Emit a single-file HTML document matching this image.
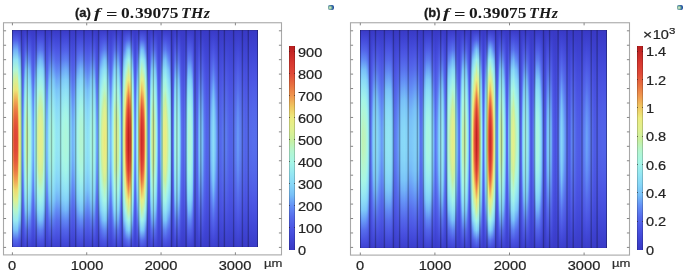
<!DOCTYPE html><html><head><meta charset="utf-8"><style>
*{margin:0;padding:0;box-sizing:border-box}
html,body{width:685px;height:271px;background:#fff;overflow:hidden;position:relative}
body{font-family:"Liberation Sans",sans-serif;color:#2a2a2a}
.a{position:absolute}
.f i{position:absolute;top:0;width:1px;height:100%;display:block}
.f{filter:blur(0.4px)}
.fr{position:absolute;border:1px solid #9a9a9a}
.tk{position:absolute;background:#707070}
.lb{position:absolute;width:60px;margin-left:-30px;text-align:center;font-size:12px;line-height:12px;transform:scaleX(1.22);white-space:nowrap;color:#222;will-change:transform;-webkit-text-stroke:0.2px #222}
.cl{position:absolute;font-size:12px;line-height:12px;transform:scaleX(1.21);transform-origin:0 0;white-space:nowrap;color:#222;will-change:transform;-webkit-text-stroke:0.2px #222}
.cb{position:absolute;box-shadow:inset 1px 0 0 rgba(0,0,0,.18),inset -1px 0 0 rgba(0,0,0,.18)}
.ct{position:absolute;width:1px;height:1px;background:rgba(40,20,20,.55)}
.tp{position:absolute;white-space:nowrap;font:bold 13px/16px "Liberation Sans",sans-serif;color:#1a1a1a;-webkit-text-stroke:0.3px #1a1a1a;will-change:transform;transform:scaleX(1.0);transform-origin:0 0}
.tm{position:absolute;white-space:nowrap;font:bold 13.6px/16px "Liberation Serif",serif;color:#1a1a1a;transform:scaleX(1.28);transform-origin:0 0;will-change:transform}
.it{font-style:italic}
.ico{position:absolute;width:6px;height:5px;border-radius:2px;background:radial-gradient(circle at 35% 55%,#e8f4d8 0,#8cc09c 28%,#2456a4 62%,#1c4090 100%)}
.edge{position:absolute;box-shadow:inset 1px 0 0 rgba(10,10,60,.25),inset -1px 0 0 rgba(10,10,60,.25),inset 0 1px 0 rgba(30,30,70,.22),inset 0 -1px 0 rgba(10,10,60,.08);pointer-events:none}
</style></head><body><div class="a f" style="left:12px;top:30px;width:246px;height:217px"><i style="left:0px;background:linear-gradient(#2f30a2 0px,#3f48ba 10px,#5276c8 20px,#6cacc9 30px,#81c3bf 40px,#94c7a4 50px,#acc37b 60px,#bcc06c 70px,#c1ae58 80px,#c3964a 90px,#c38544 100px,#c37f42 110px,#c38344 120px,#c39249 130px,#c2a954 140px,#bec069 150px,#b1c378 160px,#99c599 170px,#85c6bc 180px,#71b2c8 190px,#5884c8 200px,#424fbc 210px,#363baf 217px)"></i><i style="left:1px;background:linear-gradient(#3a3bc8 0px,#4f5ee7 10px,#6da5f7 20px,#8edff5 30px,#abf6df 40px,#c9f09f 50px,#e7ee87 60px,#efce65 70px,#f09e52 80px,#eb7e46 90px,#e76b3f 100px,#e6653e 110px,#e7693f 120px,#ea7a44 130px,#f0964f 140px,#f0c55f 150px,#eaed83 160px,#d1f09a 170px,#b0f6d7 180px,#94e5f3 190px,#75b9f8 200px,#5467ea 210px,#434bda 217px)"></i><i style="left:2px;background:linear-gradient(#3a3bc8 0px,#5161e8 10px,#72b1f7 20px,#93e5f3 30px,#b1f6d4 40px,#d7f096 50px,#ede479 60px,#f0ab56 70px,#ea7c45 80px,#e45d3c 90px,#e04a38 100px,#de4636 110px,#df4937 120px,#e3583b 130px,#e97542 140px,#f0a053 150px,#eed96f 160px,#dff090 170px,#b8f5c7 180px,#9aebef 190px,#7ac3f8 200px,#556beb 210px,#444cdb 217px)"></i><i style="left:3px;background:linear-gradient(#3a3bc8 0px,#5161e8 10px,#72b1f7 20px,#93e5f3 30px,#b1f6d4 40px,#d7f096 50px,#ede479 60px,#f0ab56 70px,#ea7c45 80px,#e45d3c 90px,#e04a38 100px,#de4636 110px,#df4937 120px,#e3583b 130px,#e97542 140px,#f0a053 150px,#eed96f 160px,#dff090 170px,#b8f5c7 180px,#9aebef 190px,#7ac3f8 200px,#556beb 210px,#444cdb 217px)"></i><i style="left:4px;background:linear-gradient(#3a3bc8 0px,#5161e8 10px,#72b1f7 20px,#93e5f3 30px,#b1f6d4 40px,#d7f096 50px,#ede479 60px,#f0ab56 70px,#ea7c45 80px,#e45d3c 90px,#e04a38 100px,#de4636 110px,#df4937 120px,#e3583b 130px,#e97542 140px,#f0a053 150px,#eed96f 160px,#dff090 170px,#b8f5c7 180px,#9aebef 190px,#7ac3f8 200px,#556beb 210px,#444cdb 217px)"></i><i style="left:5px;background:linear-gradient(#3a3bc8 0px,#5060e8 10px,#71aef7 20px,#92e3f4 30px,#b0f6d7 40px,#d3f098 50px,#ecea7e 60px,#f0b55a 70px,#ec8548 80px,#e6663e 90px,#e2533a 100px,#e04c38 110px,#e15139 120px,#e5613d 130px,#eb7e46 140px,#f0aa56 150px,#ede075 160px,#dbf093 170px,#b5f6cd 180px,#98eaf1 190px,#79c1f8 200px,#556aeb 210px,#444bdb 217px)"></i><i style="left:6px;background:linear-gradient(#3a3bc7 0px,#4d58e5 10px,#648ff6 20px,#84d2f8 30px,#9deeed 40px,#b4f6d0 50px,#d0f09b 60px,#e6ee88 70px,#eedd73 80px,#f0c35e 90px,#f0af58 100px,#f0a755 110px,#f0ac57 120px,#f0be5d 130px,#eed86e 140px,#e8ed85 150px,#d6f097 160px,#b9f4c3 170px,#a2f3e9 180px,#89daf7 190px,#6ba0f7 200px,#5161e8 210px,#4248d8 217px)"></i><i style="left:7px;background:linear-gradient(#393ac7 0px,#4b54e2 10px,#5e80f1 20px,#7ac4f8 30px,#91e2f4 40px,#a7f6e5 50px,#b9f5c4 60px,#cff09c 70px,#e1f08e 80px,#e9ed85 90px,#ece87d 100px,#ede378 110px,#ede77b 120px,#eaed83 130px,#e3ef8c 140px,#d3f099 150px,#bdf3b9 160px,#aaf6e0 170px,#95e7f2 180px,#7fcbf8 190px,#628cf5 200px,#4e5be6 210px,#4046d6 217px)"></i><i style="left:8px;background:linear-gradient(#3536b7 0px,#434bce 10px,#536edc 20px,#6ba8e4 30px,#80cae3 40px,#91dcd9 50px,#a1e2c6 60px,#b1dfa4 70px,#c0dd8d 80px,#cddd85 90px,#d1db80 100px,#d3db7e 110px,#d2db7f 120px,#cedc84 130px,#c3dd8b 140px,#b4de9d 150px,#a4e2c2 160px,#95dfd6 170px,#83cee1 180px,#70b3e4 190px,#5778df 200px,#4750d2 210px,#3b40c4 217px)"></i><i style="left:9px;background:linear-gradient(#2a2a90 0px,#30359e 10px,#3942a8 20px,#4155ae 30px,#4b6fb4 40px,#588cb5 50px,#619ab5 60px,#67a2b3 70px,#6da9b1 80px,#71adae 90px,#74afac 100px,#75b0ab 110px,#74afac 120px,#72adad 130px,#6eaab1 140px,#69a4b3 150px,#629cb5 160px,#5a8fb5 170px,#4e75b4 180px,#435aaf 190px,#3b46a9 200px,#3238a0 210px,#2d2f98 217px)"></i><i style="left:10px;background:linear-gradient(#3737c0 0px,#3b3ec9 10px,#3f45d1 20px,#454dd8 30px,#4a54de 40px,#4e5de1 50px,#5265e4 60px,#566ee7 70px,#5977e9 80px,#5c7eeb 90px,#5d82ec 100px,#5e83ed 110px,#5d82ed 120px,#5c7fec 130px,#5a79ea 140px,#5670e8 150px,#5367e5 160px,#4f5fe2 170px,#4b56df 180px,#464fd9 190px,#4047d3 200px,#3c40cb 210px,#393bc4 217px)"></i><i style="left:11px;background:linear-gradient(#3939c5 0px,#3e42d1 10px,#454ddc 20px,#4c57e4 30px,#5264e9 40px,#5973ee 50px,#5f84f3 60px,#6694f6 70px,#6ca4f7 80px,#71aff7 90px,#74b7f8 100px,#75b9f8 110px,#75b8f8 120px,#72b1f7 130px,#6da6f7 140px,#6797f6 150px,#6187f4 160px,#5a77ef 170px,#5467ea 180px,#4e5ae5 190px,#474fde 200px,#3f44d4 210px,#3b3ecb 217px)"></i><i style="left:12px;background:linear-gradient(#3939c6 0px,#4148d8 10px,#4d58e5 20px,#576dec 30px,#638df5 40px,#73b3f7 50px,#7fcbf8 60px,#89d9f8 70px,#90e1f5 80px,#95e6f3 90px,#98eaf0 100px,#99ebef 110px,#99eaf0 120px,#95e7f2 130px,#91e2f4 140px,#8adbf7 150px,#81cef8 160px,#76baf8 170px,#6694f6 180px,#5974ee 190px,#4f5ce6 200px,#444bda 210px,#3d40cf 217px)"></i><i style="left:13px;background:linear-gradient(#393ac6 0px,#454cdc 10px,#5264e9 20px,#628af4 30px,#77bdf8 40px,#87d7f8 50px,#94e6f3 60px,#a0f1ea 70px,#aaf6e0 80px,#b0f6d6 90px,#b4f6d0 100px,#b6f5cb 110px,#b5f6cf 120px,#b1f6d5 130px,#abf6de 140px,#a2f3e9 150px,#96e8f2 160px,#8adaf7 170px,#7ac4f8 180px,#6593f6 190px,#5569eb 200px,#4850df 210px,#3e43d2 217px)"></i><i style="left:14px;background:linear-gradient(#3334b1 0px,#3f47c6 10px,#4d60d2 20px,#5f8edc 30px,#73b8dd 40px,#82cbd9 50px,#91d8d0 60px,#9cdbc1 70px,#a6daac 80px,#afd796 90px,#b6d68d 100px,#b8d68b 110px,#b7d68c 120px,#b1d792 130px,#a8d9a7 140px,#9edbbe 150px,#93dbce 160px,#85ced8 170px,#77bddd 180px,#6499dc 190px,#5068d5 200px,#424bca 210px,#383dbd 217px)"></i><i style="left:15px;background:linear-gradient(#2a2a91 0px,#3339a1 10px,#3e4cab 20px,#4b6eb4 30px,#5c92b5 40px,#68a3b3 50px,#72aead 60px,#7cb4a4 70px,#83b499 80px,#8ab289 90px,#8eb07e 100px,#90b07a 110px,#8fb07d 120px,#8bb186 130px,#84b396 140px,#7db4a1 150px,#75b0ab 160px,#6aa5b2 170px,#5e96b5 180px,#4f77b4 190px,#4052ad 200px,#363ca4 210px,#2e319a 217px)"></i><i style="left:16px;background:linear-gradient(#393ac6 0px,#454ddc 10px,#5366ea 20px,#638ef6 30px,#7ac3f8 40px,#8adbf7 50px,#97e9f1 60px,#a4f5e7 70px,#adf6da 80px,#b4f6d0 90px,#baf4c2 100px,#bcf4bc 110px,#bbf4c0 120px,#b6f6cc 130px,#aff6d8 140px,#a7f6e5 150px,#9aecef 160px,#8ddef6 170px,#7dc8f8 180px,#6899f6 190px,#566bec 200px,#4851e0 210px,#3e43d2 217px)"></i><i style="left:17px;background:linear-gradient(#393ac6 0px,#444cdb 10px,#5262e8 20px,#6086f3 30px,#74b6f8 40px,#85d3f8 50px,#91e3f4 60px,#9deeed 70px,#a6f6e6 80px,#acf6dc 90px,#b0f6d6 100px,#b2f6d4 110px,#b1f6d5 120px,#adf6da 130px,#a8f6e3 140px,#9ff0eb 150px,#93e5f3 160px,#87d7f8 170px,#78c0f8 180px,#638ef5 190px,#5468ea 200px,#4750de 210px,#3e42d1 217px)"></i><i style="left:18px;background:linear-gradient(#393ac6 0px,#434ada 10px,#505fe7 20px,#5d7df1 30px,#6ea7f7 40px,#7fcaf8 50px,#8bdcf7 60px,#95e7f2 70px,#9eefec 80px,#a5f5e7 90px,#a8f6e2 100px,#aaf6e0 110px,#a9f6e2 120px,#a6f6e6 130px,#9ff0eb 140px,#97e9f1 150px,#8ddef6 160px,#81cef8 170px,#72b1f7 180px,#6085f3 190px,#5264e9 200px,#464edd 210px,#3e42d0 217px)"></i><i style="left:19px;background:linear-gradient(#3939c6 0px,#4046d6 10px,#4a54e2 20px,#5365ea 30px,#5d7df1 40px,#6899f6 50px,#75b8f8 60px,#7ec9f8 70px,#85d3f8 80px,#8adaf7 90px,#8cddf6 100px,#8ddef6 110px,#8dddf6 120px,#8adbf7 130px,#86d5f8 140px,#7fcbf8 150px,#77bdf8 160px,#6ba0f7 170px,#5f83f2 180px,#5569eb 190px,#4c57e4 200px,#4249d8 210px,#3c40ce 217px)"></i><i style="left:20px;background:linear-gradient(#3939c5 0px,#3e43d2 10px,#454ddc 20px,#4d59e5 30px,#5366ea 40px,#5a77ef 50px,#6188f4 60px,#689af6 70px,#6fabf7 80px,#74b7f8 90px,#77bef8 100px,#78c1f8 110px,#78bff8 120px,#75b9f8 130px,#70adf7 140px,#6a9ef7 150px,#628cf5 160px,#5c7af0 170px,#5469eb 180px,#4e5be6 190px,#474fde 200px,#3f45d4 210px,#3b3ecc 217px)"></i><i style="left:21px;background:linear-gradient(#3939c5 0px,#3e42d1 10px,#444bda 20px,#4b55e3 30px,#5160e8 40px,#566bec 50px,#5c7bf0 60px,#6189f4 70px,#6695f6 80px,#6ba0f7 90px,#6ea7f7 100px,#6faaf7 110px,#6ea8f7 120px,#6ba2f7 130px,#6798f6 140px,#628bf5 150px,#5d7ef1 160px,#576eed 170px,#5263e9 180px,#4c57e4 190px,#454ddc 200px,#3f44d3 210px,#3b3dcb 217px)"></i><i style="left:22px;background:linear-gradient(#3939c6 0px,#4045d5 10px,#4952e1 20px,#5263e9 30px,#5b78ef 40px,#6491f6 50px,#71aef7 60px,#7ac4f8 70px,#81cef8 80px,#86d5f8 90px,#89d9f8 100px,#8adaf7 110px,#89d9f7 120px,#87d6f8 130px,#82cff8 140px,#7cc6f8 150px,#73b4f7 160px,#6797f6 170px,#5d7df1 180px,#5366ea 190px,#4b55e3 200px,#4148d8 210px,#3c3fcd 217px)"></i><i style="left:23px;background:linear-gradient(#3132ab 0px,#393ebb 10px,#434dc6 20px,#4c61cd 30px,#577dd5 40px,#65a0d6 50px,#70b2d7 60px,#78bed5 70px,#7ec5d3 80px,#83cad1 90px,#86ccce 100px,#87cecd 110px,#86cdce 120px,#84cad0 130px,#7fc6d2 140px,#79bfd5 150px,#72b5d7 160px,#68a6d7 170px,#5a85d5 180px,#4e67cf 190px,#4551c8 200px,#3b41bd 210px,#3538b3 217px)"></i><i style="left:24px;background:linear-gradient(#2b2c96 0px,#3439a6 10px,#3e4ab0 20px,#4864b8 30px,#5788bb 40px,#649ebc 50px,#6dabb9 60px,#76b3b4 70px,#7db9af 80px,#82baa8 90px,#84baa3 100px,#86baa2 110px,#85baa3 120px,#82baa7 130px,#7ebaae 140px,#77b4b3 150px,#6fadb8 160px,#66a2bc 170px,#5a8fbc 180px,#4b6ab9 190px,#3f4eb1 200px,#363ca8 210px,#2f329e 217px)"></i><i style="left:25px;background:linear-gradient(#393ac7 0px,#474fde 10px,#556aeb 20px,#699bf6 30px,#7fcbf8 40px,#90e2f4 50px,#a0f0eb 60px,#acf6dc 70px,#b7f5c9 80px,#c1f2b1 90px,#c7f0a2 100px,#caf09f 110px,#c8f0a0 120px,#c2f2ae 130px,#b9f4c4 140px,#aef6d9 150px,#a3f3e9 160px,#93e5f3 170px,#83d1f8 180px,#6ea7f7 190px,#5973ee 200px,#4a53e2 210px,#3f44d3 217px)"></i><i style="left:26px;background:linear-gradient(#393ac7 0px,#4851df 10px,#5872ee 20px,#70acf7 30px,#87d6f8 40px,#98eaf0 50px,#a9f6e1 60px,#b7f5c9 70px,#c6f1a6 80px,#d2f099 90px,#daf094 100px,#ddf092 110px,#dbf093 120px,#d4f098 130px,#c8f0a0 140px,#baf4c1 150px,#acf6dd 160px,#9cedee 170px,#8adbf7 180px,#75b9f8 190px,#5c7cf0 200px,#4c56e4 210px,#3f45d4 217px)"></i><i style="left:27px;background:linear-gradient(#393ac7 0px,#4952e0 10px,#5a77ef 20px,#74b5f8 30px,#8adbf7 40px,#9deeed 50px,#aef6d9 60px,#bff3b6 70px,#cff09b 80px,#ddf092 90px,#e3ef8c 100px,#e4ef8a 110px,#e3ef8c 120px,#dff091 130px,#d3f099 140px,#c2f2ae 150px,#b1f6d5 160px,#a1f2ea 170px,#8edff5 180px,#79c2f8 190px,#5e82f2 200px,#4d57e4 210px,#4045d5 217px)"></i><i style="left:28px;background:linear-gradient(#393ac7 0px,#4952e1 10px,#5b78ef 20px,#75b8f8 30px,#8bdcf7 40px,#9eefec 50px,#aff6d7 60px,#c1f2b1 70px,#d2f099 80px,#e0f090 90px,#e4ef8a 100px,#e6ee88 110px,#e5ee8a 120px,#e1f08f 130px,#d5f097 140px,#c4f1a9 150px,#b2f6d3 160px,#a2f3e9 170px,#8fe0f5 180px,#7ac3f8 190px,#5f83f2 200px,#4d58e5 210px,#4045d5 217px)"></i><i style="left:29px;background:linear-gradient(#393ac7 0px,#4952e0 10px,#5a75ef 20px,#72b3f7 30px,#89daf7 40px,#9cedee 50px,#adf6db 60px,#bdf3bb 70px,#ccf09d 80px,#daf094 90px,#e1f08e 100px,#e3ef8c 110px,#e2ef8e 120px,#dcf093 130px,#d0f09b 140px,#c0f2b3 150px,#b0f6d7 160px,#a0f0eb 170px,#8ddef6 180px,#78c0f8 190px,#5e80f2 200px,#4c57e4 210px,#4045d5 217px)"></i><i style="left:30px;background:linear-gradient(#393ac7 0px,#4851df 10px,#5872ee 20px,#70acf7 30px,#87d6f8 40px,#98eaf0 50px,#a9f6e1 60px,#b7f5c9 70px,#c6f1a6 80px,#d2f099 90px,#daf094 100px,#ddf092 110px,#dbf093 120px,#d4f098 130px,#c8f0a0 140px,#baf4c1 150px,#acf6dd 160px,#9cedee 170px,#8adbf7 180px,#75b9f8 190px,#5c7cf0 200px,#4c56e4 210px,#3f45d4 217px)"></i><i style="left:31px;background:linear-gradient(#393ac6 0px,#464edd 10px,#5468eb 20px,#6695f6 30px,#7dc7f8 40px,#8edef6 50px,#9ceded 60px,#a9f6e1 70px,#b2f6d3 80px,#bbf4bf 90px,#c1f2b0 100px,#c4f1aa 110px,#c2f2ae 120px,#bdf3bb 130px,#b4f6d0 140px,#abf6de 150px,#9ff0eb 160px,#91e2f4 170px,#81cdf8 180px,#6ba1f7 190px,#576fed 200px,#4952e1 210px,#3f43d3 217px)"></i><i style="left:32px;background:linear-gradient(#3333b1 0px,#3c43c3 10px,#4856cf 20px,#5473d8 30px,#649bdd 40px,#73b8dd 50px,#7fc7db 60px,#88d1d6 70px,#90d8d0 80px,#96dbca 90px,#99dbc5 100px,#9bdbc3 110px,#9adbc4 120px,#97dbc9 130px,#92d9cf 140px,#8ad2d5 150px,#80c9da 160px,#76bbdd 170px,#68a4dd 180px,#577ada 190px,#4a5ad0 200px,#3f46c6 210px,#373bba 217px)"></i><i style="left:33px;background:linear-gradient(#292a90 0px,#2f349d 10px,#373fa6 20px,#3e4dac 30px,#4663b2 40px,#517bb4 50px,#5a90b5 60px,#619ab5 70px,#66a1b4 80px,#69a5b2 90px,#6ca7b1 100px,#6ca8b1 110px,#6ca7b1 120px,#6aa5b2 130px,#67a2b4 140px,#629cb5 150px,#5b92b5 160px,#5380b5 170px,#4867b3 180px,#4051ad 190px,#3942a8 200px,#31369f 210px,#2c2f97 217px)"></i><i style="left:34px;background:linear-gradient(#3939c5 0px,#3e42d1 10px,#454cdb 20px,#4c56e4 30px,#5263e9 40px,#5871ed 50px,#5f82f2 60px,#6491f6 70px,#6ba0f7 80px,#70acf7 90px,#73b3f7 100px,#74b6f8 110px,#73b4f7 120px,#70adf7 130px,#6ca3f7 140px,#6694f6 150px,#6085f3 160px,#5975ee 170px,#5366ea 180px,#4d59e5 190px,#464edd 200px,#3f44d4 210px,#3b3ecb 217px)"></i><i style="left:35px;background:linear-gradient(#3939c5 0px,#3e43d2 10px,#464edd 20px,#4e5ae6 30px,#5468eb 40px,#5c7bf0 50px,#638df5 60px,#6ba1f7 70px,#72b2f7 80px,#77bff8 90px,#7ac3f8 100px,#7bc5f8 110px,#7ac4f8 120px,#78c0f8 130px,#73b5f8 140px,#6da5f7 150px,#6491f6 160px,#5d7ff1 170px,#556bec 180px,#4f5de7 190px,#4850df 200px,#4045d5 210px,#3b3ecc 217px)"></i><i style="left:36px;background:linear-gradient(#3939c6 0px,#4046d6 10px,#4b55e3 20px,#5468ea 30px,#5f82f2 40px,#6ba2f7 50px,#78c1f8 60px,#81cef8 70px,#89d9f8 80px,#8ddef6 90px,#90e1f5 100px,#91e3f4 110px,#91e2f4 120px,#8edff5 130px,#8adaf7 140px,#83d1f8 150px,#7ac4f8 160px,#6ea8f7 170px,#6188f4 180px,#566bec 190px,#4d58e5 200px,#4249d9 210px,#3c40ce 217px)"></i><i style="left:37px;background:linear-gradient(#3939c6 0px,#4249d8 10px,#4e5ae6 20px,#5973ee 30px,#6696f6 40px,#77bef8 50px,#83d1f8 60px,#8ddef6 70px,#94e6f3 80px,#9aebef 90px,#9eefec 100px,#9ff0eb 110px,#9eefec 120px,#9becee 130px,#95e7f2 140px,#8edff5 150px,#86d4f8 160px,#7ac3f8 170px,#6a9ef7 180px,#5b7af0 190px,#505fe7 200px,#444cdb 210px,#3d41cf 217px)"></i><i style="left:38px;background:linear-gradient(#3637bb 0px,#4047ce 10px,#4c5adb 20px,#5878e4 30px,#69a2ea 40px,#79c1eb 50px,#85d1e9 60px,#8fdce4 70px,#97e4de 80px,#9ee9d9 90px,#a1e9d3 100px,#a2e9d1 110px,#a2e9d2 120px,#9fe9d7 130px,#99e5dd 140px,#90dee3 150px,#87d4e8 160px,#7cc5eb 170px,#6dabea 180px,#5b80e6 190px,#4e5fdd 200px,#424ad1 210px,#3a3ec5 217px)"></i><i style="left:39px;background:linear-gradient(#2a2a91 0px,#31369f 10px,#3a45a9 20px,#445cb0 30px,#517bb4 40px,#5d94b5 50px,#66a1b4 60px,#6da9b1 70px,#74afac 80px,#79b3a8 90px,#7cb4a4 100px,#7db4a3 110px,#7cb4a4 120px,#7ab4a7 130px,#75b0ab 140px,#6faab0 150px,#68a3b3 160px,#5f97b5 170px,#5382b5 180px,#4662b1 190px,#3c49aa 200px,#3339a1 210px,#2d3098 217px)"></i><i style="left:40px;background:linear-gradient(#3637bb 0px,#4046ce 10px,#4c59db 20px,#5876e4 30px,#689eea 40px,#78bfeb 50px,#83d0e9 60px,#8ddae5 70px,#95e2e0 80px,#9be7db 90px,#9fe9d6 100px,#a0e9d4 110px,#9fe9d6 120px,#9ce8da 130px,#97e3de 140px,#8edce5 150px,#85d2e9 160px,#7ac3eb 170px,#6ba7ea 180px,#5a7de6 190px,#4e5edc 200px,#424ad1 210px,#3a3ec5 217px)"></i><i style="left:41px;background:linear-gradient(#393ac6 0px,#434ad9 10px,#4f5de7 20px,#5b79f0 30px,#6ba0f7 40px,#7cc6f8 50px,#88d8f8 60px,#92e3f4 70px,#9aebef 80px,#a0f1ea 90px,#a4f5e7 100px,#a6f6e6 110px,#a5f5e7 120px,#a1f2e9 130px,#9bedee 140px,#93e5f3 150px,#8adbf7 160px,#7ecaf8 170px,#6fa9f7 180px,#5e80f2 190px,#5162e8 200px,#454ddc 210px,#3d41d0 217px)"></i><i style="left:42px;background:linear-gradient(#3939c6 0px,#4249d8 10px,#4e5ae6 20px,#5973ee 30px,#6695f6 40px,#77bef8 50px,#83d1f8 60px,#8dddf6 70px,#94e6f3 80px,#9aebef 90px,#9eefec 100px,#9ff0eb 110px,#9eefec 120px,#9becee 130px,#95e7f2 140px,#8edff5 150px,#85d4f8 160px,#7ac3f8 170px,#6a9ef7 180px,#5b79f0 190px,#505fe7 200px,#444cdb 210px,#3d41cf 217px)"></i><i style="left:43px;background:linear-gradient(#3939c6 0px,#4148d7 10px,#4d58e5 20px,#566cec 30px,#628cf5 40px,#72b0f7 50px,#7ec9f8 60px,#88d8f8 70px,#8fdff5 80px,#94e5f3 90px,#97e9f1 100px,#98eaf0 110px,#97e9f1 120px,#94e6f3 130px,#90e1f5 140px,#89d9f7 150px,#80ccf8 160px,#75b8f8 170px,#6592f6 180px,#5973ee 190px,#4f5ce6 200px,#444bda 210px,#3d40cf 217px)"></i><i style="left:44px;background:linear-gradient(#3939c6 0px,#4147d7 10px,#4c56e4 20px,#5569eb 30px,#6085f3 40px,#6da6f7 50px,#7ac3f8 60px,#83d1f8 70px,#8adbf7 80px,#8fe0f5 90px,#92e4f4 100px,#93e5f3 110px,#93e4f3 120px,#90e1f5 130px,#8bdcf7 140px,#85d3f8 150px,#7cc6f8 160px,#70adf7 170px,#628bf5 180px,#576dec 190px,#4e59e5 200px,#434ad9 210px,#3d40ce 217px)"></i><i style="left:45px;background:linear-gradient(#3939c6 0px,#4147d7 10px,#4c56e4 20px,#556aeb 30px,#6086f3 40px,#6ea8f7 50px,#7bc4f8 60px,#84d2f8 70px,#8bdcf7 80px,#90e1f5 90px,#93e5f3 100px,#94e6f3 110px,#93e5f3 120px,#91e2f4 130px,#8cddf6 140px,#86d5f8 150px,#7dc7f8 160px,#71aff7 170px,#638cf5 180px,#576eed 190px,#4e5ae5 200px,#434ad9 210px,#3d40ce 217px)"></i><i style="left:46px;background:linear-gradient(#3939c6 0px,#4147d7 10px,#4c56e4 20px,#556aeb 30px,#6188f4 40px,#6faaf7 50px,#7cc6f8 60px,#85d4f8 70px,#8cddf6 80px,#91e2f4 90px,#94e6f3 100px,#95e7f2 110px,#94e6f3 120px,#92e3f4 130px,#8ddef6 140px,#87d6f8 150px,#7ec9f8 160px,#72b1f7 170px,#638ef5 180px,#576fed 190px,#4e5ae6 200px,#434ada 210px,#3d40ce 217px)"></i><i style="left:47px;background:linear-gradient(#3738c0 0px,#3f45d1 10px,#4a55de 20px,#5368e5 30px,#5f86ee 40px,#6da9f1 50px,#7ac2f1 60px,#83d0f1 70px,#89d8ef 80px,#8edeed 90px,#91e1ec 100px,#92e2eb 110px,#92e1ec 120px,#8fdeed 130px,#8bd9ef 140px,#84d2f1 150px,#7cc5f1 160px,#70b0f1 170px,#618cef 180px,#566ee7 190px,#4c59e0 200px,#4148d4 210px,#3b3fc9 217px)"></i><i style="left:48px;background:linear-gradient(#292a90 0px,#30359e 10px,#3941a7 20px,#4052ad 30px,#4a6bb4 40px,#5688b5 50px,#5f97b5 60px,#66a0b4 70px,#6ba6b2 80px,#6fabb0 90px,#72adae 100px,#73aead 110px,#72adad 120px,#70abaf 130px,#6ca7b1 140px,#67a2b4 150px,#6099b5 160px,#588db5 170px,#4c71b4 180px,#4257af 190px,#3a44a9 200px,#3237a0 210px,#2d2f97 217px)"></i><i style="left:49px;background:linear-gradient(#3435b6 0px,#3d43c7 10px,#4855d4 20px,#536ddc 30px,#6190e3 40px,#70b3e4 50px,#7cc5e4 60px,#84cfe1 70px,#8bd7dd 80px,#91dcd9 90px,#95dfd6 100px,#96e0d5 110px,#95dfd6 120px,#92dcd8 130px,#8dd8dc 140px,#86d1e0 150px,#7ec7e4 160px,#73b7e4 170px,#6498e3 180px,#5574dd 190px,#4a59d5 200px,#3f47ca 210px,#383cbf 217px)"></i><i style="left:50px;background:linear-gradient(#393ac6 0px,#434ada 10px,#505ee7 20px,#5c7cf1 30px,#6da6f7 40px,#7ec9f8 50px,#8bdbf7 60px,#94e6f3 70px,#9deeed 80px,#a4f4e8 90px,#a8f6e3 100px,#a9f6e1 110px,#a8f6e3 120px,#a5f5e7 130px,#9ff0eb 140px,#96e8f2 150px,#8dddf6 160px,#81cdf8 170px,#71aff7 180px,#5f84f3 190px,#5263e9 200px,#464edd 210px,#3e42d0 217px)"></i><i style="left:51px;background:linear-gradient(#393ac6 0px,#434ada 10px,#505fe7 20px,#5d7ef1 30px,#6fa9f7 40px,#7fcbf8 50px,#8cddf6 60px,#96e8f2 70px,#9ff0eb 80px,#a6f6e6 90px,#a9f6e1 100px,#abf6de 110px,#aaf6e0 120px,#a7f6e5 130px,#a1f1ea 140px,#98eaf1 150px,#8edff5 160px,#82cff8 170px,#72b3f7 180px,#6086f3 190px,#5264e9 200px,#464edd 210px,#3e42d1 217px)"></i><i style="left:52px;background:linear-gradient(#393ac6 0px,#444bda 10px,#5160e8 20px,#5e80f2 30px,#70adf7 40px,#81cdf8 50px,#8ddef6 60px,#98e9f1 70px,#a1f2ea 80px,#a8f6e4 90px,#abf6de 100px,#adf6dc 110px,#acf6dd 120px,#a8f6e2 130px,#a2f3e9 140px,#9aebef 150px,#8fe1f5 160px,#84d1f8 170px,#74b6f8 180px,#6188f4 190px,#5365e9 200px,#464fdd 210px,#3e42d1 217px)"></i><i style="left:53px;background:linear-gradient(#393ac6 0px,#444bda 10px,#5161e8 20px,#5f82f2 30px,#71b0f7 40px,#82cff8 50px,#8fe0f5 60px,#99ebf0 70px,#a3f3e8 80px,#a9f6e1 90px,#adf6db 100px,#aef6d9 110px,#adf6da 120px,#aaf6e0 130px,#a4f5e7 140px,#9bedee 150px,#91e2f4 160px,#85d3f8 170px,#75baf8 180px,#628af4 190px,#5366ea 200px,#474fde 210px,#3e42d1 217px)"></i><i style="left:54px;background:linear-gradient(#393ac6 0px,#444bda 10px,#5160e8 20px,#5e80f2 30px,#70adf7 40px,#81cdf8 50px,#8ddef6 60px,#98e9f1 70px,#a1f2ea 80px,#a8f6e4 90px,#abf6de 100px,#adf6dc 110px,#acf6dd 120px,#a8f6e2 130px,#a3f3e9 140px,#9aebef 150px,#90e1f5 160px,#84d1f8 170px,#74b6f8 180px,#6188f4 190px,#5365e9 200px,#464fdd 210px,#3e42d1 217px)"></i><i style="left:55px;background:linear-gradient(#393ac6 0px,#434ada 10px,#505fe7 20px,#5d7ef1 30px,#6ea9f7 40px,#7fcbf8 50px,#8cdcf6 60px,#96e8f2 70px,#9ff0eb 80px,#a6f6e6 90px,#a9f6e1 100px,#abf6df 110px,#aaf6e0 120px,#a6f6e5 130px,#a0f1ea 140px,#98e9f1 150px,#8edff5 160px,#82cff8 170px,#72b2f7 180px,#6086f3 190px,#5264e9 200px,#464edd 210px,#3e42d1 217px)"></i><i style="left:56px;background:linear-gradient(#3738c1 0px,#4148d3 10px,#4d5be0 20px,#5976e9 30px,#689cf0 40px,#79c1f1 50px,#85d3f1 60px,#8edded 70px,#96e5e8 80px,#9cebe4 90px,#a0eee1 100px,#a2efdf 110px,#a1efe0 120px,#9dece3 130px,#97e7e7 140px,#90dfec 150px,#87d5f0 160px,#7bc4f1 170px,#6ca5f0 180px,#5b7deb 190px,#4f5fe2 200px,#444bd6 210px,#3c40ca 217px)"></i><i style="left:57px;background:linear-gradient(#292a90 0px,#2f349d 10px,#383fa7 20px,#3f4eac 30px,#4765b2 40px,#527fb4 50px,#5b92b5 60px,#629cb5 70px,#67a2b3 80px,#6ba6b2 90px,#6da9b1 100px,#6eaab0 110px,#6da9b1 120px,#6ba7b2 130px,#68a3b3 140px,#639eb5 150px,#5d94b5 160px,#5484b5 170px,#4969b4 180px,#4053ad 190px,#3943a8 200px,#31369f 210px,#2c2f97 217px)"></i><i style="left:58px;background:linear-gradient(#3435b6 0px,#3a3fc3 10px,#434bce 20px,#4b59d5 30px,#526bdb 40px,#5b81e1 50px,#659ae3 60px,#6eb0e4 70px,#74b9e4 80px,#79c0e4 90px,#7bc4e4 100px,#7cc5e4 110px,#7cc4e4 120px,#79c1e4 130px,#75bbe4 140px,#70b2e4 150px,#679fe3 160px,#5c86e2 170px,#5470dc 180px,#4c5cd6 190px,#454dd0 200px,#3c41c6 210px,#373abc 217px)"></i><i style="left:59px;background:linear-gradient(#3939c5 0px,#3f43d3 10px,#464fde 20px,#4e5be6 30px,#5569eb 40px,#5d7df1 50px,#6490f6 60px,#6da5f7 70px,#74b7f8 80px,#79c2f8 90px,#7cc6f8 100px,#7dc7f8 110px,#7cc6f8 120px,#7ac3f8 130px,#75b9f8 140px,#6ea9f7 150px,#6695f6 160px,#5e81f2 170px,#566cec 180px,#505ee7 190px,#4851e0 200px,#4045d5 210px,#3c3ecc 217px)"></i><i style="left:60px;background:linear-gradient(#3939c5 0px,#3e42d1 10px,#444cdb 20px,#4c56e4 30px,#5262e9 40px,#576fed 50px,#5e80f2 60px,#638ff6 70px,#6a9df7 80px,#6ea9f7 90px,#71b0f7 100px,#72b2f7 110px,#72b1f7 120px,#6fabf7 130px,#6ba0f7 140px,#6591f6 150px,#5f83f2 160px,#5973ee 170px,#5365e9 180px,#4d58e5 190px,#464edd 200px,#3f44d3 210px,#3b3ecb 217px)"></i><i style="left:61px;background:linear-gradient(#3939c5 0px,#3e43d2 10px,#454ddc 20px,#4d57e5 30px,#5365e9 40px,#5974ee 50px,#6085f3 60px,#6695f6 70px,#6da5f7 80px,#72b1f7 90px,#75b8f8 100px,#76bbf8 110px,#75b9f8 120px,#72b3f7 130px,#6ea8f7 140px,#6899f6 150px,#6188f4 160px,#5a77ef 170px,#5467ea 180px,#4e5ae5 190px,#474fde 200px,#3f44d4 210px,#3b3ecb 217px)"></i><i style="left:62px;background:linear-gradient(#3939c5 0px,#3e43d2 10px,#464edd 20px,#4e5ae5 30px,#5468ea 40px,#5b7af0 50px,#638cf5 60px,#6ba0f7 70px,#72b1f7 80px,#77bdf8 90px,#7ac2f8 100px,#7bc4f8 110px,#7ac3f8 120px,#78bff8 130px,#73b3f7 140px,#6ca4f7 150px,#6490f6 160px,#5d7ef1 170px,#556aeb 180px,#4f5de6 190px,#4850df 200px,#3f45d5 210px,#3b3ecc 217px)"></i><i style="left:63px;background:linear-gradient(#292a90 0px,#2e339c 10px,#363ca4 20px,#3c49aa 30px,#4359af 40px,#4a6cb4 50px,#5381b5 60px,#5a90b5 70px,#5f97b5 80px,#639db5 90px,#659fb4 100px,#65a0b4 110px,#659fb4 120px,#639db5 130px,#6098b5 140px,#5b91b5 150px,#5585b5 160px,#4c70b4 170px,#445cb0 180px,#3d4bab 190px,#373ea6 200px,#30359d 210px,#2c2e96 217px)"></i><i style="left:64px;background:linear-gradient(#3333b0 0px,#3a40c0 10px,#454fcc 20px,#4d62d3 30px,#587edb 40px,#66a0dd 50px,#71b5dd 60px,#7ac1dd 70px,#80c8da 80px,#85ced8 90px,#88d1d6 100px,#89d2d5 110px,#88d1d6 120px,#85ced8 130px,#81cada 140px,#7bc3dc 150px,#73b8dd 160px,#69a6dd 170px,#5b84dc 180px,#4f67d4 190px,#4652cd 200px,#3c43c3 210px,#363ab9 217px)"></i><i style="left:65px;background:linear-gradient(#393ac6 0px,#434ad9 10px,#4f5de6 20px,#5b78ef 30px,#6a9ff7 40px,#7bc5f8 50px,#88d8f8 60px,#91e3f4 70px,#99ebf0 80px,#a0f0eb 90px,#a4f4e8 100px,#a5f5e7 110px,#a4f4e7 120px,#a1f1ea 130px,#9becef 140px,#93e4f3 150px,#8adaf7 160px,#7ec9f8 170px,#6ea8f7 180px,#5e7ff1 190px,#5161e8 200px,#454ddc 210px,#3d41d0 217px)"></i><i style="left:66px;background:linear-gradient(#393ac6 0px,#434ada 10px,#505fe7 20px,#5d7ef1 30px,#6ea8f7 40px,#7fcaf8 50px,#8cdcf6 60px,#95e7f2 70px,#9eefec 80px,#a5f5e7 90px,#a9f6e1 100px,#aaf6df 110px,#a9f6e1 120px,#a6f6e6 130px,#a0f1eb 140px,#97e9f1 150px,#8edef6 160px,#82cff8 170px,#72b2f7 180px,#6085f3 190px,#5264e9 200px,#464edd 210px,#3e42d1 217px)"></i><i style="left:67px;background:linear-gradient(#393ac6 0px,#444bdb 10px,#5161e8 20px,#5f83f2 30px,#72b1f7 40px,#83d0f8 50px,#8fe0f5 60px,#9aecef 70px,#a4f4e8 80px,#aaf6e0 90px,#aef6da 100px,#aff6d8 110px,#aef6d9 120px,#abf6de 130px,#a5f5e7 140px,#9ceded 150px,#91e3f4 160px,#86d4f8 170px,#76bbf8 180px,#628bf5 190px,#5366ea 200px,#474fde 210px,#3e42d1 217px)"></i><i style="left:68px;background:linear-gradient(#393ac6 0px,#454cdb 10px,#5263e9 20px,#6188f4 30px,#76bbf8 40px,#86d5f8 50px,#93e5f3 60px,#9ff0eb 70px,#a8f6e2 80px,#aff6d8 90px,#b3f6d2 100px,#b4f6d0 110px,#b3f6d1 120px,#b0f6d7 130px,#aaf6e0 140px,#a1f2ea 150px,#95e7f2 160px,#89d9f7 170px,#7ac2f8 180px,#6491f6 190px,#5469eb 200px,#4850df 210px,#3e43d2 217px)"></i><i style="left:69px;background:linear-gradient(#393ac6 0px,#444cdb 10px,#5263e9 20px,#6087f3 30px,#75b8f8 40px,#85d4f8 50px,#92e4f4 60px,#9eefec 70px,#a7f6e4 80px,#aef6da 90px,#b1f6d4 100px,#b3f6d2 110px,#b2f6d3 120px,#aef6d9 130px,#a9f6e2 140px,#a0f1eb 150px,#94e6f3 160px,#88d8f8 170px,#79c1f8 180px,#648ff6 190px,#5468eb 200px,#4750df 210px,#3e42d1 217px)"></i><i style="left:70px;background:linear-gradient(#393ac6 0px,#444cdb 10px,#5262e8 20px,#6086f3 30px,#74b6f8 40px,#85d3f8 50px,#91e2f4 60px,#9ceeed 70px,#a6f6e6 80px,#acf6dc 90px,#b0f6d6 100px,#b2f6d4 110px,#b1f6d5 120px,#adf6da 130px,#a8f6e3 140px,#9ff0ec 150px,#93e5f3 160px,#87d7f8 170px,#78c0f8 180px,#638ef5 190px,#5467ea 200px,#4750de 210px,#3e42d1 217px)"></i><i style="left:71px;background:linear-gradient(#2e2fa1 0px,#373cb1 10px,#414dbc 20px,#4b66c3 30px,#5a89c8 40px,#67a5c9 50px,#72b3c8 60px,#79bcc4 70px,#81c3bf 80px,#86c7bb 90px,#89c8b6 100px,#8bc8b4 110px,#8ac8b6 120px,#87c8ba 130px,#82c4be 140px,#7bbdc3 150px,#73b5c7 160px,#6aa8c9 170px,#5d91c9 180px,#4e6dc5 190px,#4351bd 200px,#393fb3 210px,#3235a9 217px)"></i><i style="left:72px;background:linear-gradient(#2e2fa1 0px,#363bb0 10px,#3f4aba 20px,#485ec1 30px,#547bc8 40px,#629cc9 50px,#6babc9 60px,#73b5c7 70px,#79bbc5 80px,#7ec0c1 90px,#81c3bf 100px,#82c4be 110px,#82c3be 120px,#7fc1c0 130px,#7abdc4 140px,#74b6c6 150px,#6daec9 160px,#649fc9 170px,#5782c8 180px,#4b64c3 190px,#414dbc 200px,#383eb2 210px,#3235a8 217px)"></i><i style="left:73px;background:linear-gradient(#3939c6 0px,#4147d7 10px,#4c57e4 20px,#556bec 30px,#6189f4 40px,#70acf7 50px,#7cc7f8 60px,#86d5f8 70px,#8dddf6 80px,#92e3f4 90px,#95e7f3 100px,#96e8f2 110px,#95e7f2 120px,#92e4f4 130px,#8edff5 140px,#88d7f8 150px,#7ecaf8 160px,#73b3f7 170px,#648ff6 180px,#5870ed 190px,#4e5be6 200px,#434ada 210px,#3d40cf 217px)"></i><i style="left:74px;background:linear-gradient(#3939c6 0px,#4047d6 10px,#4b55e3 20px,#5468eb 30px,#5f84f3 40px,#6ca4f7 50px,#79c2f8 60px,#82cff8 70px,#89daf7 80px,#8edff5 90px,#91e2f4 100px,#92e4f4 110px,#91e3f4 120px,#8fe0f5 130px,#8adbf7 140px,#84d2f8 150px,#7bc5f8 160px,#6faaf7 170px,#6189f4 180px,#566cec 190px,#4d59e5 200px,#4349d9 210px,#3d40ce 217px)"></i><i style="left:75px;background:linear-gradient(#3939c6 0px,#4046d6 10px,#4a54e2 20px,#5366ea 30px,#5d7ef1 40px,#699bf6 50px,#75baf8 60px,#7fcaf8 70px,#86d4f8 80px,#8adbf7 90px,#8ddef6 100px,#8edff5 110px,#8edef6 120px,#8bdcf7 130px,#87d6f8 140px,#80ccf8 150px,#78bff8 160px,#6ba1f7 170px,#5f84f3 180px,#5569eb 190px,#4c57e4 200px,#4249d8 210px,#3c40ce 217px)"></i><i style="left:76px;background:linear-gradient(#3939c6 0px,#4046d6 10px,#4b55e3 20px,#5468ea 30px,#5f82f2 40px,#6ba2f7 50px,#78c1f8 60px,#81cef8 70px,#89d9f8 80px,#8ddef6 90px,#90e1f5 100px,#91e3f4 110px,#90e2f4 120px,#8edff5 130px,#8adaf7 140px,#83d0f8 150px,#7ac4f8 160px,#6ea8f7 170px,#6188f4 180px,#566bec 190px,#4d58e5 200px,#4249d9 210px,#3c40ce 217px)"></i><i style="left:77px;background:linear-gradient(#3939c6 0px,#4147d7 10px,#4c57e4 20px,#556bec 30px,#6189f4 40px,#70acf7 50px,#7cc7f8 60px,#86d5f8 70px,#8dddf6 80px,#92e3f4 90px,#95e7f3 100px,#96e8f2 110px,#95e7f2 120px,#92e4f4 130px,#8edff5 140px,#88d7f8 150px,#7ecaf8 160px,#73b3f7 170px,#648ff6 180px,#5870ed 190px,#4e5be6 200px,#434ada 210px,#3d40cf 217px)"></i><i style="left:78px;background:linear-gradient(#393ac6 0px,#4249d9 10px,#4f5ce6 20px,#5a76ef 30px,#699bf6 40px,#7ac3f8 50px,#86d5f8 60px,#90e1f5 70px,#97e9f1 80px,#9deeec 90px,#a1f2e9 100px,#a3f3e8 110px,#a2f2e9 120px,#9eefec 130px,#99eaf0 140px,#91e2f4 150px,#88d8f8 160px,#7cc7f8 170px,#6ca4f7 180px,#5d7df1 190px,#5160e8 200px,#454ddc 210px,#3d41d0 217px)"></i><i style="left:79px;background:linear-gradient(#3636bb 0px,#3f46ce 10px,#4b59db 20px,#5775e4 30px,#679dea 40px,#77beeb 50px,#83cfea 60px,#8cdae6 70px,#95e1e0 80px,#9be7db 90px,#9fe9d7 100px,#a0e9d5 110px,#9fe9d7 120px,#9ce8db 130px,#96e3df 140px,#8edbe5 150px,#85d1e9 160px,#7ac2eb 170px,#6ba6ea 180px,#5a7de5 190px,#4e5edc 200px,#424ad1 210px,#3a3ec5 217px)"></i><i style="left:80px;background:linear-gradient(#2a2a91 0px,#31369f 10px,#3a45a9 20px,#435bb0 30px,#5079b4 40px,#5c93b5 50px,#65a0b4 60px,#6ca8b1 70px,#73aead 80px,#77b2a9 90px,#7ab4a6 100px,#7bb4a5 110px,#7bb4a6 120px,#78b3a9 130px,#74afac 140px,#6da9b1 150px,#67a2b4 160px,#5e96b5 170px,#5280b5 180px,#4560b1 190px,#3c48aa 200px,#3339a1 210px,#2d3098 217px)"></i><i style="left:81px;background:linear-gradient(#3636bb 0px,#3f46ce 10px,#4b59db 20px,#5775e4 30px,#679dea 40px,#77beeb 50px,#83cfea 60px,#8cdae6 70px,#95e1e0 80px,#9be7db 90px,#9fe9d7 100px,#a0e9d5 110px,#9fe9d7 120px,#9ce8db 130px,#96e3df 140px,#8edbe5 150px,#85d1e9 160px,#7ac2eb 170px,#6ba6ea 180px,#5a7de5 190px,#4e5edc 200px,#424ad1 210px,#3a3ec5 217px)"></i><i style="left:82px;background:linear-gradient(#393ac6 0px,#4249d9 10px,#4e5be6 20px,#5a76ef 30px,#689af6 40px,#79c2f8 50px,#86d4f8 60px,#8fe0f5 70px,#96e8f2 80px,#9deeed 90px,#a1f1ea 100px,#a2f3e9 110px,#a1f2ea 120px,#9eefec 130px,#98eaf1 140px,#91e2f4 150px,#88d8f8 160px,#7cc6f8 170px,#6ca3f7 180px,#5c7df1 190px,#5160e8 200px,#454cdc 210px,#3d41d0 217px)"></i><i style="left:83px;background:linear-gradient(#3939c6 0px,#4045d5 10px,#4a53e1 20px,#5264e9 30px,#5c7af0 40px,#6694f6 50px,#72b2f7 60px,#7cc6f8 70px,#83d0f8 80px,#88d7f8 90px,#8adbf7 100px,#8bdcf7 110px,#8bdbf7 120px,#88d8f8 130px,#84d2f8 140px,#7dc8f8 150px,#74b7f8 160px,#689bf6 170px,#5e7ff1 180px,#5467ea 190px,#4c56e4 200px,#4248d8 210px,#3c3fcd 217px)"></i><i style="left:84px;background:linear-gradient(#3939c5 0px,#3e42d1 10px,#444bdb 20px,#4b55e3 30px,#5161e8 40px,#566cec 50px,#5c7df1 60px,#628af4 70px,#6798f6 80px,#6ca3f7 90px,#6fa9f7 100px,#70acf7 110px,#6faaf7 120px,#6ca4f7 130px,#689af6 140px,#638df5 150px,#5e80f1 160px,#5770ed 170px,#5263e9 180px,#4c57e4 190px,#454ddc 200px,#3f44d3 210px,#3b3dcb 217px)"></i><i style="left:85px;background:linear-gradient(#3737c0 0px,#3b3fca 10px,#4147d3 20px,#4750db 30px,#4d5ae0 40px,#5164e4 50px,#566fe7 60px,#5b7beb 70px,#5f85ed 80px,#618cef 90px,#6493f0 100px,#6595f0 110px,#6493f0 120px,#628eef 130px,#5f87ee 140px,#5c7deb 150px,#5771e8 160px,#5266e4 170px,#4e5ce1 180px,#4852dc 190px,#4249d5 200px,#3c41cc 210px,#393bc5 217px)"></i><i style="left:86px;background:linear-gradient(#292a90 0px,#2f339c 10px,#363da5 20px,#3d4aab 30px,#445cb0 40px,#4c71b4 50px,#5687b5 60px,#5c93b5 70px,#619bb5 80px,#65a0b4 90px,#67a2b3 100px,#68a3b3 110px,#67a2b3 120px,#65a0b4 130px,#629cb5 140px,#5d95b5 150px,#578bb5 160px,#4e76b4 170px,#4560b1 180px,#3e4dac 190px,#383fa7 200px,#30359e 210px,#2c2e96 217px)"></i><i style="left:87px;background:linear-gradient(#3435b6 0px,#3d44c8 10px,#4956d4 20px,#5470dc 30px,#6294e3 40px,#72b6e4 50px,#7ec7e4 60px,#86d1e0 70px,#8ed9db 80px,#94ded7 90px,#97e1d4 100px,#99e2d3 110px,#98e2d4 120px,#95dfd6 130px,#8fdada 140px,#88d3df 150px,#7fc9e3 160px,#74bae4 170px,#669ce3 180px,#5676de 190px,#4b5ad5 200px,#4047ca 210px,#383cbf 217px)"></i><i style="left:88px;background:linear-gradient(#393ac6 0px,#454ddc 10px,#5365ea 20px,#638df5 30px,#79c1f8 40px,#89d9f7 50px,#96e8f2 60px,#a3f3e8 70px,#acf6dc 80px,#b3f6d2 90px,#b8f5c7 100px,#baf4c1 110px,#b9f5c5 120px,#b4f6d0 130px,#aef6da 140px,#a5f5e7 150px,#99ebf0 160px,#8cddf6 170px,#7cc6f8 180px,#6797f6 190px,#556bec 200px,#4851e0 210px,#3e43d2 217px)"></i><i style="left:89px;background:linear-gradient(#393ac7 0px,#474fde 10px,#566cec 20px,#6ba0f7 30px,#82cef8 40px,#92e4f4 50px,#a2f3e9 60px,#aff6d8 70px,#bbf4bf 80px,#c5f1a7 90px,#ccf09d 100px,#cff09b 110px,#cdf09c 120px,#c7f0a3 130px,#bdf3ba 140px,#b1f6d4 150px,#a6f6e6 160px,#95e7f2 170px,#85d4f8 180px,#70acf7 190px,#5a75ef 200px,#4a54e2 210px,#3f44d4 217px)"></i><i style="left:90px;background:linear-gradient(#393ac7 0px,#4851e0 10px,#5973ee 20px,#71aff7 30px,#88d8f8 40px,#9aebef 50px,#abf6de 60px,#baf4c3 70px,#c9f0a0 80px,#d6f097 90px,#def091 100px,#e1f08f 110px,#dff091 120px,#d8f095 130px,#ccf09e 140px,#bdf3bb 150px,#aef6da 160px,#9eefec 170px,#8cdcf6 180px,#77bcf8 190px,#5d7ef1 200px,#4c56e4 210px,#3f45d5 217px)"></i><i style="left:91px;background:linear-gradient(#393ac7 0px,#4a53e1 10px,#5b7af0 20px,#76bcf8 30px,#8ddef6 40px,#a1f1ea 50px,#b2f6d4 60px,#c4f1a9 70px,#d7f096 80px,#e2ef8d 90px,#e7ee87 100px,#e8ed85 110px,#e7ee86 120px,#e3ef8c 130px,#daf094 140px,#c8f0a0 150px,#b5f6ce 160px,#a5f5e7 170px,#91e2f4 180px,#7bc5f8 190px,#6085f3 200px,#4d59e5 210px,#4046d6 217px)"></i><i style="left:92px;background:linear-gradient(#393ac7 0px,#4a54e2 10px,#5d7ff1 20px,#7ac3f8 30px,#90e2f4 40px,#a6f6e6 50px,#b7f5c8 60px,#cdf09d 70px,#e0f090 80px,#e7ee86 90px,#ecec80 100px,#ede77b 110px,#ecea7e 120px,#e9ed85 130px,#e2ef8e 140px,#d1f09a 150px,#bcf4bd 160px,#a9f6e1 170px,#94e6f3 180px,#7fcaf8 190px,#628af4 200px,#4e5ae6 210px,#4046d6 217px)"></i><i style="left:93px;background:linear-gradient(#393ac7 0px,#4a53e1 10px,#5c7cf0 20px,#78bff8 30px,#8edff5 40px,#a2f3e9 50px,#b3f6d1 60px,#c7f0a3 70px,#daf094 80px,#e4ef8b 90px,#e8ed85 100px,#eaed83 110px,#e9ed84 120px,#e5ee89 130px,#ddf092 140px,#cbf09e 150px,#b7f5c8 160px,#a6f6e6 170px,#92e3f4 180px,#7cc7f8 190px,#6087f3 200px,#4d59e5 210px,#4046d6 217px)"></i><i style="left:94px;background:linear-gradient(#3637bc 0px,#454dd4 10px,#556fe2 20px,#6ca9ea 30px,#82ceea 40px,#93e0e1 50px,#a3e9cf 60px,#b2e6b1 70px,#c2e394 80px,#cee38c 90px,#d5e387 100px,#d7e285 110px,#d6e286 120px,#d0e38b 130px,#c4e393 140px,#b6e5aa 150px,#a6e9cb 160px,#97e3de 170px,#85d2e9 180px,#72b6eb 190px,#5979e5 200px,#4852d8 210px,#3c41c9 217px)"></i><i style="left:95px;background:linear-gradient(#2a2a91 0px,#3338a1 10px,#3d4aab 20px,#4868b3 30px,#598eb5 40px,#659fb4 50px,#6eaab0 60px,#78b2a9 70px,#7eb4a0 80px,#83b498 90px,#87b28e 100px,#89b28a 110px,#88b28d 120px,#84b396 130px,#80b49e 140px,#79b4a8 150px,#70acaf 160px,#67a2b4 170px,#5b92b5 180px,#4c70b4 190px,#3f4eac 200px,#353ba3 210px,#2d3199 217px)"></i><i style="left:96px;background:linear-gradient(#3636bb 0px,#3e45cc 10px,#4a55d9 20px,#546ce1 30px,#608ce9 40px,#70b2ea 50px,#7cc5eb 60px,#85d1e9 70px,#8bd9e6 80px,#91dee3 90px,#94e1e0 100px,#96e2df 110px,#95e2e0 120px,#92dfe2 130px,#8ddae5 140px,#86d3e8 150px,#7ec8eb 160px,#73b8eb 170px,#6494e9 180px,#5672e3 190px,#4c59db 200px,#4148cf 210px,#3a3dc4 217px)"></i><i style="left:97px;background:linear-gradient(#3939c6 0px,#3f45d5 10px,#4952e1 20px,#5262e8 30px,#5a77ef 40px,#648ff6 50px,#70acf7 60px,#7ac2f8 70px,#80ccf8 80px,#85d3f8 90px,#88d8f8 100px,#89d9f8 110px,#88d8f8 120px,#86d5f8 130px,#81cef8 140px,#7bc5f8 150px,#72b1f7 160px,#6695f6 170px,#5c7cf0 180px,#5366ea 190px,#4b55e3 200px,#4148d7 210px,#3c3fcd 217px)"></i><i style="left:98px;background:linear-gradient(#3939c5 0px,#3e42d1 10px,#454ddc 20px,#4c57e4 30px,#5264e9 40px,#5973ee 50px,#5f84f3 60px,#6694f6 70px,#6ca4f7 80px,#71aff7 90px,#74b6f8 100px,#75b9f8 110px,#74b7f8 120px,#72b1f7 130px,#6da6f7 140px,#6797f6 150px,#6187f4 160px,#5a76ef 170px,#5467ea 180px,#4e5ae5 190px,#464fde 200px,#3f44d4 210px,#3b3ecb 217px)"></i><i style="left:99px;background:linear-gradient(#3939c5 0px,#3f44d3 10px,#4750df 20px,#505ee7 30px,#576eec 40px,#5f84f3 50px,#689bf6 60px,#72b1f7 70px,#79c2f8 80px,#7ec8f8 90px,#80cdf8 100px,#82cef8 110px,#81cdf8 120px,#7ecaf8 130px,#7ac3f8 140px,#74b5f8 150px,#6aa0f7 160px,#6188f4 170px,#5872ee 180px,#5161e8 190px,#4952e1 200px,#4046d6 210px,#3c3fcc 217px)"></i><i style="left:100px;background:linear-gradient(#3939c6 0px,#4148d8 10px,#4d58e5 20px,#576eed 30px,#638ef5 40px,#73b4f8 50px,#80cbf8 60px,#89d9f7 70px,#90e1f5 80px,#95e7f2 90px,#99eaf0 100px,#9aecef 110px,#99ebf0 120px,#96e8f2 130px,#91e3f4 140px,#8bdbf7 150px,#82cff8 160px,#76bcf8 170px,#6695f6 180px,#5975ee 190px,#4f5de6 200px,#444bda 210px,#3d41cf 217px)"></i><i style="left:101px;background:linear-gradient(#393ac6 0px,#454cdb 10px,#5263e9 20px,#6188f4 30px,#76bbf8 40px,#86d6f8 50px,#93e5f3 60px,#9ff0eb 70px,#a9f6e2 80px,#aff6d8 90px,#b3f6d2 100px,#b4f6cf 110px,#b3f6d1 120px,#b0f6d7 130px,#aaf6e0 140px,#a1f2ea 150px,#95e7f2 160px,#89d9f7 170px,#7ac3f8 180px,#6491f6 190px,#5569eb 200px,#4850df 210px,#3e43d2 217px)"></i><i style="left:102px;background:linear-gradient(#393ac7 0px,#4851df 10px,#5871ed 20px,#6faaf7 30px,#86d5f8 40px,#97e9f1 50px,#a8f6e2 60px,#b5f6cd 70px,#c4f1a9 80px,#d0f09b 90px,#d8f095 100px,#dbf093 110px,#d9f094 120px,#d2f099 130px,#c7f0a4 140px,#b9f5c5 150px,#abf6de 160px,#9becee 170px,#8adaf7 180px,#74b7f8 190px,#5c7bf0 200px,#4b55e3 210px,#3f45d4 217px)"></i><i style="left:103px;background:linear-gradient(#3535b7 0px,#424acd 10px,#5067da 20px,#659ae3 30px,#7ac2e4 40px,#8ad5de 50px,#9ae2d2 60px,#a5e2bf 70px,#b2dea0 80px,#bddd8f 90px,#c5dd8b 100px,#c7dd89 110px,#c5dd8a 120px,#bfdd8e 130px,#b5dd9a 140px,#a8e1b9 150px,#9ce2ce 160px,#8dd8dc 170px,#7ec7e4 180px,#6aa6e3 190px,#5470dc 200px,#454ed1 210px,#3a3fc3 217px)"></i><i style="left:104px;background:linear-gradient(#2a2a91 0px,#343aa3 10px,#4051ad 20px,#5079b4 30px,#6099b5 40px,#6da9b1 50px,#79b4a8 60px,#82b499 70px,#8cb182 80px,#95af73 90px,#9aaf6f 100px,#9daf6e 110px,#9baf6f 120px,#96af72 130px,#8eb07e 140px,#84b396 150px,#7bb4a5 160px,#6fabaf 170px,#639eb5 180px,#5483b5 190px,#4258af 200px,#373ea6 210px,#2e329b 217px)"></i><i style="left:105px;background:linear-gradient(#3838c1 0px,#454ed9 10px,#546be6 20px,#699ff0 30px,#80cbf1 40px,#90e0ec 50px,#a0eee1 60px,#adefce 70px,#b9ecb2 80px,#c4ea9b 90px,#cbea96 100px,#ceea94 110px,#ccea95 120px,#c6ea9a 130px,#bcecac 140px,#afefcb 150px,#a3efdd 160px,#93e3ea 170px,#83d1f1 180px,#6facf1 190px,#5874e9 200px,#4952dc 210px,#3d42ce 217px)"></i><i style="left:106px;background:linear-gradient(#393ac7 0px,#474fde 10px,#566bec 20px,#6a9ef7 30px,#81cdf8 40px,#92e3f4 50px,#a2f2e9 60px,#aef6d9 70px,#baf4c2 80px,#c4f1aa 90px,#cbf09e 100px,#cef09c 110px,#ccf09e 120px,#c5f1a6 130px,#bcf4bd 140px,#b0f6d6 150px,#a5f5e7 160px,#95e7f3 170px,#85d3f8 180px,#6fabf7 190px,#5975ee 200px,#4a54e2 210px,#3f44d3 217px)"></i><i style="left:107px;background:linear-gradient(#393ac6 0px,#444bda 10px,#5160e8 20px,#5e80f2 30px,#70adf7 40px,#81cdf8 50px,#8ddef6 60px,#98e9f1 70px,#a1f2ea 80px,#a8f6e3 90px,#abf6de 100px,#adf6db 110px,#acf6dd 120px,#a9f6e2 130px,#a3f3e9 140px,#9aebef 150px,#90e1f5 160px,#84d1f8 170px,#74b6f8 180px,#6188f4 190px,#5365e9 200px,#464fdd 210px,#3e42d1 217px)"></i><i style="left:108px;background:linear-gradient(#3939c6 0px,#4045d5 10px,#4a53e1 20px,#5264e9 30px,#5b7af0 40px,#6694f6 50px,#72b2f7 60px,#7cc6f8 70px,#83d0f8 80px,#87d7f8 90px,#8adbf7 100px,#8bdcf7 110px,#8bdbf7 120px,#88d8f8 130px,#84d1f8 140px,#7dc8f8 150px,#74b7f8 160px,#689bf6 170px,#5e7ff1 180px,#5467ea 190px,#4c56e4 200px,#4248d8 210px,#3c3fcd 217px)"></i><i style="left:109px;background:linear-gradient(#3434b5 0px,#383bbe 10px,#3d43c7 20px,#434bce 30px,#4853d3 40px,#4c5cd6 50px,#5065d9 60px,#5471dd 70px,#587adf 80px,#5a81e1 90px,#5c85e2 100px,#5d87e2 110px,#5c86e2 120px,#5b82e1 130px,#587be0 140px,#5573dd 150px,#5168da 160px,#4d5ed7 170px,#4955d4 180px,#444ccf 190px,#3e45c8 200px,#393dc0 210px,#3638ba 217px)"></i><i style="left:110px;background:linear-gradient(#2a2a90 0px,#30359e 10px,#3943a8 20px,#4155ae 30px,#4c70b4 40px,#588db5 50px,#619ab5 60px,#68a3b3 70px,#6da9b1 80px,#72adad 90px,#75b0ab 100px,#76b1aa 110px,#75b0ab 120px,#72aead 130px,#6eaab0 140px,#69a4b3 150px,#639db5 160px,#5a90b5 170px,#4e76b4 180px,#435aaf 190px,#3b46a9 200px,#3238a0 210px,#2d2f98 217px)"></i><i style="left:111px;background:linear-gradient(#3839c1 0px,#464ed9 10px,#556ce6 20px,#6aa2f0 30px,#81cdf1 40px,#91e1ec 50px,#a2efdf 60px,#aeefcc 70px,#bcecad 80px,#c6ea99 90px,#ceea94 100px,#d1ea92 110px,#cfea93 120px,#c8ea98 130px,#beeba7 140px,#b1efc7 150px,#a4efdb 160px,#95e4e9 170px,#85d2f1 180px,#70aef1 190px,#5976e9 200px,#4952dd 210px,#3d43ce 217px)"></i><i style="left:112px;background:linear-gradient(#393ac7 0px,#4b55e3 10px,#5e82f2 20px,#7cc6f8 30px,#93e4f3 40px,#a8f6e2 50px,#bcf4bd 60px,#d3f099 70px,#e3ef8c 80px,#ebec82 90px,#ede277 100px,#eedc72 110px,#ede075 120px,#ecec80 130px,#e5ee89 140px,#d7f096 150px,#c0f2b2 160px,#acf6dd 170px,#97e9f1 180px,#81cdf8 190px,#638ef5 200px,#4f5ce6 210px,#4147d7 217px)"></i><i style="left:113px;background:linear-gradient(#3a3bc8 0px,#4e5ae6 10px,#6797f6 20px,#88d8f8 30px,#a2f3e9 40px,#bcf4be 50px,#dbf093 60px,#ecec80 70px,#f0ca61 80px,#f0a855 90px,#ef934e 100px,#ee8d4b 110px,#ef914d 120px,#f0a253 130px,#f0c25e 140px,#ede579 150px,#e1f08f 160px,#c1f2b0 170px,#a8f6e4 180px,#8ddef6 190px,#6ea9f7 200px,#5263e9 210px,#4249d9 217px)"></i><i style="left:114px;background:linear-gradient(#3a3bc8 0px,#5161e8 10px,#72b1f7 20px,#93e5f3 30px,#b1f6d4 40px,#d7f096 50px,#ede479 60px,#f0ad57 70px,#eb7d45 80px,#e45e3c 90px,#e04b38 100px,#df4737 110px,#e04938 120px,#e3593b 130px,#e97642 140px,#f0a153 150px,#eeda70 160px,#dff091 170px,#b8f5c7 180px,#99ebef 190px,#7ac3f8 200px,#556aeb 210px,#444cdb 217px)"></i><i style="left:115px;background:linear-gradient(#3a3bc8 0px,#5365e9 10px,#79c1f8 20px,#9bedee 30px,#bdf3ba 40px,#e5ee89 50px,#f0c25e 60px,#eb8046 70px,#e2523a 80px,#db3e33 90px,#d4352e 100px,#d0312c 110px,#d3332d 120px,#da3c32 130px,#e04b38 140px,#e97642 150px,#f0b259 160px,#e9ed84 170px,#c5f1a6 180px,#a2f3e9 190px,#80ccf8 200px,#5871ee 210px,#464ddc 217px)"></i><i style="left:116px;background:linear-gradient(#3a3cc9 0px,#5468eb 10px,#7dc8f8 20px,#a2f3e9 30px,#c8f0a0 40px,#ece97e 50px,#f09d52 60px,#e45f3c 70px,#da3e32 80px,#cc2d2a 90px,#c02323 100px,#bb2020 110px,#be2222 120px,#c92a28 130px,#d93a31 140px,#e2553a 150px,#ee8f4c 160px,#eedb71 170px,#d3f099 180px,#a9f6e1 190px,#85d4f8 200px,#5b78ef 210px,#474fde 217px)"></i><i style="left:117px;background:linear-gradient(#3a3bc8 0px,#5365e9 10px,#79c1f8 20px,#9cedee 30px,#bef3b8 40px,#e5ee89 50px,#f0c05d 60px,#eb7e46 70px,#e15139 80px,#da3d32 90px,#d3342e 100px,#cf302c 110px,#d2322d 120px,#d93b31 130px,#e04a38 140px,#e97442 150px,#f0b058 160px,#eaed83 170px,#c6f1a5 180px,#a3f3e8 190px,#80cdf8 200px,#5872ee 210px,#464ddd 217px)"></i><i style="left:118px;background:linear-gradient(#3233ad 0px,#4655c9 10px,#649dd6 20px,#81c8d2 30px,#9bd5b4 40px,#bed07f 50px,#cebe62 60px,#d08a47 70px,#c96238 80px,#c34732 90px,#c03b2e 100px,#be382d 110px,#bf3a2e 120px,#c24331 130px,#c85c36 140px,#cf8044 150px,#cfb55a 160px,#c4cf7a 170px,#a2d3a5 180px,#87cdce 190px,#6babd7 200px,#4a5dcc 210px,#3b42be 217px)"></i><i style="left:119px;background:linear-gradient(#2c2c97 0px,#3a43ad 10px,#4b6cba 20px,#649fbc 30px,#77b4b3 40px,#88ba9e 50px,#9eb675 60px,#aeb467 70px,#b4a756 80px,#b69347 90px,#b68442 100px,#b67e40 110px,#b68241 120px,#b68f46 130px,#b4a353 140px,#b0b464 150px,#a2b672 160px,#8cb993 170px,#7bb8b0 180px,#68a5bb 190px,#5179bb 200px,#3d49b0 210px,#3237a4 217px)"></i><i style="left:120px;background:linear-gradient(#393ac7 0px,#4850df 10px,#5770ed 20px,#6ea8f7 30px,#85d4f8 40px,#96e8f2 50px,#a7f6e4 60px,#b4f6d0 70px,#c2f2ae 80px,#cef09c 90px,#d6f097 100px,#d9f095 110px,#d7f096 120px,#d0f09b 130px,#c5f1a8 140px,#b7f5c9 150px,#aaf6e0 160px,#9aebef 170px,#89d9f8 180px,#73b5f8 190px,#5b7af0 200px,#4b55e3 210px,#3f45d4 217px)"></i><i style="left:121px;background:linear-gradient(#3939c6 0px,#4248d8 10px,#4e5ae5 20px,#5872ee 30px,#6694f6 40px,#77bcf8 50px,#83d0f8 60px,#8cddf6 70px,#93e5f3 80px,#99ebf0 90px,#9deeed 100px,#9eefec 110px,#9deeec 120px,#9aecef 130px,#95e6f3 140px,#8edff6 150px,#85d3f8 160px,#79c2f8 170px,#699cf7 180px,#5b79f0 190px,#505ee7 200px,#444cdb 210px,#3d41cf 217px)"></i><i style="left:122px;background:linear-gradient(#3839c5 0px,#3d41d0 10px,#434ada 20px,#4a54e2 30px,#505fe7 40px,#5569eb 50px,#5a77ef 60px,#6085f3 70px,#648ff6 80px,#689af6 90px,#6ba0f7 100px,#6ca3f7 110px,#6ba1f7 120px,#699bf6 130px,#6592f6 140px,#6187f4 150px,#5c7af0 160px,#566bec 170px,#5161e8 180px,#4c55e3 190px,#454cdb 200px,#3e43d2 210px,#3b3dcb 217px)"></i><i style="left:123px;background:linear-gradient(#3839c5 0px,#3d40ce 10px,#4147d7 20px,#474fde 30px,#4c57e4 40px,#5160e8 50px,#5468eb 60px,#5872ee 70px,#5c7bf0 80px,#5e81f2 90px,#6086f3 100px,#6187f4 110px,#6086f3 120px,#5f83f2 130px,#5c7cf1 140px,#5974ee 150px,#556aeb 160px,#5162e8 170px,#4d59e5 180px,#4851df 190px,#4249d9 200px,#3d42d0 210px,#3b3cca 217px)"></i><i style="left:124px;background:linear-gradient(#3939c5 0px,#3f45d4 10px,#4851e0 20px,#5060e8 30px,#5872ee 40px,#6189f4 50px,#6ca3f7 60px,#76baf8 70px,#7cc7f8 80px,#81cef8 90px,#84d2f8 100px,#85d4f8 110px,#84d2f8 120px,#82cff8 130px,#7dc8f8 140px,#77bef8 150px,#6ea8f7 160px,#638ef5 170px,#5a77ef 180px,#5263e9 190px,#4a53e2 200px,#4147d7 210px,#3c3fcd 217px)"></i><i style="left:125px;background:linear-gradient(#3939c6 0px,#4248d8 10px,#4e5ae5 20px,#5872ee 30px,#6594f6 40px,#76bcf8 50px,#82d0f8 60px,#8cddf6 70px,#93e5f3 80px,#99eaf0 90px,#9deeed 100px,#9eefec 110px,#9deeed 120px,#9aebef 130px,#94e6f3 140px,#8edef6 150px,#85d3f8 160px,#79c2f8 170px,#699cf6 180px,#5b78ef 190px,#505ee7 200px,#444cdb 210px,#3d41cf 217px)"></i><i style="left:126px;background:linear-gradient(#2b2c96 0px,#363da9 10px,#4254b3 20px,#537ebb 30px,#649fbc 40px,#71afb7 50px,#7ebaae 60px,#87ba9f 70px,#92b787 80px,#9ab677 90px,#a0b673 100px,#a2b672 110px,#a1b673 120px,#9cb676 130px,#94b782 140px,#89ba9b 150px,#80baab 160px,#74b1b6 170px,#67a4bc 180px,#5787bb 190px,#455bb5 200px,#3940ac 210px,#3034a0 217px)"></i><i style="left:127px;background:linear-gradient(#3233ad 0px,#434ec6 10px,#5880d5 20px,#75b9d7 30px,#8bd1ca 40px,#a0d3a9 50px,#bbd081 60px,#cacd71 70px,#cfb359 80px,#d0984c 90px,#d08646 100px,#cf8044 110px,#d08445 120px,#d0944b 130px,#cfae54 140px,#cccb6d 150px,#c0d07e 160px,#a5d29d 170px,#90d5c7 180px,#79bfd5 190px,#5f90d6 200px,#4755c9 210px,#393fbb 217px)"></i><i style="left:128px;background:linear-gradient(#3a3bc8 0px,#5160e8 10px,#71b0f7 20px,#93e4f3 30px,#b0f6d6 40px,#d5f097 50px,#ede77c 60px,#f0b158 70px,#eb8147 80px,#e5623d 90px,#e14f39 100px,#e04938 110px,#e14c39 120px,#e45d3c 130px,#ea7a44 140px,#f0a554 150px,#eedd73 160px,#ddf092 170px,#b6f5ca 180px,#99eaf0 190px,#79c2f8 200px,#556aeb 210px,#444cdb 217px)"></i><i style="left:129px;background:linear-gradient(#3a3bc8 0px,#5366ea 10px,#7ac3f8 20px,#9deeed 30px,#c0f2b3 40px,#e7ee87 50px,#f0b95b 60px,#ea7843 70px,#e04a38 80px,#d93a31 90px,#cf302c 100px,#cb2d2a 110px,#ce2f2b 120px,#d83830 130px,#de4636 140px,#e76d3f 150px,#f0a956 160px,#ebec81 170px,#c8f0a0 180px,#a4f4e7 190px,#81cef8 200px,#5973ee 210px,#464edd 217px)"></i><i style="left:130px;background:linear-gradient(#3a3bc8 0px,#5264e9 10px,#78bff8 20px,#9aebef 30px,#bbf4bf 40px,#e3ef8b 50px,#f0c860 60px,#ed8749 70px,#e3593b 80px,#dc4234 90px,#d83830 100px,#d4342e 110px,#d7372f 120px,#db3f33 130px,#e2523a 140px,#ea7c45 150px,#f0ba5b 160px,#e8ed86 170px,#c3f1ab 180px,#a1f2ea 190px,#7fcbf8 200px,#5870ed 210px,#454ddc 217px)"></i><i style="left:131px;background:linear-gradient(#3a3bc8 0px,#5162e8 10px,#74b6f8 20px,#95e7f2 30px,#b4f6d0 40px,#dcf092 50px,#eedb70 60px,#f09e52 70px,#e87040 80px,#e15139 90px,#dd4435 100px,#dc4034 110px,#dd4335 120px,#e04c38 130px,#e7693f 140px,#ef934e 150px,#efd067 160px,#e2ef8d 170px,#bcf4be 180px,#9ceded 190px,#7cc6f8 200px,#566cec 210px,#454cdb 217px)"></i><i style="left:132px;background:linear-gradient(#3a3bc8 0px,#4f5ce6 10px,#6a9ef7 20px,#8bdcf7 30px,#a7f6e5 40px,#c2f2ae 50px,#e2ef8d 60px,#eedd72 70px,#f0b459 80px,#ef914d 90px,#eb7f46 100px,#ea7843 110px,#eb7d45 120px,#ee8d4c 130px,#f0ab56 140px,#efd56b 150px,#e5ee89 160px,#c9f0a0 170px,#acf6dd 180px,#90e2f4 190px,#72b1f7 200px,#5365e9 210px,#434ad9 217px)"></i><i style="left:133px;background:linear-gradient(#393ac7 0px,#4b55e3 10px,#5f82f2 20px,#7cc6f8 30px,#93e4f3 40px,#a9f6e2 50px,#bcf3bc 60px,#d3f098 70px,#e4ef8b 80px,#ebec81 90px,#ede075 100px,#eedb71 110px,#eede74 120px,#eceb7f 130px,#e6ee89 140px,#d8f095 150px,#c1f2b1 160px,#acf6dc 170px,#97e9f1 180px,#81cdf8 190px,#638ef5 200px,#4f5ce6 210px,#4147d7 217px)"></i><i style="left:134px;background:linear-gradient(#3334b1 0px,#3e45c5 10px,#4b5dd1 20px,#5b84dc 30px,#6fb1dd 40px,#7ec6db 50px,#8ad3d4 60px,#96dbca 70px,#9edbbd 80px,#a6daad 90px,#abd8a0 100px,#add89b 110px,#acd89f 120px,#a7d9aa 130px,#a0dbbb 140px,#98dbc7 150px,#8dd5d3 160px,#80c9da 170px,#72b6dd 180px,#5f8edc 190px,#4e63d3 200px,#4149c8 210px,#383cbc 217px)"></i><i style="left:135px;background:linear-gradient(#292a90 0px,#2f339d 10px,#373ea6 20px,#3d4cab 30px,#4560b1 40px,#4f77b4 50px,#588db5 60px,#5f97b5 70px,#649eb5 80px,#67a2b3 90px,#6aa5b2 100px,#6aa6b2 110px,#6aa5b2 120px,#68a3b3 130px,#659fb4 140px,#6099b5 150px,#5a8fb5 160px,#517cb4 170px,#4764b2 180px,#3f4fac 190px,#3841a7 200px,#31369e 210px,#2c2f96 217px)"></i><i style="left:136px;background:linear-gradient(#3839c5 0px,#3c3fcd 10px,#4045d5 20px,#454cdb 30px,#4a53e1 40px,#4e5ae5 50px,#5161e8 60px,#5467ea 70px,#566cec 80px,#5872ee 90px,#5a75ef 100px,#5a77ef 110px,#5a76ef 120px,#5972ee 130px,#566dec 140px,#5468eb 150px,#5162e8 160px,#4e5be6 170px,#4a54e2 180px,#464edd 190px,#4147d7 200px,#3d40cf 210px,#3a3cc9 217px)"></i><i style="left:137px;background:linear-gradient(#3839c5 0px,#3d40cf 10px,#4248d8 20px,#4850df 30px,#4d58e5 40px,#5162e8 50px,#556aeb 60px,#5a75ef 70px,#5d7ff1 80px,#6086f3 90px,#628af4 100px,#628cf5 110px,#628bf5 120px,#6087f3 130px,#5e80f2 140px,#5a77ef 150px,#566cec 160px,#5264e9 170px,#4e5ae6 180px,#4952e0 190px,#434ad9 200px,#3e42d1 210px,#3b3dca 217px)"></i><i style="left:138px;background:linear-gradient(#3939c6 0px,#4148d8 10px,#4d59e5 20px,#576fed 30px,#648ff6 40px,#74b6f8 50px,#80ccf8 60px,#8adaf7 70px,#91e2f4 80px,#96e8f2 90px,#9aebef 100px,#9becee 110px,#9aecef 120px,#97e9f1 130px,#92e3f4 140px,#8bdcf7 150px,#82d0f8 160px,#77bef8 170px,#6797f6 180px,#5a76ef 190px,#4f5de7 200px,#444bdb 210px,#3d41cf 217px)"></i><i style="left:139px;background:linear-gradient(#393ac6 0px,#464edd 10px,#5468ea 20px,#6593f6 30px,#7cc6f8 40px,#8dddf6 50px,#9becef 60px,#a8f6e4 70px,#b1f6d5 80px,#b9f5c4 90px,#bff3b6 100px,#c1f2b0 110px,#c0f2b4 120px,#baf4c0 130px,#b2f6d3 140px,#aaf6e0 150px,#9defec 160px,#8fe0f5 170px,#80cbf8 180px,#6a9ff7 190px,#576eed 200px,#4952e0 210px,#3e43d3 217px)"></i><i style="left:140px;background:linear-gradient(#3535b7 0px,#424acd 10px,#5067da 20px,#659ae3 30px,#7ac2e4 40px,#8ad5de 50px,#9ae2d2 60px,#a5e2bf 70px,#b3dea0 80px,#bddd8f 90px,#c5dd8b 100px,#c7dd89 110px,#c5dd8a 120px,#bfdd8e 130px,#b5dd9a 140px,#a8e1b9 150px,#9ce2ce 160px,#8dd8dc 170px,#7ec7e4 180px,#6aa6e3 190px,#5470dc 200px,#454ed1 210px,#3a3fc3 217px)"></i><i style="left:141px;background:linear-gradient(#2a2a91 0px,#343aa2 10px,#3f50ad 20px,#4f78b4 30px,#6098b5 40px,#6ca8b1 50px,#78b3a8 60px,#82b49b 70px,#8bb185 80px,#93af74 90px,#99af70 100px,#9baf6f 110px,#99af70 120px,#94af73 130px,#8db181 140px,#83b498 150px,#7ab4a6 160px,#6faab0 170px,#639db5 180px,#5381b5 190px,#4257af 200px,#373ea5 210px,#2e329b 217px)"></i><i style="left:142px;background:linear-gradient(#3838c1 0px,#454dd8 10px,#5469e6 20px,#689cf0 30px,#7ec9f1 40px,#8fdeed 50px,#9eece2 60px,#aaefd2 70px,#b6edba 80px,#c0eaa2 90px,#c7ea99 100px,#caea97 110px,#c8ea98 120px,#c1ea9e 130px,#b8edb5 140px,#acefcf 150px,#a1efe0 160px,#91e1ec 170px,#82cef1 180px,#6da8f1 190px,#5772e8 200px,#4852dc 210px,#3d42ce 217px)"></i><i style="left:143px;background:linear-gradient(#393ac6 0px,#454ddc 10px,#5366ea 20px,#638df5 30px,#79c2f8 40px,#8adaf7 50px,#97e9f2 60px,#a3f4e8 70px,#adf6dc 80px,#b3f6d1 90px,#b9f5c5 100px,#bbf4c0 110px,#b9f4c3 120px,#b4f6cf 130px,#aef6d9 140px,#a6f6e6 150px,#99ebef 160px,#8cddf6 170px,#7dc7f8 180px,#6798f6 190px,#566bec 200px,#4851e0 210px,#3e43d2 217px)"></i><i style="left:144px;background:linear-gradient(#3939c6 0px,#4249d8 10px,#4e5ae6 20px,#5973ee 30px,#6796f6 40px,#78bff8 50px,#84d2f8 60px,#8ddef6 70px,#94e6f3 80px,#9aecef 90px,#9eefec 100px,#a0f0eb 110px,#9ff0ec 120px,#9bedee 130px,#96e8f2 140px,#8fe0f5 150px,#86d5f8 160px,#7ac3f8 170px,#6a9ff7 180px,#5b7af0 190px,#505fe7 200px,#454cdb 210px,#3d41cf 217px)"></i><i style="left:145px;background:linear-gradient(#3939c5 0px,#3e43d2 10px,#454ddc 20px,#4d58e5 30px,#5365ea 40px,#5975ee 50px,#6087f3 60px,#6797f6 70px,#6ea7f7 80px,#73b3f7 90px,#76bbf8 100px,#77bef8 110px,#76bcf8 120px,#74b5f8 130px,#6faaf7 140px,#699bf6 150px,#628af4 160px,#5b79ef 170px,#5468ea 180px,#4e5be6 190px,#474fde 200px,#3f45d4 210px,#3b3ecb 217px)"></i><i style="left:146px;background:linear-gradient(#3839c5 0px,#3c3fcd 10px,#3f45d5 20px,#444cdb 30px,#4952e0 40px,#4d58e5 50px,#505fe7 60px,#5365ea 70px,#556aeb 80px,#576eed 90px,#5872ee 100px,#5973ee 110px,#5872ee 120px,#576fed 130px,#556bec 140px,#5366ea 150px,#5160e8 160px,#4e5ae5 170px,#4a53e1 180px,#454ddc 190px,#4046d6 200px,#3d40ce 210px,#3a3cc9 217px)"></i><i style="left:147px;background:linear-gradient(#3839c5 0px,#3c3fcd 10px,#3f45d5 20px,#444bdb 30px,#4952e0 40px,#4d58e5 50px,#505fe7 60px,#5365e9 70px,#5569eb 80px,#566dec 90px,#5871ed 100px,#5872ee 110px,#5871ed 120px,#576eed 130px,#556aeb 140px,#5366ea 150px,#5160e8 160px,#4d59e5 170px,#4a53e1 180px,#454ddc 190px,#4046d6 200px,#3d40ce 210px,#3a3cc9 217px)"></i><i style="left:148px;background:linear-gradient(#3939c5 0px,#3e42d1 10px,#444cdb 20px,#4c56e4 30px,#5262e8 40px,#576fed 50px,#5e80f1 60px,#638ef5 70px,#699cf7 80px,#6ea8f7 90px,#71aff7 100px,#72b1f7 110px,#71b0f7 120px,#6faaf7 130px,#6a9ff7 140px,#6491f6 150px,#5f83f2 160px,#5972ee 170px,#5365e9 180px,#4d58e5 190px,#464edd 200px,#3f44d3 210px,#3b3ecb 217px)"></i><i style="left:149px;background:linear-gradient(#2e2fa0 0px,#353aaf 10px,#3f48ba 20px,#475ac0 30px,#5174c7 40px,#5e94c9 50px,#68a6c9 60px,#70b1c8 70px,#76b8c6 80px,#7abcc4 90px,#7dbfc2 100px,#7ec0c1 110px,#7dbfc2 120px,#7bbdc4 130px,#77b9c6 140px,#71b2c8 150px,#6aa9c9 160px,#619ac9 170px,#547bc8 180px,#495fc2 190px,#404bbb 200px,#373db1 210px,#3134a8 217px)"></i><i style="left:150px;background:linear-gradient(#2e2fa1 0px,#383fb3 10px,#4453be 20px,#5174c7 30px,#639fc9 40px,#71b2c8 50px,#7cbec3 60px,#86c7bb 70px,#8ec8b0 80px,#93c7a6 90px,#98c69a 100px,#9ac596 110px,#99c599 120px,#94c7a3 130px,#8fc8ae 140px,#88c8b9 150px,#7ec0c1 160px,#73b4c7 170px,#66a3c9 180px,#557ec8 190px,#4658bf 200px,#3b42b6 210px,#3336ab 217px)"></i><i style="left:151px;background:linear-gradient(#393ac7 0px,#4952e0 10px,#5a76ef 20px,#73b4f7 30px,#8adaf7 40px,#9ceded 50px,#adf6db 60px,#bdf3ba 70px,#cdf09c 80px,#dbf093 90px,#e2ef8e 100px,#e3ef8c 110px,#e2ef8d 120px,#ddf092 130px,#d1f09a 140px,#c1f2b2 150px,#b0f6d6 160px,#a0f1ea 170px,#8ddef6 180px,#78c1f8 190px,#5e80f2 200px,#4c57e4 210px,#4045d5 217px)"></i><i style="left:152px;background:linear-gradient(#393ac7 0px,#4953e1 10px,#5b79f0 20px,#76bbf8 30px,#8cddf6 40px,#a0f1eb 50px,#b1f6d5 60px,#c3f1ac 70px,#d5f097 80px,#e1f08e 90px,#e6ee88 100px,#e7ee86 110px,#e6ee88 120px,#e3ef8d 130px,#d8f095 140px,#c7f0a3 150px,#b4f6d0 160px,#a4f4e8 170px,#90e1f5 180px,#7bc4f8 190px,#5f84f3 200px,#4d58e5 210px,#4046d6 217px)"></i><i style="left:153px;background:linear-gradient(#393ac7 0px,#4a53e2 10px,#5d7df1 20px,#79c1f8 30px,#8fe0f5 40px,#a4f4e8 50px,#b5f6ce 60px,#c9f09f 70px,#ddf092 80px,#e5ee89 90px,#eaed83 100px,#ecec81 110px,#eaed82 120px,#e7ee87 130px,#e0f090 140px,#cdf09c 150px,#b9f4c4 160px,#a7f6e4 170px,#93e4f3 180px,#7dc8f8 190px,#6188f4 200px,#4e5ae5 210px,#4046d6 217px)"></i><i style="left:154px;background:linear-gradient(#393ac7 0px,#4951e0 10px,#5975ee 20px,#72b2f7 30px,#89d9f8 40px,#9bedee 50px,#acf6dc 60px,#bcf4bd 70px,#cbf09e 80px,#d9f095 90px,#e1f08f 100px,#e2ef8d 110px,#e1f08f 120px,#dbf093 130px,#cef09c 140px,#bff3b6 150px,#aff6d8 160px,#9ff0eb 170px,#8dddf6 180px,#78bff8 190px,#5e7ff1 200px,#4c57e4 210px,#4045d5 217px)"></i><i style="left:155px;background:linear-gradient(#393ac7 0px,#474fde 10px,#566bec 20px,#6a9ff7 30px,#81cef8 40px,#92e4f4 50px,#a2f2e9 60px,#aff6d8 70px,#baf4c1 80px,#c4f1a8 90px,#cbf09e 100px,#cef09c 110px,#ccf09d 120px,#c6f1a5 130px,#bdf3bb 140px,#b1f6d5 150px,#a5f5e7 160px,#95e7f2 170px,#85d3f8 180px,#6facf7 190px,#5975ee 200px,#4a54e2 210px,#3f44d4 217px)"></i><i style="left:156px;background:linear-gradient(#393ac6 0px,#454ddc 10px,#5366ea 20px,#638ef6 30px,#7ac3f8 40px,#8adbf7 50px,#97e9f1 60px,#a4f5e7 70px,#adf6da 80px,#b4f6d0 90px,#baf4c2 100px,#bcf4bc 110px,#bbf4c0 120px,#b6f6cc 130px,#aff6d8 140px,#a7f6e5 150px,#9aecef 160px,#8ddef6 170px,#7dc8f8 180px,#6899f6 190px,#566bec 200px,#4851e0 210px,#3e43d2 217px)"></i><i style="left:157px;background:linear-gradient(#393ac6 0px,#444bda 10px,#5161e8 20px,#5f82f2 30px,#71b0f7 40px,#82cff8 50px,#8fe0f5 60px,#99ebef 70px,#a3f3e8 80px,#a9f6e1 90px,#adf6db 100px,#aff6d9 110px,#aef6da 120px,#aaf6df 130px,#a4f5e7 140px,#9bedee 150px,#91e2f4 160px,#85d4f8 170px,#75baf8 180px,#628af4 190px,#5366ea 200px,#474fde 210px,#3e42d1 217px)"></i><i style="left:158px;background:linear-gradient(#3636bb 0px,#3d42cb 10px,#4750d7 20px,#4f62de 30px,#597ae5 40px,#6597e9 50px,#71b5eb 60px,#7ac2eb 70px,#80cceb 80px,#85d1e9 90px,#87d4e8 100px,#88d5e7 110px,#88d5e8 120px,#85d2e9 130px,#81cdea 140px,#7bc4eb 150px,#73b8eb 160px,#679dea 170px,#5b7fe6 180px,#5165df 190px,#4953d8 200px,#3f45cd 210px,#393cc3 217px)"></i><i style="left:159px;background:linear-gradient(#292990 0px,#2c2f97 10px,#2f349d 20px,#343aa2 30px,#383fa7 40px,#3b46a9 50px,#3d4cab 60px,#4052ad 70px,#4359af 80px,#455eb1 90px,#4661b1 100px,#4662b2 110px,#4662b1 120px,#455fb1 130px,#435aaf 140px,#4154ae 150px,#3e4dac 160px,#3b47aa 170px,#3841a7 180px,#353ba3 190px,#30359e 200px,#2d3098 210px,#2b2c93 217px)"></i><i style="left:160px;background:linear-gradient(#3535ba 0px,#383ac0 10px,#3a3ec5 20px,#3d42cb 30px,#4047ce 40px,#434bd2 50px,#464ed5 60px,#4852d8 70px,#4a55d9 80px,#4b57da 90px,#4b59da 100px,#4c5adb 110px,#4b59db 120px,#4b58da 130px,#4a56d9 140px,#4852d8 150px,#464fd6 160px,#444cd3 170px,#4148cf 180px,#3d43cb 190px,#3b3fc6 200px,#383bc1 210px,#3738bd 217px)"></i><i style="left:161px;background:linear-gradient(#3839c5 0px,#3d40ce 10px,#4148d7 20px,#474fde 30px,#4d57e4 40px,#5160e8 50px,#5469eb 60px,#5872ee 70px,#5c7bf0 80px,#5f82f2 90px,#6086f3 100px,#6188f4 110px,#6087f3 120px,#5f83f2 130px,#5c7df1 140px,#5974ee 150px,#556aeb 160px,#5262e8 170px,#4d59e5 180px,#4851e0 190px,#4249d9 200px,#3d42d0 210px,#3b3cca 217px)"></i><i style="left:162px;background:linear-gradient(#3939c6 0px,#4046d6 10px,#4b55e3 20px,#5467ea 30px,#5e81f2 40px,#6aa0f7 50px,#78bff8 60px,#81cdf8 70px,#88d7f8 80px,#8cddf6 90px,#8fe0f5 100px,#90e1f4 110px,#90e1f5 120px,#8ddef6 130px,#89d9f8 140px,#82cff8 150px,#7ac2f8 160px,#6da6f7 170px,#6087f3 180px,#556bec 190px,#4d58e5 200px,#4249d9 210px,#3c40ce 217px)"></i><i style="left:163px;background:linear-gradient(#393ac6 0px,#4249d9 10px,#4f5ce6 20px,#5a77ef 30px,#699cf7 40px,#7ac3f8 50px,#86d6f8 60px,#90e1f5 70px,#97e9f1 80px,#9eefec 90px,#a2f2e9 100px,#a3f4e8 110px,#a2f3e9 120px,#9ff0eb 130px,#99ebf0 140px,#91e3f4 150px,#89d9f8 160px,#7dc7f8 170px,#6da5f7 180px,#5d7ef1 190px,#5161e8 200px,#454ddc 210px,#3d41d0 217px)"></i><i style="left:164px;background:linear-gradient(#2d2d9b 0px,#343aaa 10px,#3e48b5 20px,#475ebc 30px,#537cc1 40px,#609ac2 50px,#6aa8c2 60px,#71b1c0 70px,#77b8bc 80px,#7dbcb9 90px,#80bfb6 100px,#81c0b5 110px,#80bfb6 120px,#7dbdb8 130px,#79b9bb 140px,#73b3bf 150px,#6cabc2 160px,#629dc2 170px,#5683c2 180px,#4963bd 190px,#3f4cb6 200px,#363cac 210px,#3033a3 217px)"></i><i style="left:165px;background:linear-gradient(#3030a6 0px,#383eb6 10px,#424ec1 20px,#4c65c9 30px,#5986cf 40px,#67a5d0 50px,#72b5d0 60px,#7abecc 70px,#81c5c9 80px,#86cac5 90px,#89cdc2 100px,#8bcec1 110px,#8acdc2 120px,#87cac4 130px,#82c6c8 140px,#7bc0cc 150px,#74b7cf 160px,#6aa8d0 170px,#5c8dcf 180px,#4e6bca 190px,#4452c3 200px,#3a41b9 210px,#3337ae 217px)"></i><i style="left:166px;background:linear-gradient(#393ac6 0px,#4249d9 10px,#4e5be6 20px,#5a75ef 30px,#689af6 40px,#79c2f8 50px,#85d4f8 60px,#8fe0f5 70px,#96e8f2 80px,#9ceeed 90px,#a0f1ea 100px,#a2f2e9 110px,#a1f2ea 120px,#9defec 130px,#98e9f1 140px,#90e2f4 150px,#88d7f8 160px,#7cc6f8 170px,#6ca2f7 180px,#5c7cf1 190px,#5160e8 200px,#454cdc 210px,#3d41d0 217px)"></i><i style="left:167px;background:linear-gradient(#3939c6 0px,#4147d7 10px,#4c56e4 20px,#556aeb 30px,#6086f3 40px,#6ea8f7 50px,#7bc4f8 60px,#84d2f8 70px,#8bdbf7 80px,#90e1f5 90px,#93e4f3 100px,#94e6f3 110px,#93e5f3 120px,#91e2f4 130px,#8cddf6 140px,#86d5f8 150px,#7dc7f8 160px,#71aff7 170px,#628cf5 180px,#576eed 190px,#4e5ae5 200px,#434ad9 210px,#3d40ce 217px)"></i><i style="left:168px;background:linear-gradient(#3939c5 0px,#3e42d1 10px,#454cdc 20px,#4c57e4 30px,#5263e9 40px,#5871ee 50px,#5f83f2 60px,#6592f6 70px,#6ba1f7 80px,#70adf7 90px,#73b4f7 100px,#74b7f8 110px,#73b5f8 120px,#71aff7 130px,#6ca4f7 140px,#6695f6 150px,#6086f3 160px,#5a75ef 170px,#5366ea 180px,#4d59e5 190px,#464edd 200px,#3f44d4 210px,#3b3ecb 217px)"></i><i style="left:169px;background:linear-gradient(#3839c5 0px,#3c3fcd 10px,#4046d5 20px,#454cdc 30px,#4a53e1 40px,#4e5ae5 50px,#5161e8 60px,#5467ea 70px,#566dec 80px,#5973ee 90px,#5a76ef 100px,#5b78ef 110px,#5a77ef 120px,#5974ee 130px,#576eed 140px,#5469eb 150px,#5263e9 160px,#4f5ce6 170px,#4b54e2 180px,#464edd 190px,#4147d7 200px,#3d40cf 210px,#3a3cc9 217px)"></i><i style="left:170px;background:linear-gradient(#3839c5 0px,#3c3ecc 10px,#3f44d3 20px,#4349d9 30px,#474fde 40px,#4b54e2 50px,#4e5ae5 60px,#505fe7 70px,#5264e9 80px,#5467ea 90px,#5569eb 100px,#5569eb 110px,#5569eb 120px,#5467ea 130px,#5364e9 140px,#5160e8 150px,#4e5be6 160px,#4b55e3 170px,#4850df 180px,#434bda 190px,#3f45d4 200px,#3c3fcd 210px,#3a3bc8 217px)"></i><i style="left:171px;background:linear-gradient(#3839c5 0px,#3b3ecb 10px,#3e43d2 20px,#4148d8 30px,#454ddc 40px,#4952e0 50px,#4c56e4 60px,#4e5be6 70px,#505fe7 80px,#5162e8 90px,#5264e9 100px,#5364e9 110px,#5264e9 120px,#5262e8 130px,#5060e8 140px,#4f5ce6 150px,#4d57e4 160px,#4a53e1 170px,#464edd 180px,#4249d9 190px,#3f44d3 200px,#3c3fcd 210px,#3a3bc8 217px)"></i><i style="left:172px;background:linear-gradient(#3839c5 0px,#3c3fcd 10px,#3f45d5 20px,#444cdb 30px,#4952e0 40px,#4d58e5 50px,#505fe7 60px,#5365e9 70px,#556aeb 80px,#576eed 90px,#5872ee 100px,#5973ee 110px,#5872ee 120px,#576fed 130px,#556beb 140px,#5366ea 150px,#5160e8 160px,#4e5ae5 170px,#4a53e1 180px,#454ddc 190px,#4046d6 200px,#3d40ce 210px,#3a3cc9 217px)"></i><i style="left:173px;background:linear-gradient(#2f30a5 0px,#3336ad 10px,#363cb4 20px,#3b42ba 30px,#4049bf 40px,#4350c2 50px,#4757c5 60px,#4a5fc7 70px,#4d66c9 80px,#4f6ccb 90px,#506fcc 100px,#5171cc 110px,#5070cc 120px,#4f6dcb 130px,#4d67c9 140px,#4a60c7 150px,#4758c5 160px,#4452c3 170px,#414ac0 180px,#3c44bb 190px,#373db5 200px,#3337ae 210px,#3133a9 217px)"></i><i style="left:174px;background:linear-gradient(#2c2d9b 0px,#3136a6 10px,#383faf 20px,#3f4ab5 30px,#4558ba 40px,#4c6abf 50px,#537dc1 60px,#5b8fc2 70px,#609ac2 80px,#649fc2 90px,#66a3c2 100px,#67a4c2 110px,#66a3c2 120px,#64a0c2 130px,#619bc2 140px,#5c92c2 150px,#5580c2 160px,#4d6dc0 170px,#465bbb 180px,#404db6 190px,#3a41b1 200px,#3337a8 210px,#2f31a0 217px)"></i><i style="left:175px;background:linear-gradient(#3939c6 0px,#4248d8 10px,#4d59e5 20px,#5770ed 30px,#6490f6 40px,#74b7f8 50px,#81cdf8 60px,#8adbf7 70px,#91e3f4 80px,#97e9f2 90px,#9aecef 100px,#9cedee 110px,#9becee 120px,#98e9f1 130px,#93e4f3 140px,#8cdcf6 150px,#83d0f8 160px,#78bff8 170px,#6798f6 180px,#5a76ef 190px,#4f5de7 200px,#444bdb 210px,#3d41cf 217px)"></i><i style="left:176px;background:linear-gradient(#393ac6 0px,#444cdb 10px,#5262e8 20px,#6085f3 30px,#74b5f8 40px,#84d2f8 50px,#91e2f4 60px,#9ceded 70px,#a6f6e6 80px,#acf6dd 90px,#b0f6d7 100px,#b1f6d4 110px,#b0f6d6 120px,#adf6db 130px,#a7f6e4 140px,#9eefec 150px,#93e5f3 160px,#87d7f8 170px,#78bff8 180px,#638df5 190px,#5467ea 200px,#474fde 210px,#3e42d1 217px)"></i><i style="left:177px;background:linear-gradient(#393ac6 0px,#444bdb 10px,#5162e8 20px,#5f84f3 30px,#73b3f7 40px,#83d1f8 50px,#90e1f5 60px,#9becee 70px,#a5f5e7 80px,#abf6de 90px,#aff6d8 100px,#b0f6d6 110px,#aff6d8 120px,#acf6dd 130px,#a6f6e6 140px,#9deeed 150px,#92e4f4 160px,#86d5f8 170px,#77bdf8 180px,#628cf5 190px,#5467ea 200px,#474fde 210px,#3e42d1 217px)"></i><i style="left:178px;background:linear-gradient(#393ac6 0px,#444bdb 10px,#5161e8 20px,#5f83f2 30px,#72b1f7 40px,#82d0f8 50px,#8fe0f5 60px,#9aebef 70px,#a3f4e8 80px,#aaf6e0 90px,#aef6da 100px,#aff6d8 110px,#aef6d9 120px,#abf6df 130px,#a5f5e7 140px,#9cedee 150px,#91e3f4 160px,#85d4f8 170px,#76bbf8 180px,#628bf5 190px,#5366ea 200px,#474fde 210px,#3e42d1 217px)"></i><i style="left:179px;background:linear-gradient(#393ac6 0px,#4349d9 10px,#4f5de6 20px,#5b78ef 30px,#6a9ff7 40px,#7bc5f8 50px,#88d7f8 60px,#91e2f4 70px,#99ebf0 80px,#9ff0eb 90px,#a3f4e8 100px,#a5f5e7 110px,#a4f4e8 120px,#a0f1ea 130px,#9aecef 140px,#93e4f3 150px,#8adaf7 160px,#7ec9f8 170px,#6ea8f7 180px,#5d7ff1 190px,#5161e8 200px,#454ddc 210px,#3d41d0 217px)"></i><i style="left:180px;background:linear-gradient(#3939c6 0px,#4147d7 10px,#4c56e4 20px,#5569eb 30px,#6085f3 40px,#6da6f7 50px,#7ac3f8 60px,#83d1f8 70px,#8adbf7 80px,#8fe0f5 90px,#92e3f4 100px,#93e5f3 110px,#92e4f4 120px,#90e1f5 130px,#8bdcf7 140px,#85d3f8 150px,#7cc6f8 160px,#70adf7 170px,#628bf5 180px,#566dec 190px,#4e59e5 200px,#434ad9 210px,#3d40ce 217px)"></i><i style="left:181px;background:linear-gradient(#3839c5 0px,#3d41cf 10px,#4249d9 20px,#4952e0 30px,#4e5be6 40px,#5365e9 50px,#576fed 60px,#5c7bf0 70px,#6085f3 80px,#638df5 90px,#6592f6 100px,#6694f6 110px,#6592f6 120px,#638ef5 130px,#6187f4 140px,#5d7ef1 150px,#5872ee 160px,#5467ea 170px,#4f5de7 180px,#4a53e2 190px,#444bda 200px,#3e42d1 210px,#3b3dca 217px)"></i><i style="left:182px;background:linear-gradient(#2e2ea0 0px,#3133a6 10px,#3438ad 20px,#383eb2 30px,#3c43b7 40px,#3f49ba 50px,#424fbc 60px,#4454be 70px,#4659c0 80px,#485ec1 90px,#4961c2 100px,#4a62c2 110px,#4961c2 120px,#485ec1 130px,#475ac0 140px,#4555bf 150px,#4250bd 160px,#404bbb 170px,#3d44b8 180px,#393fb3 190px,#353aae 200px,#3134a8 210px,#2f31a3 217px)"></i><i style="left:183px;background:linear-gradient(#2e2ea0 0px,#3033a6 10px,#3337ac 20px,#373cb1 30px,#3a41b5 40px,#3e46b9 50px,#404bbb 60px,#4250bc 70px,#4453be 80px,#4556bf 90px,#4658bf 100px,#4659c0 110px,#4658c0 120px,#4556bf 130px,#4454be 140px,#4250bd 150px,#404cbb 160px,#3e47b9 170px,#3b42b6 180px,#373db2 190px,#3438ad 200px,#3134a7 210px,#2f30a3 217px)"></i><i style="left:184px;background:linear-gradient(#3839c5 0px,#3b3ecb 10px,#3e43d2 20px,#4248d8 30px,#454ddc 40px,#4952e1 50px,#4c56e4 60px,#4e5be6 70px,#505fe7 80px,#5262e9 90px,#5264e9 100px,#5365e9 110px,#5364e9 120px,#5263e9 130px,#5160e8 140px,#4f5ce6 150px,#4d58e5 160px,#4a53e1 170px,#464edd 180px,#4249d9 190px,#3f44d3 200px,#3c3fcd 210px,#3a3bc8 217px)"></i><i style="left:185px;background:linear-gradient(#3839c5 0px,#3c3fcc 10px,#3f44d4 20px,#444bda 30px,#4851df 40px,#4c56e4 50px,#4f5de7 60px,#5263e9 70px,#5467ea 80px,#556beb 90px,#566dec 100px,#576eed 110px,#576eec 120px,#566bec 130px,#5468eb 140px,#5264e9 150px,#505ee7 160px,#4d58e5 170px,#4952e0 180px,#444cdb 190px,#4046d6 200px,#3c40ce 210px,#3a3cc9 217px)"></i><i style="left:186px;background:linear-gradient(#3939c5 0px,#3d42d0 10px,#444bda 20px,#4b54e2 30px,#505fe7 40px,#556aeb 50px,#5b79f0 60px,#6187f4 70px,#6593f6 80px,#6a9df7 90px,#6ca4f7 100px,#6da6f7 110px,#6da5f7 120px,#6a9ff7 130px,#6695f6 140px,#6189f4 150px,#5c7cf1 160px,#566dec 170px,#5162e8 180px,#4c56e4 190px,#454ddc 200px,#3e43d3 210px,#3b3dcb 217px)"></i><i style="left:187px;background:linear-gradient(#3939c5 0px,#3e43d2 10px,#464edd 20px,#4e5ae5 30px,#5468eb 40px,#5c7bf0 50px,#638df5 60px,#6ba1f7 70px,#72b2f7 80px,#77bef8 90px,#7ac3f8 100px,#7bc5f8 110px,#7ac4f8 120px,#78c0f8 130px,#73b5f8 140px,#6da5f7 150px,#6491f6 160px,#5d7ef1 170px,#556bec 180px,#4f5de7 190px,#4850df 200px,#4045d5 210px,#3b3ecc 217px)"></i><i style="left:188px;background:linear-gradient(#2b2b95 0px,#2f339f 10px,#353ba7 20px,#3b44ae 30px,#3f4eb1 40px,#455cb5 50px,#4a69b9 60px,#5078bb 70px,#5584bb 80px,#598ebc 90px,#5c92bc 100px,#5c94bc 110px,#5c93bc 120px,#5a8fbc 130px,#5687bb 140px,#517bbb 150px,#4b6cba 160px,#465eb6 170px,#4050b2 180px,#3c46ae 190px,#363da9 200px,#3034a1 210px,#2d2f9a 217px)"></i><i style="left:189px;background:linear-gradient(#3131ab 0px,#363ab6 10px,#3c43bf 20px,#434dc6 30px,#4859ca 40px,#4e67cf 50px,#5477d3 60px,#5b87d5 70px,#6195d6 80px,#659fd6 90px,#68a6d7 100px,#69a7d7 110px,#68a6d7 120px,#66a1d6 130px,#6297d6 140px,#5c8ad5 150px,#557ad4 160px,#4f6ad0 170px,#495bcb 180px,#444fc7 190px,#3e45c0 200px,#373cb8 210px,#3336b0 217px)"></i><i style="left:190px;background:linear-gradient(#3939c5 0px,#3e43d2 10px,#454ddc 20px,#4d58e5 30px,#5366ea 40px,#5a76ef 50px,#6187f4 60px,#6899f6 70px,#6ea9f7 80px,#73b5f8 90px,#76bcf8 100px,#78bff8 110px,#77bdf8 120px,#74b7f8 130px,#70acf7 140px,#699cf7 150px,#628bf5 160px,#5b79f0 170px,#5468eb 180px,#4e5be6 190px,#474fde 200px,#3f45d4 210px,#3b3ecc 217px)"></i><i style="left:191px;background:linear-gradient(#3839c5 0px,#3d41d0 10px,#434ad9 20px,#4952e1 30px,#4f5de6 40px,#5467ea 50px,#5973ee 60px,#5e80f1 70px,#628af4 80px,#6592f6 90px,#6899f6 100px,#699bf6 110px,#6899f6 120px,#6694f6 130px,#628cf5 140px,#5f82f2 150px,#5a76ef 160px,#5569eb 170px,#505fe7 180px,#4b54e2 190px,#444bdb 200px,#3e43d2 210px,#3b3dca 217px)"></i><i style="left:192px;background:linear-gradient(#3839c5 0px,#3c3fcd 10px,#4046d6 20px,#454ddc 30px,#4a54e2 40px,#4e5be6 50px,#5263e9 60px,#5569eb 70px,#576fed 80px,#5a75ef 90px,#5b79f0 100px,#5c7bf0 110px,#5b7af0 120px,#5a76ef 130px,#5871ed 140px,#556aeb 150px,#5264e9 160px,#4f5de6 170px,#4b55e3 180px,#464edd 190px,#4147d7 200px,#3d41cf 210px,#3a3cc9 217px)"></i><i style="left:193px;background:linear-gradient(#3839c5 0px,#3c3fcc 10px,#3f44d4 20px,#434ada 30px,#4850df 40px,#4c56e4 50px,#4f5ce6 60px,#5162e8 70px,#5467ea 80px,#556aeb 90px,#566cec 100px,#566dec 110px,#566cec 120px,#556aeb 130px,#5467ea 140px,#5263e9 150px,#4f5ee7 160px,#4d57e4 170px,#4952e0 180px,#444cdb 190px,#4045d5 200px,#3c40ce 210px,#3a3cc9 217px)"></i><i style="left:194px;background:linear-gradient(#3839c5 0px,#3b3ecb 10px,#3e43d2 20px,#4147d7 30px,#454ddc 40px,#4851e0 50px,#4b55e3 60px,#4e5ae5 70px,#4f5ee7 80px,#5160e8 90px,#5262e8 100px,#5263e9 110px,#5262e9 120px,#5161e8 130px,#505ee7 140px,#4e5be6 150px,#4c56e4 160px,#4952e1 170px,#464ddd 180px,#4248d8 190px,#3f43d3 200px,#3c3fcc 210px,#3a3bc8 217px)"></i><i style="left:195px;background:linear-gradient(#3839c5 0px,#3b3ecb 10px,#3e43d2 20px,#4148d7 30px,#454ddc 40px,#4951e0 50px,#4c56e4 60px,#4e5ae6 70px,#505ee7 80px,#5161e8 90px,#5263e9 100px,#5264e9 110px,#5263e9 120px,#5162e8 130px,#505fe7 140px,#4e5be6 150px,#4c57e4 160px,#4952e1 170px,#464edd 180px,#4249d8 190px,#3f44d3 200px,#3c3fcd 210px,#3a3bc8 217px)"></i><i style="left:196px;background:linear-gradient(#3536ba 0px,#383bc1 10px,#3b40c8 20px,#3f45cd 30px,#434bd2 40px,#4750d6 50px,#4955d9 60px,#4c5adb 70px,#4e5edc 80px,#4f61dd 90px,#5063de 100px,#5064de 110px,#5063de 120px,#4f61de 130px,#4e5fdd 140px,#4c5bdb 150px,#4a56d9 160px,#4751d7 170px,#444cd3 180px,#4046ce 190px,#3c41c9 200px,#393cc2 210px,#3738be 217px)"></i><i style="left:197px;background:linear-gradient(#292990 0px,#2c2e96 10px,#2f339c 20px,#3338a1 30px,#363da5 40px,#3943a8 50px,#3c48aa 60px,#3e4dac 70px,#4052ad 80px,#4257ae 90px,#435aaf 100px,#435bb0 110px,#435aaf 120px,#4257af 130px,#4153ae 140px,#3e4eac 150px,#3c49aa 160px,#3a44a8 170px,#373ea6 180px,#3339a2 190px,#30349d 200px,#2d2f97 210px,#2b2c93 217px)"></i><i style="left:198px;background:linear-gradient(#3536bb 0px,#3a3ec6 10px,#4148cf 20px,#4751d7 30px,#4d5cdc 40px,#5268e0 50px,#5878e4 60px,#5d85e8 70px,#6393e9 80px,#679dea 90px,#6aa4ea 100px,#6ba6ea 110px,#6aa5ea 120px,#689fea 130px,#6495e9 140px,#5e88e9 150px,#597be5 160px,#536be1 170px,#4e5fdd 180px,#4953d8 190px,#4249d1 200px,#3b40c8 210px,#383ac0 217px)"></i><i style="left:199px;background:linear-gradient(#3939c5 0px,#3e43d3 10px,#464edd 20px,#4e5be6 30px,#5569eb 40px,#5c7cf0 50px,#648ff6 60px,#6ca4f7 70px,#73b5f8 80px,#79c1f8 90px,#7bc5f8 100px,#7cc6f8 110px,#7bc5f8 120px,#79c2f8 130px,#75b8f8 140px,#6ea8f7 150px,#6593f6 160px,#5e80f2 170px,#566cec 180px,#4f5ee7 190px,#4851df 200px,#4045d5 210px,#3c3ecc 217px)"></i><i style="left:200px;background:linear-gradient(#3939c5 0px,#3f45d4 10px,#4851e0 20px,#5160e8 30px,#5973ee 40px,#628af4 50px,#6ca4f7 60px,#76bcf8 70px,#7dc7f8 80px,#82cef8 90px,#85d3f8 100px,#86d5f8 110px,#85d3f8 120px,#82d0f8 130px,#7ec9f8 140px,#78c0f8 150px,#6fa9f7 160px,#638ff6 170px,#5a78ef 180px,#5264e9 190px,#4a54e2 200px,#4147d7 210px,#3c3fcd 217px)"></i><i style="left:201px;background:linear-gradient(#3939c6 0px,#4046d5 10px,#4a53e2 20px,#5365e9 30px,#5c7cf0 40px,#6797f6 50px,#73b5f8 60px,#7dc7f8 70px,#84d2f8 80px,#89d9f8 90px,#8bdcf7 100px,#8dddf6 110px,#8cdcf6 120px,#89daf7 130px,#85d3f8 140px,#7ecaf8 150px,#76bbf8 160px,#6a9df7 170px,#5e81f2 180px,#5468eb 190px,#4c56e4 200px,#4248d8 210px,#3c3fce 217px)"></i><i style="left:202px;background:linear-gradient(#3939c5 0px,#3f44d4 10px,#4850df 20px,#505ee7 30px,#576fed 40px,#6085f3 50px,#699df7 60px,#73b3f7 70px,#7ac3f8 80px,#7ecaf8 90px,#81cef8 100px,#82cff8 110px,#82cef8 120px,#7fcbf8 130px,#7bc4f8 140px,#74b7f8 150px,#6ba1f7 160px,#618af4 170px,#5973ee 180px,#5161e8 190px,#4953e1 200px,#4046d6 210px,#3c3fcd 217px)"></i><i style="left:203px;background:linear-gradient(#3939c5 0px,#3e43d2 10px,#454ddc 20px,#4d58e5 30px,#5365ea 40px,#5a75ef 50px,#6087f3 60px,#6798f6 70px,#6ea8f7 80px,#73b4f8 90px,#76bcf8 100px,#77bef8 110px,#77bdf8 120px,#74b6f8 130px,#6fabf7 140px,#699cf6 150px,#628af4 160px,#5b79f0 170px,#5468eb 180px,#4e5be6 190px,#474fde 200px,#3f45d4 210px,#3b3ecc 217px)"></i><i style="left:204px;background:linear-gradient(#3839c5 0px,#3d41d0 10px,#434ad9 20px,#4a53e1 30px,#4f5de7 40px,#5468ea 50px,#5975ee 60px,#5e82f2 70px,#628cf5 80px,#6695f6 90px,#699bf6 100px,#6a9ef7 110px,#699cf7 120px,#6797f6 130px,#638ef5 140px,#5f84f3 150px,#5a77ef 160px,#556aeb 170px,#5060e7 180px,#4b55e3 190px,#444cdb 200px,#3e43d2 210px,#3b3dca 217px)"></i><i style="left:205px;background:linear-gradient(#3536ba 0px,#393cc3 10px,#3d43cb 20px,#434bd2 30px,#4852d8 40px,#4c5adb 50px,#4f62de 60px,#536ae0 70px,#5672e3 80px,#5878e4 90px,#5a7ce5 100px,#5b7ee6 110px,#5a7de6 120px,#5979e5 130px,#5773e3 140px,#536be1 150px,#5063de 160px,#4d5cdb 170px,#4953d8 180px,#444cd3 190px,#3e45cd 200px,#3a3ec5 210px,#3739bf 217px)"></i><i style="left:206px;background:linear-gradient(#292990 0px,#2c2e96 10px,#2f339c 20px,#3238a1 30px,#363da5 40px,#3942a8 50px,#3c48aa 60px,#3e4cab 70px,#3f51ad 80px,#4155ae 90px,#4258af 100px,#4359af 110px,#4258af 120px,#4156ae 130px,#4052ad 140px,#3e4dac 150px,#3c49aa 160px,#3a43a8 170px,#373ea6 180px,#3339a1 190px,#2f349d 200px,#2c2f97 210px,#2b2c93 217px)"></i><i style="left:207px;background:linear-gradient(#3536ba 0px,#393bc1 10px,#3c41c9 20px,#4047ce 30px,#444cd3 40px,#4852d8 50px,#4b58da 60px,#4d5ddc 70px,#4f62de 80px,#5165df 90px,#5268e0 100px,#5269e0 110px,#5268e0 120px,#5166df 130px,#5063de 140px,#4e5edc 150px,#4b59db 160px,#4953d8 170px,#454ed4 180px,#4148cf 190px,#3c42ca 200px,#393cc3 210px,#3738be 217px)"></i><i style="left:208px;background:linear-gradient(#3839c5 0px,#3b3ecc 10px,#3e43d2 20px,#4249d8 30px,#464edd 40px,#4a53e1 50px,#4d58e5 60px,#4f5de6 70px,#5161e8 80px,#5264e9 90px,#5366ea 100px,#5467ea 110px,#5366ea 120px,#5364e9 130px,#5162e8 140px,#505ee7 150px,#4d59e5 160px,#4a54e2 170px,#474fde 180px,#434ad9 190px,#3f44d4 200px,#3c3fcd 210px,#3a3bc8 217px)"></i><i style="left:209px;background:linear-gradient(#3839c5 0px,#3c3ecc 10px,#3f44d4 20px,#434ada 30px,#4750df 40px,#4b55e3 50px,#4e5be6 60px,#5161e8 70px,#5365ea 80px,#5468eb 90px,#556beb 100px,#566bec 110px,#556bec 120px,#5569eb 130px,#5366ea 140px,#5162e8 150px,#4f5ce6 160px,#4c56e4 170px,#4851e0 180px,#444bdb 190px,#4045d5 200px,#3c40ce 210px,#3a3bc8 217px)"></i><i style="left:210px;background:linear-gradient(#3839c5 0px,#3c3fcd 10px,#3f45d5 20px,#444cdb 30px,#4952e1 40px,#4d58e5 50px,#505fe7 60px,#5365ea 70px,#556aeb 80px,#576fed 90px,#5973ee 100px,#5974ee 110px,#5973ee 120px,#5770ed 130px,#566bec 140px,#5467ea 150px,#5161e8 160px,#4e5ae5 170px,#4a53e2 180px,#454ddc 190px,#4046d6 200px,#3d40cf 210px,#3a3cc9 217px)"></i><i style="left:211px;background:linear-gradient(#3434b5 0px,#373abd 10px,#3b40c4 20px,#3f46ca 30px,#444ccf 40px,#4753d3 50px,#4a59d5 60px,#4d5fd7 70px,#4f64d9 80px,#5169da 90px,#536cdb 100px,#536edc 110px,#536ddc 120px,#526adb 130px,#5065d9 140px,#4e60d8 150px,#4b5ad6 160px,#4854d3 170px,#454dd0 180px,#4047cb 190px,#3b41c5 200px,#383bbe 210px,#3637b9 217px)"></i><i style="left:212px;background:linear-gradient(#292990 0px,#2c2e96 10px,#2f339c 20px,#3238a0 30px,#363da5 40px,#3942a8 50px,#3b47aa 60px,#3d4cab 70px,#3f50ad 80px,#4154ae 90px,#4257af 100px,#4258af 110px,#4257af 120px,#4155ae 130px,#4051ad 140px,#3e4dab 150px,#3c48aa 160px,#3943a8 170px,#373ea5 180px,#3339a1 190px,#2f349d 200px,#2c2f97 210px,#2b2c93 217px)"></i><i style="left:213px;background:linear-gradient(#3737c0 0px,#3b3ec8 10px,#3e44d0 20px,#434bd6 30px,#4851dc 40px,#4c58e0 50px,#4f5fe2 60px,#5266e4 70px,#556be6 80px,#5771e8 90px,#5875e9 100px,#5976e9 110px,#5875e9 120px,#5772e8 130px,#556de7 140px,#5367e5 150px,#5061e3 160px,#4d5ae0 170px,#4952dd 180px,#444cd7 190px,#3f45d1 200px,#3b3fc9 210px,#393ac4 217px)"></i><i style="left:214px;background:linear-gradient(#3839c5 0px,#3c3fcd 10px,#4046d6 20px,#454ddc 30px,#4a54e2 40px,#4e5be6 50px,#5263e9 60px,#5569eb 70px,#576fed 80px,#5a75ef 90px,#5b79f0 100px,#5c7bf0 110px,#5b7af0 120px,#5a76ef 130px,#5871ed 140px,#556aeb 150px,#5264e9 160px,#4f5de6 170px,#4b55e3 180px,#464edd 190px,#4147d7 200px,#3d41cf 210px,#3a3cc9 217px)"></i><i style="left:215px;background:linear-gradient(#3839c5 0px,#3c3fcd 10px,#3f45d4 20px,#444bda 30px,#4851e0 40px,#4c57e4 50px,#505ee7 60px,#5264e9 70px,#5468eb 80px,#566cec 90px,#576fed 100px,#5870ed 110px,#576fed 120px,#566cec 130px,#5569eb 140px,#5365e9 150px,#505fe7 160px,#4d58e5 170px,#4952e1 180px,#454cdb 190px,#4046d6 200px,#3d40ce 210px,#3a3cc9 217px)"></i><i style="left:216px;background:linear-gradient(#3839c5 0px,#3b3ecc 10px,#3f44d3 20px,#4249d9 30px,#464fde 40px,#4a54e2 50px,#4d59e5 60px,#505ee7 70px,#5262e9 80px,#5366ea 90px,#5468ea 100px,#5468eb 110px,#5468ea 120px,#5366ea 130px,#5263e9 140px,#505fe7 150px,#4e5ae6 160px,#4b55e3 170px,#4750de 180px,#434ada 190px,#3f45d4 200px,#3c3fcd 210px,#3a3bc8 217px)"></i><i style="left:217px;background:linear-gradient(#3839c5 0px,#3b3ecb 10px,#3e43d2 20px,#4148d7 30px,#454ddc 40px,#4851e0 50px,#4c55e3 60px,#4e5ae5 70px,#505ee7 80px,#5161e8 90px,#5262e9 100px,#5263e9 110px,#5263e9 120px,#5161e8 130px,#505ee7 140px,#4e5be6 150px,#4c56e4 160px,#4952e1 170px,#464edd 180px,#4249d8 190px,#3f44d3 200px,#3c3fcc 210px,#3a3bc8 217px)"></i><i style="left:218px;background:linear-gradient(#3839c5 0px,#3b3ecb 10px,#3e43d2 20px,#4148d7 30px,#454ddc 40px,#4851e0 50px,#4c55e3 60px,#4e5ae5 70px,#505ee7 80px,#5161e8 90px,#5262e9 100px,#5263e9 110px,#5263e9 120px,#5161e8 130px,#505ee7 140px,#4e5be6 150px,#4c56e4 160px,#4952e1 170px,#464edd 180px,#4249d8 190px,#3f44d3 200px,#3c3fcc 210px,#3a3bc8 217px)"></i><i style="left:219px;background:linear-gradient(#3839c5 0px,#3b3ecb 10px,#3e43d2 20px,#4148d7 30px,#454ddc 40px,#4851e0 50px,#4c55e3 60px,#4e5ae5 70px,#505ee7 80px,#5161e8 90px,#5262e9 100px,#5263e9 110px,#5263e9 120px,#5161e8 130px,#505ee7 140px,#4e5be6 150px,#4c56e4 160px,#4952e1 170px,#464edd 180px,#4249d8 190px,#3f44d3 200px,#3c3fcc 210px,#3a3bc8 217px)"></i><i style="left:220px;background:linear-gradient(#3737bf 0px,#3a3cc6 10px,#3d42cd 20px,#4047d3 30px,#444cd7 40px,#4851dc 50px,#4b56df 60px,#4d5be1 70px,#4f5fe2 80px,#5162e3 90px,#5164e4 100px,#5265e4 110px,#5264e4 120px,#5163e3 130px,#4f60e2 140px,#4e5ce1 150px,#4c57df 160px,#4952dc 170px,#454dd8 180px,#4148d4 190px,#3d43ce 200px,#3a3dc8 210px,#383ac3 217px)"></i><i style="left:221px;background:linear-gradient(#292990 0px,#2c2e95 10px,#2e329b 20px,#31369f 30px,#343ba3 40px,#373fa6 50px,#3a43a8 60px,#3b47aa 70px,#3d4bab 80px,#3e4dac 90px,#3f4fac 100px,#3f4fac 110px,#3f4fac 120px,#3e4eac 130px,#3d4bab 140px,#3c48aa 150px,#3a44a8 160px,#3840a7 170px,#353ba4 180px,#3237a0 190px,#2e339c 200px,#2c2e96 210px,#2a2b92 217px)"></i><i style="left:222px;background:linear-gradient(#3434b5 0px,#373abc 10px,#3a40c4 20px,#3f46c9 30px,#434ccf 40px,#4752d2 50px,#4a58d5 60px,#4d5ed7 70px,#4f62d8 80px,#5067da 90px,#526adb 100px,#526cdb 110px,#526bdb 120px,#5168da 130px,#4f63d9 140px,#4d5fd7 150px,#4b59d5 160px,#4853d3 170px,#444dd0 180px,#4047ca 190px,#3b41c5 200px,#383bbe 210px,#3537b9 217px)"></i><i style="left:223px;background:linear-gradient(#3839c5 0px,#3c3fce 10px,#4046d6 20px,#464ddc 30px,#4b54e2 40px,#4f5ce6 50px,#5264e9 60px,#556aeb 70px,#5871ee 80px,#5b78ef 90px,#5c7cf0 100px,#5d7df1 110px,#5c7cf0 120px,#5b79f0 130px,#5973ee 140px,#566bec 150px,#5365e9 160px,#505ee7 170px,#4c56e4 180px,#474fde 190px,#4148d7 200px,#3d41cf 210px,#3a3cc9 217px)"></i><i style="left:224px;background:linear-gradient(#3839c5 0px,#3d40ce 10px,#4147d7 20px,#474fde 30px,#4c56e4 40px,#505fe7 50px,#5467ea 60px,#5770ed 70px,#5b79f0 80px,#5e80f1 90px,#5f84f3 100px,#6085f3 110px,#5f84f3 120px,#5e81f2 130px,#5c7af0 140px,#5872ee 150px,#5569eb 160px,#5161e8 170px,#4d58e5 180px,#4850df 190px,#4249d8 200px,#3d41d0 210px,#3a3cca 217px)"></i><i style="left:225px;background:linear-gradient(#3839c5 0px,#3d41cf 10px,#4249d9 20px,#4952e0 30px,#4f5ce6 40px,#5366ea 50px,#5870ed 60px,#5d7df1 70px,#6187f4 80px,#638ff6 90px,#6694f6 100px,#6797f6 110px,#6695f6 120px,#6490f6 130px,#6189f4 140px,#5d7ff1 150px,#5973ee 160px,#5468ea 170px,#4f5ee7 180px,#4a54e2 190px,#444bda 200px,#3e43d2 210px,#3b3dca 217px)"></i><i style="left:226px;background:linear-gradient(#3839c5 0px,#3d41cf 10px,#4249d9 20px,#4952e0 30px,#4e5be6 40px,#5365e9 50px,#576fed 60px,#5c7cf0 70px,#6086f3 80px,#638df5 90px,#6592f6 100px,#6694f6 110px,#6593f6 120px,#638ef5 130px,#6187f4 140px,#5d7ef1 150px,#5872ee 160px,#5467ea 170px,#4f5de7 180px,#4a53e2 190px,#444bda 200px,#3e42d1 210px,#3b3dca 217px)"></i><i style="left:227px;background:linear-gradient(#3839c5 0px,#3d40ce 10px,#4147d7 20px,#474fde 30px,#4c57e4 40px,#5060e8 50px,#5468eb 60px,#5871ed 70px,#5b7af0 80px,#5e80f2 90px,#6085f3 100px,#6086f3 110px,#6085f3 120px,#5e82f2 130px,#5c7bf0 140px,#5973ee 150px,#5569eb 160px,#5162e8 170px,#4d59e5 180px,#4851df 190px,#4249d9 200px,#3d41d0 210px,#3b3cca 217px)"></i><i style="left:228px;background:linear-gradient(#3839c5 0px,#3c40ce 10px,#4046d6 20px,#464edd 30px,#4b55e3 40px,#4f5de7 50px,#5365e9 60px,#566cec 70px,#5974ee 80px,#5c7af0 90px,#5d7ef1 100px,#5e80f1 110px,#5d7ff1 120px,#5c7bf0 130px,#5a75ef 140px,#566dec 150px,#5366ea 160px,#505fe7 170px,#4c56e4 180px,#474fde 190px,#4248d8 200px,#3d41d0 210px,#3a3cc9 217px)"></i><i style="left:229px;background:linear-gradient(#3434b5 0px,#373abd 10px,#3b40c4 20px,#3f46ca 30px,#444dcf 40px,#4853d3 50px,#4b5ad6 60px,#4d60d8 70px,#5065d9 80px,#526bdb 90px,#536edc 100px,#546fdc 110px,#536fdc 120px,#526cdb 130px,#5066da 140px,#4e61d8 150px,#4b5bd6 160px,#4855d4 170px,#454ed0 180px,#4048cb 190px,#3c41c6 200px,#383bbe 210px,#3637b9 217px)"></i><i style="left:230px;background:linear-gradient(#292990 0px,#2c2e96 10px,#2e329b 20px,#3237a0 30px,#353ca4 40px,#3840a7 50px,#3a45a9 60px,#3c4aaa 70px,#3e4dac 80px,#3f50ad 90px,#4053ad 100px,#4154ae 110px,#4053ad 120px,#4051ad 130px,#3e4eac 140px,#3d4aab 150px,#3b46a9 160px,#3941a7 170px,#363da4 180px,#3238a1 190px,#2f339c 200px,#2c2f97 210px,#2a2c93 217px)"></i><i style="left:231px;background:linear-gradient(#3737bf 0px,#3a3dc7 10px,#3d42ce 20px,#4148d4 30px,#464ed9 40px,#4a53dd 50px,#4d5ae0 60px,#4f5fe2 70px,#5163e4 80px,#5367e5 90px,#5369e5 100px,#5469e6 110px,#5469e6 120px,#5367e5 130px,#5164e4 140px,#5060e2 150px,#4d5be0 160px,#4a54de 170px,#474fda 180px,#4249d5 190px,#3e43cf 200px,#3b3ec8 210px,#383ac3 217px)"></i><i style="left:232px;background:linear-gradient(#3839c5 0px,#3b3ecc 10px,#3f44d3 20px,#4249d9 30px,#464fde 40px,#4a54e2 50px,#4d59e5 60px,#505ee7 70px,#5262e9 80px,#5366ea 90px,#5468ea 100px,#5468eb 110px,#5468ea 120px,#5366ea 130px,#5263e9 140px,#505fe7 150px,#4e5ae5 160px,#4b55e3 170px,#4750de 180px,#434ada 190px,#3f45d4 200px,#3c3fcd 210px,#3a3bc8 217px)"></i><i style="left:233px;background:linear-gradient(#3839c5 0px,#3b3ecb 10px,#3e43d2 20px,#4148d7 30px,#454ddc 40px,#4951e0 50px,#4c56e4 60px,#4e5ae6 70px,#505ee7 80px,#5161e8 90px,#5263e9 100px,#5264e9 110px,#5263e9 120px,#5162e8 130px,#505fe7 140px,#4e5be6 150px,#4c56e4 160px,#4952e1 170px,#464edd 180px,#4249d8 190px,#3f44d3 200px,#3c3fcd 210px,#3a3bc8 217px)"></i><i style="left:234px;background:linear-gradient(#3839c5 0px,#3b3ecb 10px,#3e43d2 20px,#4248d8 30px,#464edd 40px,#4952e1 50px,#4c57e4 60px,#4f5ce6 70px,#5160e8 80px,#5263e9 90px,#5365e9 100px,#5366ea 110px,#5365e9 120px,#5263e9 130px,#5161e8 140px,#4f5de6 150px,#4d58e5 160px,#4a53e2 170px,#464fdd 180px,#4249d9 190px,#3f44d3 200px,#3c3fcd 210px,#3a3bc8 217px)"></i><i style="left:235px;background:linear-gradient(#3232af 0px,#3537b6 10px,#383cbc 20px,#3b41c1 30px,#3f46c5 40px,#424ac9 50px,#454fcc 60px,#4754ce 70px,#4957cf 80px,#4a5ad0 90px,#4b5cd1 100px,#4b5cd1 110px,#4b5cd1 120px,#4a5ad0 130px,#4958cf 140px,#4754ce 150px,#4550cd 160px,#434bca 170px,#3f47c6 180px,#3c42c2 190px,#383dbd 200px,#3638b7 210px,#3435b3 217px)"></i><i style="left:236px;background:linear-gradient(#292990 0px,#2b2d95 10px,#2e319a 20px,#30359e 30px,#343aa2 40px,#363da5 50px,#3941a7 60px,#3a45a9 70px,#3c48aa 80px,#3d4aab 90px,#3d4cab 100px,#3e4cab 110px,#3d4cab 120px,#3d4bab 130px,#3c49aa 140px,#3b46a9 150px,#3942a8 160px,#373ea6 170px,#343aa3 180px,#31369f 190px,#2e329b 200px,#2c2e96 210px,#2a2b92 217px)"></i><i style="left:237px;background:linear-gradient(#3839c5 0px,#3c3ecc 10px,#3f44d3 20px,#434ad9 30px,#474fde 40px,#4b54e3 50px,#4e5ae5 60px,#505fe7 70px,#5264e9 80px,#5467ea 90px,#5569eb 100px,#556aeb 110px,#5569eb 120px,#5467ea 130px,#5365e9 140px,#5160e8 150px,#4e5be6 160px,#4c55e3 170px,#4850df 180px,#444bda 190px,#3f45d5 200px,#3c3fcd 210px,#3a3bc8 217px)"></i><i style="left:238px;background:linear-gradient(#3839c5 0px,#3c3ecc 10px,#3f44d3 20px,#434ad9 30px,#4750de 40px,#4b55e3 50px,#4e5be6 60px,#5160e8 70px,#5365e9 80px,#5468eb 90px,#556aeb 100px,#556bec 110px,#556aeb 120px,#5469eb 130px,#5366ea 140px,#5161e8 150px,#4f5ce6 160px,#4c56e4 170px,#4851df 180px,#444bda 190px,#3f45d5 200px,#3c3fce 210px,#3a3bc8 217px)"></i><i style="left:239px;background:linear-gradient(#3839c5 0px,#3c3ecc 10px,#3f44d4 20px,#434ada 30px,#4850df 40px,#4c55e4 50px,#4f5ce6 60px,#5161e8 70px,#5366ea 80px,#5569eb 90px,#566bec 100px,#566cec 110px,#566bec 120px,#556aeb 130px,#5467ea 140px,#5262e8 150px,#4f5de7 160px,#4c57e4 170px,#4851e0 180px,#444bdb 190px,#4045d5 200px,#3c40ce 210px,#3a3cc9 217px)"></i><i style="left:240px;background:linear-gradient(#3839c5 0px,#3c3fcc 10px,#3f44d4 20px,#434bda 30px,#4851df 40px,#4c56e4 50px,#4f5de6 60px,#5262e8 70px,#5467ea 80px,#556aeb 90px,#566cec 100px,#576eec 110px,#566dec 120px,#556bec 130px,#5468ea 140px,#5263e9 150px,#505ee7 160px,#4d57e5 170px,#4952e0 180px,#444cdb 190px,#4046d5 200px,#3c40ce 210px,#3a3cc9 217px)"></i><i style="left:241px;background:linear-gradient(#3839c5 0px,#3c3fcc 10px,#3f44d4 20px,#444bda 30px,#4851df 40px,#4c56e4 50px,#4f5de7 60px,#5263e9 70px,#5467ea 80px,#556beb 90px,#566dec 100px,#576eed 110px,#576eec 120px,#566bec 130px,#5468eb 140px,#5264e9 150px,#505ee7 160px,#4d58e5 170px,#4952e0 180px,#444cdb 190px,#4046d6 200px,#3c40ce 210px,#3a3cc9 217px)"></i><i style="left:242px;background:linear-gradient(#3839c5 0px,#3c3fcc 10px,#3f44d4 20px,#434bda 30px,#4851df 40px,#4c56e4 50px,#4f5de6 60px,#5262e9 70px,#5467ea 80px,#556aeb 90px,#566dec 100px,#576eed 110px,#566dec 120px,#556bec 130px,#5468ea 140px,#5263e9 150px,#505ee7 160px,#4d57e5 170px,#4952e0 180px,#444cdb 190px,#4046d5 200px,#3c40ce 210px,#3a3cc9 217px)"></i><i style="left:243px;background:linear-gradient(#3839c5 0px,#3c3fcc 10px,#3f44d4 20px,#434bda 30px,#4850df 40px,#4c56e4 50px,#4f5de6 60px,#5262e8 70px,#5467ea 80px,#556aeb 90px,#566cec 100px,#576dec 110px,#566dec 120px,#556beb 130px,#5467ea 140px,#5263e9 150px,#505ee7 160px,#4d57e4 170px,#4952e0 180px,#444cdb 190px,#4046d5 200px,#3c40ce 210px,#3a3cc9 217px)"></i><i style="left:244px;background:linear-gradient(#3839c5 0px,#3c3fcc 10px,#3f44d4 20px,#434ada 30px,#4850df 40px,#4c56e4 50px,#4f5ce6 60px,#5162e8 70px,#5366ea 80px,#556aeb 90px,#566cec 100px,#566dec 110px,#566cec 120px,#556aeb 130px,#5467ea 140px,#5263e9 150px,#4f5ee7 160px,#4c57e4 170px,#4951e0 180px,#444cdb 190px,#4045d5 200px,#3c40ce 210px,#3a3cc9 217px)"></i><i style="left:245px;background:linear-gradient(#2e2ea0 0px,#3033a6 10px,#3337ac 20px,#373cb1 30px,#3a41b5 40px,#3d45b9 50px,#404bbb 60px,#424fbc 70px,#4453be 80px,#4556bf 90px,#4657bf 100px,#4658c0 110px,#4657bf 120px,#4556bf 130px,#4454be 140px,#4250bd 150px,#404cbb 160px,#3e47b9 170px,#3b42b6 180px,#373db2 190px,#3438ad 200px,#3134a7 210px,#2f30a3 217px)"></i></div><div class="edge" style="left:12px;top:30px;width:246px;height:217px"></div><div class="lb" style="left:12.4px;top:260px">0</div><div class="lb" style="left:86.7px;top:260px">1000</div><div class="lb" style="left:161.1px;top:260px">2000</div><div class="lb" style="left:235.4px;top:260px">3000</div><div class="cl" style="left:264.0px;top:257px;font-size:10.8px;color:#333">&micro;m</div><div class="cb" style="left:289px;top:46px;width:6px;height:204px;background:linear-gradient(to top,#3838c4 0.0%,#4046d6 5.4%,#4c56e4 10.8%,#566cec 16.2%,#6490f6 21.6%,#78c0f8 27.0%,#88d8f8 32.4%,#96e8f2 37.8%,#a6f6e6 43.1%,#b4f6d0 48.5%,#c8f0a0 53.9%,#e0f090 59.3%,#ecec80 64.7%,#f0c860 70.1%,#f09850 75.5%,#e87040 80.9%,#e04a38 86.3%,#d83830 91.7%,#c42626 97.1%,#b81e1e 100.0%)"></div><div class="cl" style="left:298px;top:244.8px">0</div><div class="cl" style="left:298px;top:222.8px">100</div><div class="ct" style="left:289px;top:227px"></div><div class="ct" style="left:294px;top:227px"></div><div class="cl" style="left:298px;top:200.8px">200</div><div class="ct" style="left:289px;top:205px"></div><div class="ct" style="left:294px;top:205px"></div><div class="cl" style="left:298px;top:178.8px">300</div><div class="ct" style="left:289px;top:183px"></div><div class="ct" style="left:294px;top:183px"></div><div class="cl" style="left:298px;top:156.8px">400</div><div class="ct" style="left:289px;top:161px"></div><div class="ct" style="left:294px;top:161px"></div><div class="cl" style="left:298px;top:134.8px">500</div><div class="ct" style="left:289px;top:139px"></div><div class="ct" style="left:294px;top:139px"></div><div class="cl" style="left:298px;top:112.7px">600</div><div class="ct" style="left:289px;top:117px"></div><div class="ct" style="left:294px;top:117px"></div><div class="cl" style="left:298px;top:90.7px">700</div><div class="ct" style="left:289px;top:95px"></div><div class="ct" style="left:294px;top:95px"></div><div class="cl" style="left:298px;top:68.7px">800</div><div class="ct" style="left:289px;top:73px"></div><div class="ct" style="left:294px;top:73px"></div><div class="cl" style="left:298px;top:46.7px">900</div><div class="ct" style="left:289px;top:51px"></div><div class="ct" style="left:294px;top:51px"></div><div class="a f" style="left:360px;top:30px;width:247px;height:218px"><i style="left:0px;background:linear-gradient(#2e2ea0 0px,#373db1 10px,#424fbc 20px,#4e6cc5 30px,#5e93c9 40px,#6babc9 50px,#76b8c6 60px,#7fc1c0 70px,#87c8ba 80px,#8cc8b1 90px,#90c8ac 100px,#91c8aa 110px,#90c8ab 120px,#8ec8b0 130px,#89c8b7 140px,#82c3be 150px,#79bbc5 160px,#6fb0c9 170px,#639ec9 180px,#5176c8 190px,#4555bf 200px,#3a42b5 210px,#3235a9 218px)"></i><i style="left:1px;background:linear-gradient(#3939c5 0px,#444bdb 10px,#5263e9 20px,#6188f4 30px,#76bcf8 40px,#87d7f8 50px,#94e6f3 60px,#a0f1ea 70px,#aaf6e0 80px,#b0f6d6 90px,#b5f6ce 100px,#b7f5c9 110px,#b6f5cc 120px,#b2f6d3 130px,#acf6dc 140px,#a4f4e8 150px,#98e9f1 160px,#8bdcf7 170px,#7cc6f8 180px,#6797f6 190px,#566bec 200px,#4952e0 210px,#3e42d1 218px)"></i><i style="left:2px;background:linear-gradient(#3939c5 0px,#454cdc 10px,#5366ea 20px,#638ff6 30px,#7ac3f8 40px,#8bdbf7 50px,#99eaf0 60px,#a6f6e6 70px,#aff6d8 80px,#b7f5ca 90px,#bdf3bb 100px,#bff3b5 110px,#bef3b8 120px,#b9f5c4 130px,#b1f6d4 140px,#a9f6e1 150px,#9deeed 160px,#8fe0f5 170px,#80cbf8 180px,#6a9ff7 190px,#576fed 200px,#4a53e1 210px,#3e42d1 218px)"></i><i style="left:3px;background:linear-gradient(#3939c5 0px,#454cdc 10px,#5365ea 20px,#638ef6 30px,#7ac3f8 40px,#8bdbf7 50px,#98eaf0 60px,#a6f6e6 70px,#aff6d8 80px,#b6f5ca 90px,#bdf3bc 100px,#bff3b6 110px,#bef3b9 120px,#b9f5c5 130px,#b1f6d4 140px,#a9f6e2 150px,#9deeed 160px,#8fe0f5 170px,#7fcbf8 180px,#6a9ff7 190px,#576fed 200px,#4a53e1 210px,#3e42d1 218px)"></i><i style="left:4px;background:linear-gradient(#3939c5 0px,#454cdb 10px,#5365e9 20px,#638cf5 30px,#79c1f8 40px,#8adaf7 50px,#97e9f1 60px,#a4f4e8 70px,#adf6db 80px,#b4f6d0 90px,#baf4c1 100px,#bcf3bc 110px,#bbf4bf 120px,#b6f5cb 130px,#b0f6d7 140px,#a7f6e4 150px,#9becee 160px,#8edff6 170px,#7ec9f8 180px,#699cf7 190px,#576eec 200px,#4952e1 210px,#3e42d1 218px)"></i><i style="left:5px;background:linear-gradient(#3939c5 0px,#444cdb 10px,#5264e9 20px,#628bf5 30px,#78c0f8 40px,#89d9f8 50px,#96e7f2 60px,#a2f3e9 70px,#acf6dd 80px,#b2f6d3 90px,#b8f5c7 100px,#baf4c2 110px,#b9f5c5 120px,#b4f6d0 130px,#aef6d9 140px,#a6f6e6 150px,#9aebef 160px,#8dddf6 170px,#7dc8f8 180px,#689af6 190px,#566cec 200px,#4952e0 210px,#3e42d1 218px)"></i><i style="left:6px;background:linear-gradient(#3839c5 0px,#434bda 10px,#5161e8 20px,#5f83f2 30px,#72b2f7 40px,#83d1f8 50px,#90e1f5 60px,#9bedee 70px,#a5f5e7 80px,#abf6dd 90px,#aff6d7 100px,#b1f6d5 110px,#b0f6d6 120px,#adf6db 130px,#a7f6e4 140px,#9eefec 150px,#93e5f3 160px,#88d7f8 170px,#78c1f8 180px,#648ff6 190px,#5468eb 200px,#4850df 210px,#3d41d0 218px)"></i><i style="left:7px;background:linear-gradient(#3839c5 0px,#4249d9 10px,#4f5de6 20px,#5b7af0 30px,#6ca2f7 40px,#7dc7f8 50px,#8adaf7 60px,#93e5f3 70px,#9cedee 80px,#a3f3e8 90px,#a7f6e5 100px,#a8f6e2 110px,#a8f6e4 120px,#a4f4e7 130px,#9eefec 140px,#96e8f2 150px,#8dddf6 160px,#81cdf8 170px,#71b0f7 180px,#6085f3 190px,#5264e9 200px,#464fdd 210px,#3d41cf 218px)"></i><i style="left:8px;background:linear-gradient(#3737c0 0px,#3e44d0 10px,#4952dc 20px,#5164e4 30px,#5c7eeb 40px,#689cf0 50px,#75bbf1 60px,#7ec8f1 70px,#85d3f1 80px,#89d8ef 90px,#8cdbee 100px,#8ddded 110px,#8ddcee 120px,#8ad9ef 130px,#86d4f0 140px,#80ccf1 150px,#78bff1 160px,#6ca6f0 170px,#5f86ee 180px,#546ae6 190px,#4b57df 200px,#4148d4 210px,#3a3dc8 218px)"></i><i style="left:9px;background:linear-gradient(#292990 0px,#2d3098 10px,#3237a0 20px,#373fa6 30px,#3c48aa 40px,#4052ad 50px,#455fb1 60px,#496ab4 70px,#4e75b4 80px,#527eb4 90px,#5483b5 100px,#5586b5 110px,#5484b5 120px,#5380b5 130px,#4f78b4 140px,#4b6eb4 150px,#4662b2 160px,#4256ae 170px,#3d4bab 180px,#3942a7 190px,#343aa2 200px,#2e329b 210px,#2b2d94 218px)"></i><i style="left:10px;background:linear-gradient(#3434b4 0px,#3739bb 10px,#3a3ec2 20px,#3d44c8 30px,#4149cc 40px,#454ed1 50px,#4854d3 60px,#4a59d5 70px,#4c5dd7 80px,#4d60d8 90px,#4e62d8 100px,#4f62d9 110px,#4f62d8 120px,#4e60d8 130px,#4d5ed7 140px,#4b5ad6 150px,#4955d4 160px,#464fd2 170px,#434bce 180px,#3f45c9 190px,#3b40c4 200px,#383bbd 210px,#3536b8 218px)"></i><i style="left:11px;background:linear-gradient(#3838c4 0px,#3c40ce 10px,#4147d7 20px,#474fde 30px,#4c56e4 40px,#5060e7 50px,#5468ea 60px,#5871ed 70px,#5b7af0 80px,#5e81f2 90px,#6085f3 100px,#6087f3 110px,#6086f3 120px,#5f82f2 130px,#5c7cf0 140px,#5974ee 150px,#556aeb 160px,#5262e8 170px,#4d59e5 180px,#4851e0 190px,#4349d9 200px,#3e42d1 210px,#3a3cc9 218px)"></i><i style="left:12px;background:linear-gradient(#3838c5 0px,#3e42d1 10px,#444cdb 20px,#4c56e4 30px,#5263e9 40px,#5871ed 50px,#5f82f2 60px,#6491f6 70px,#6ba1f7 80px,#70adf7 90px,#73b4f8 100px,#74b7f8 110px,#74b5f8 120px,#71aff7 130px,#6da5f7 140px,#6796f6 150px,#6087f3 160px,#5a76ef 170px,#5467ea 180px,#4e5ae5 190px,#474fde 200px,#3f45d4 210px,#3b3dcb 218px)"></i><i style="left:13px;background:linear-gradient(#3839c5 0px,#3f44d3 10px,#4750df 20px,#505ee7 30px,#576eed 40px,#6085f3 50px,#699df7 60px,#73b4f7 70px,#7ac3f8 80px,#7fcaf8 90px,#82cff8 100px,#83d0f8 110px,#82cff8 120px,#80ccf8 130px,#7cc6f8 140px,#75baf8 150px,#6ca4f7 160px,#628bf5 170px,#5a75ef 180px,#5263e9 190px,#4a53e2 200px,#4147d7 210px,#3c3ecc 218px)"></i><i style="left:14px;background:linear-gradient(#3536ba 0px,#3c41c9 10px,#454dd4 20px,#4d5ddc 30px,#5571e2 40px,#5f88e9 50px,#6aa4ea 60px,#74b9eb 70px,#7ac2eb 80px,#7fc9eb 90px,#82cdea 100px,#83cfea 110px,#82ceea 120px,#80cbeb 130px,#7cc5eb 140px,#76bceb 150px,#6dacea 160px,#6291e9 170px,#5878e4 180px,#4f62de 190px,#4851d8 200px,#3e45cd 210px,#393bc1 218px)"></i><i style="left:15px;background:linear-gradient(#292990 0px,#2e329b 10px,#353ca4 20px,#3c48aa 30px,#4258af 40px,#4a6bb4 50px,#5381b5 60px,#5a90b5 70px,#5f97b5 80px,#639db5 90px,#659fb4 100px,#66a0b4 110px,#65a0b4 120px,#639eb5 130px,#6099b5 140px,#5c92b5 150px,#5586b5 160px,#4d72b4 170px,#455eb0 180px,#3d4cab 190px,#383fa7 200px,#30359e 210px,#2c2e95 218px)"></i><i style="left:16px;background:linear-gradient(#3536ba 0px,#3c41c9 10px,#454ed5 20px,#4e5edc 30px,#5673e3 40px,#608de9 50px,#6ca9ea 60px,#75bceb 70px,#7cc5eb 80px,#81cdeb 90px,#83d0e9 100px,#85d1e9 110px,#84d0e9 120px,#82ceea 130px,#7ec8eb 140px,#78bfeb 150px,#70b1ea 160px,#6496e9 170px,#597be5 180px,#5063de 190px,#4852d8 200px,#3f45cd 210px,#393bc2 218px)"></i><i style="left:17px;background:linear-gradient(#3839c5 0px,#3f44d3 10px,#4850df 20px,#505fe7 30px,#5871ed 40px,#6189f4 50px,#6ca2f7 60px,#75baf8 70px,#7cc7f8 80px,#81cef8 90px,#84d2f8 100px,#85d4f8 110px,#85d3f8 120px,#82cff8 130px,#7ec9f8 140px,#78c0f8 150px,#6faaf7 160px,#648ff6 170px,#5b78ef 180px,#5264e9 190px,#4b54e2 200px,#4148d7 210px,#3c3ecc 218px)"></i><i style="left:18px;background:linear-gradient(#3839c5 0px,#3e43d2 10px,#464edd 20px,#4e5be6 30px,#556aeb 40px,#5d7ef1 50px,#6591f6 60px,#6ea7f7 70px,#75b9f8 80px,#7ac3f8 90px,#7dc7f8 100px,#7ec9f8 110px,#7dc8f8 120px,#7bc5f8 130px,#77bdf8 140px,#70adf7 150px,#6898f6 160px,#5f84f3 170px,#576fed 180px,#505fe7 190px,#4952e0 200px,#4046d6 210px,#3b3ecb 218px)"></i><i style="left:19px;background:linear-gradient(#3838c5 0px,#3e42d1 10px,#454ddc 20px,#4d57e4 30px,#5365e9 40px,#5974ee 50px,#6086f3 60px,#6797f6 70px,#6ea8f7 80px,#73b4f7 90px,#76bcf8 100px,#77bff8 110px,#77bdf8 120px,#74b7f8 130px,#70acf7 140px,#699df7 150px,#628bf5 160px,#5b7af0 170px,#5469eb 180px,#4f5ce6 190px,#4750df 200px,#3f45d5 210px,#3b3dcb 218px)"></i><i style="left:20px;background:linear-gradient(#3838c5 0px,#3d41d0 10px,#444bda 20px,#4b55e3 30px,#5161e8 40px,#566cec 50px,#5c7df1 60px,#628bf5 70px,#6798f6 80px,#6ca4f7 90px,#6fabf7 100px,#70adf7 110px,#70acf7 120px,#6da6f7 130px,#699cf7 140px,#638ff6 150px,#5e81f2 160px,#5871ed 170px,#5264e9 180px,#4d58e5 190px,#464edd 200px,#3f44d4 210px,#3b3dca 218px)"></i><i style="left:21px;background:linear-gradient(#3838c5 0px,#3d41cf 10px,#4249d9 20px,#4952e1 30px,#4f5ce6 40px,#5467ea 50px,#5973ee 60px,#5e80f2 70px,#628bf5 80px,#6593f6 90px,#689af6 100px,#699cf7 110px,#699bf6 120px,#6696f6 130px,#638df5 140px,#5f84f3 150px,#5a77ef 160px,#556aeb 170px,#5060e8 180px,#4b55e3 190px,#454cdb 200px,#3e43d2 210px,#3b3dca 218px)"></i><i style="left:22px;background:linear-gradient(#3838c5 0px,#3d41d0 10px,#434ad9 20px,#4a53e1 30px,#505ee7 40px,#5569eb 50px,#5a76ef 60px,#5f84f3 70px,#638ff6 80px,#6899f6 90px,#6ba0f7 100px,#6ca2f7 110px,#6ba1f7 120px,#699bf6 130px,#6592f6 140px,#6187f4 150px,#5c7bf0 160px,#566cec 170px,#5161e8 180px,#4c56e4 190px,#454ddc 200px,#3f44d3 210px,#3b3dca 218px)"></i><i style="left:23px;background:linear-gradient(#3434b5 0px,#393dc0 10px,#3f46ca 20px,#4650d2 30px,#4c5cd6 40px,#5169db 50px,#5879df 60px,#5d88e2 70px,#6497e3 80px,#68a2e3 90px,#6ba9e4 100px,#6cabe4 110px,#6caae4 120px,#69a4e3 130px,#659be3 140px,#5f8de2 150px,#597ee0 160px,#536edc 170px,#4d5fd7 180px,#4853d3 190px,#4149cc 200px,#3a3fc3 210px,#3638ba 218px)"></i><i style="left:24px;background:linear-gradient(#292990 0px,#2e329a 10px,#343ba3 20px,#3a45a9 30px,#4052ad 40px,#4763b2 50px,#4e75b4 60px,#5586b5 70px,#5a90b5 80px,#5e95b5 90px,#6098b5 100px,#619ab5 110px,#6099b5 120px,#5e96b5 130px,#5b92b5 140px,#578bb5 150px,#507ab4 160px,#4868b3 170px,#4257af 180px,#3c49aa 190px,#363da5 200px,#2f349d 210px,#2b2d95 218px)"></i><i style="left:25px;background:linear-gradient(#3737c0 0px,#3e44d0 10px,#4952dc 20px,#5164e4 30px,#5c7eeb 40px,#689cf0 50px,#75bbf1 60px,#7ec8f1 70px,#85d3f1 80px,#89d8ef 90px,#8cdbee 100px,#8ddded 110px,#8ddcee 120px,#8ad9ef 130px,#86d4f0 140px,#80ccf1 150px,#78bff1 160px,#6ca6f0 170px,#5f86ee 180px,#546ae6 190px,#4b57df 200px,#4148d4 210px,#3a3dc8 218px)"></i><i style="left:26px;background:linear-gradient(#3839c5 0px,#4046d6 10px,#4b55e3 20px,#5467ea 30px,#5f82f2 40px,#6ca2f7 50px,#79c1f8 60px,#82cff8 70px,#89d9f8 80px,#8edff5 90px,#91e2f4 100px,#92e4f4 110px,#92e3f4 120px,#8fe0f5 130px,#8bdbf7 140px,#84d3f8 150px,#7cc6f8 160px,#70acf7 170px,#628bf5 180px,#576eec 190px,#4e5ae5 200px,#434ada 210px,#3c3fcd 218px)"></i><i style="left:27px;background:linear-gradient(#3839c5 0px,#4046d6 10px,#4b55e3 20px,#5468eb 30px,#5f84f3 40px,#6ca4f7 50px,#7ac2f8 60px,#83d0f8 70px,#8adaf7 80px,#8fe0f5 90px,#92e3f4 100px,#93e5f3 110px,#92e4f4 120px,#90e1f5 130px,#8cdcf6 140px,#85d4f8 150px,#7cc7f8 160px,#71aef7 170px,#628cf5 180px,#576fed 190px,#4e5ae6 200px,#434ada 210px,#3c3fcd 218px)"></i><i style="left:28px;background:linear-gradient(#3839c5 0px,#4046d6 10px,#4b55e3 20px,#5469eb 30px,#6085f3 40px,#6da6f7 50px,#7ac3f8 60px,#84d1f8 70px,#8bdbf7 80px,#90e1f5 90px,#93e4f3 100px,#94e6f3 110px,#93e5f3 120px,#91e2f4 130px,#8cddf6 140px,#86d5f8 150px,#7dc8f8 160px,#71b0f7 170px,#638df5 180px,#5770ed 190px,#4e5be6 200px,#434bda 210px,#3c3fce 218px)"></i><i style="left:29px;background:linear-gradient(#3839c5 0px,#4046d6 10px,#4b55e3 20px,#5468ea 30px,#5f83f2 40px,#6ca4f7 50px,#79c2f8 60px,#83d0f8 70px,#8adaf7 80px,#8fe0f5 90px,#92e3f4 100px,#93e4f3 110px,#92e4f4 120px,#90e1f5 130px,#8bdcf7 140px,#85d4f8 150px,#7cc6f8 160px,#70aef7 170px,#628cf5 180px,#576eed 190px,#4e5ae6 200px,#434ada 210px,#3c3fcd 218px)"></i><i style="left:30px;background:linear-gradient(#3839c5 0px,#4046d6 10px,#4b54e3 20px,#5467ea 30px,#5e82f2 40px,#6ba1f7 50px,#78c1f8 60px,#82cef8 70px,#89d9f8 80px,#8edef6 90px,#91e2f4 100px,#92e3f4 110px,#91e2f4 120px,#8fe0f5 130px,#8adbf7 140px,#84d2f8 150px,#7bc5f8 160px,#6fabf7 170px,#628af4 180px,#566dec 190px,#4e5ae5 200px,#434ada 210px,#3c3fcd 218px)"></i><i style="left:31px;background:linear-gradient(#3839c5 0px,#3f45d4 10px,#4952e1 20px,#5263e9 30px,#5b79f0 40px,#6593f6 50px,#72b1f7 60px,#7bc5f8 70px,#82cff8 80px,#87d7f8 90px,#8adbf7 100px,#8bdcf7 110px,#8bdbf7 120px,#88d8f8 130px,#84d2f8 140px,#7ec8f8 150px,#75b9f8 160px,#699cf7 170px,#5e81f2 180px,#5468eb 190px,#4c56e4 200px,#4249d8 210px,#3c3fcd 218px)"></i><i style="left:32px;background:linear-gradient(#3434b5 0px,#393ec1 10px,#4148cb 20px,#4853d3 30px,#4e61d8 40px,#5573dd 50px,#5c85e2 60px,#6599e3 70px,#6ba9e4 80px,#70b3e4 90px,#72b7e4 100px,#73b8e4 110px,#73b7e4 120px,#71b4e4 130px,#6dade4 140px,#679ee3 150px,#5f8be2 160px,#5779df 170px,#5065da 180px,#4a58d5 190px,#434bce 200px,#3b40c5 210px,#3639bb 218px)"></i><i style="left:33px;background:linear-gradient(#29298f 0px,#2d2f97 10px,#31369f 20px,#363ca4 30px,#3a44a8 40px,#3e4cab 50px,#4156ae 60px,#455fb1 70px,#4867b3 80px,#4b6eb4 90px,#4d73b4 100px,#4e75b4 110px,#4e74b4 120px,#4c70b4 130px,#4969b4 140px,#4662b2 150px,#4359af 160px,#3f4eac 170px,#3b47a9 180px,#373ea6 190px,#3238a0 200px,#2e319a 210px,#2b2c93 218px)"></i><i style="left:34px;background:linear-gradient(#3737bf 0px,#3a3dc7 10px,#3e43cf 20px,#434ad5 30px,#4850db 40px,#4c57df 50px,#4f5ee2 60px,#5264e4 70px,#546ae6 80px,#566fe7 90px,#5873e8 100px,#5875e9 110px,#5874e9 120px,#5771e8 130px,#556ce6 140px,#5266e5 150px,#5060e2 160px,#4d5ae0 170px,#4952dd 180px,#444cd7 190px,#3f45d1 200px,#3b3fca 210px,#383ac3 218px)"></i><i style="left:35px;background:linear-gradient(#3838c4 0px,#3c3fcd 10px,#4046d6 20px,#464ddc 30px,#4b54e2 40px,#4f5ce6 50px,#5264e9 60px,#556bec 70px,#5973ee 80px,#5b79f0 90px,#5d7df1 100px,#5d7ff1 110px,#5d7ef1 120px,#5c7af0 130px,#5975ee 140px,#566dec 150px,#5366ea 160px,#505fe7 170px,#4c56e4 180px,#474fde 190px,#4248d8 200px,#3d41d0 210px,#3a3cc9 218px)"></i><i style="left:36px;background:linear-gradient(#3838c4 0px,#3c40ce 10px,#4147d7 20px,#464fde 30px,#4c56e4 40px,#505fe7 50px,#5467ea 60px,#576fed 70px,#5b79ef 80px,#5e7ff1 90px,#5f84f3 100px,#6085f3 110px,#5f84f3 120px,#5e81f2 130px,#5c7bf0 140px,#5872ee 150px,#5569eb 160px,#5162e8 170px,#4d59e5 180px,#4851df 190px,#4249d9 200px,#3e42d1 210px,#3a3cc9 218px)"></i><i style="left:37px;background:linear-gradient(#3838c5 0px,#3d40cf 10px,#4248d8 20px,#4851e0 30px,#4e5ae5 40px,#5264e9 50px,#576eec 60px,#5b7af0 70px,#5f84f3 80px,#628bf5 90px,#6490f6 100px,#6593f6 110px,#6591f6 120px,#638df5 130px,#6087f3 140px,#5d7df1 150px,#5872ee 160px,#5467ea 170px,#4f5de7 180px,#4a53e2 190px,#444bda 200px,#3e43d2 210px,#3b3cca 218px)"></i><i style="left:38px;background:linear-gradient(#3737bf 0px,#3c3fca 10px,#4148d4 20px,#4851dc 30px,#4e5ce1 40px,#5266e5 50px,#5874e9 60px,#5d81ec 70px,#618cef 80px,#6596f0 90px,#689df0 100px,#699ff0 110px,#699ef0 120px,#6698f0 130px,#628fef 140px,#5e84ed 150px,#5a78ea 160px,#5469e6 170px,#4f5fe2 180px,#4a54de 190px,#434bd6 200px,#3d42cd 210px,#393bc5 218px)"></i><i style="left:39px;background:linear-gradient(#292990 0px,#2d3099 10px,#3238a0 20px,#3840a7 30px,#3d4aaa 40px,#4155ae 50px,#4663b2 60px,#4c6fb4 70px,#517bb4 80px,#5484b5 90px,#578ab5 100px,#588cb5 110px,#578bb5 120px,#5586b5 130px,#527eb4 140px,#4d73b4 150px,#4866b3 160px,#435aaf 170px,#3e4dab 180px,#3943a8 190px,#343aa3 200px,#2e329b 210px,#2b2d94 218px)"></i><i style="left:40px;background:linear-gradient(#3434b5 0px,#3a3ec2 10px,#4149cc 20px,#4956d4 30px,#4f64d9 40px,#5779df 50px,#608ee2 60px,#69a3e3 70px,#6fb2e4 80px,#74b8e4 90px,#76bce4 100px,#77bee4 110px,#77bde4 120px,#75bae4 130px,#71b4e4 140px,#6ba8e4 150px,#6395e3 160px,#5a7fe1 170px,#526adb 180px,#4b5ad6 190px,#444ccf 200px,#3b41c5 210px,#3739bb 218px)"></i><i style="left:41px;background:linear-gradient(#3839c5 0px,#3f44d4 10px,#4851e0 20px,#5160e8 30px,#5973ee 40px,#628bf5 50px,#6da6f7 60px,#77bff8 70px,#7ec9f8 80px,#83d0f8 90px,#86d5f8 100px,#87d7f8 110px,#87d6f8 120px,#84d2f8 130px,#80ccf8 140px,#7ac3f8 150px,#71aef7 160px,#6593f6 170px,#5c7bf0 180px,#5365ea 190px,#4b55e3 200px,#4148d8 210px,#3c3ecc 218px)"></i><i style="left:42px;background:linear-gradient(#3839c5 0px,#3f44d4 10px,#4851e0 20px,#5161e8 30px,#5974ee 40px,#638df5 50px,#6ea8f7 60px,#78c0f8 70px,#7fcaf8 80px,#84d2f8 90px,#87d6f8 100px,#88d8f8 110px,#87d7f8 120px,#85d3f8 130px,#81cdf8 140px,#7ac4f8 150px,#71b0f7 160px,#6695f6 170px,#5c7cf0 180px,#5366ea 190px,#4b55e3 200px,#4248d8 210px,#3c3ecc 218px)"></i><i style="left:43px;background:linear-gradient(#3839c5 0px,#3f44d4 10px,#4951e0 20px,#5161e8 30px,#5a75ef 40px,#638ef5 50px,#6faaf7 60px,#79c1f8 70px,#80cbf8 80px,#85d3f8 90px,#88d8f8 100px,#89d9f8 110px,#88d8f8 120px,#86d5f8 130px,#81cef8 140px,#7bc5f8 150px,#72b2f7 160px,#6796f6 170px,#5d7df1 180px,#5366ea 190px,#4c55e3 200px,#4248d8 210px,#3c3fcc 218px)"></i><i style="left:44px;background:linear-gradient(#3839c5 0px,#3f45d4 10px,#4952e0 20px,#5162e8 30px,#5a76ef 40px,#648ff6 50px,#70acf7 60px,#7ac3f8 70px,#80cdf8 80px,#85d4f8 90px,#88d9f8 100px,#8adaf7 110px,#89d9f8 120px,#87d6f8 130px,#82cff8 140px,#7cc6f8 150px,#73b4f8 160px,#6798f6 170px,#5d7ef1 180px,#5467ea 190px,#4c56e4 200px,#4248d8 210px,#3c3fcc 218px)"></i><i style="left:45px;background:linear-gradient(#3839c5 0px,#3f44d4 10px,#4851e0 20px,#5160e8 30px,#5973ee 40px,#628cf5 50px,#6da7f7 60px,#78bff8 70px,#7ec9f8 80px,#83d1f8 90px,#86d5f8 100px,#87d7f8 110px,#87d6f8 120px,#84d2f8 130px,#80ccf8 140px,#7ac3f8 150px,#71aff7 160px,#6593f6 170px,#5c7bf0 180px,#5365ea 190px,#4b55e3 200px,#4148d8 210px,#3c3ecc 218px)"></i><i style="left:46px;background:linear-gradient(#3839c5 0px,#3f44d3 10px,#4850df 20px,#505fe7 30px,#5871ed 40px,#6188f4 50px,#6ba1f7 60px,#75b9f8 70px,#7cc6f8 80px,#81cdf8 90px,#84d2f8 100px,#85d4f8 110px,#84d3f8 120px,#82cff8 130px,#7ec9f8 140px,#78bff8 150px,#6ea9f7 160px,#648ff6 170px,#5b78ef 180px,#5264e9 190px,#4b54e2 200px,#4148d7 210px,#3c3ecc 218px)"></i><i style="left:47px;background:linear-gradient(#3131aa 0px,#363ab6 10px,#3e45c0 20px,#4551c8 30px,#4b5ecc 40px,#5272d2 50px,#5a86d5 60px,#639ad6 70px,#69a8d7 80px,#6daed7 90px,#70b2d7 100px,#70b3d7 110px,#70b2d7 120px,#6eafd7 130px,#6aaad7 140px,#659fd6 150px,#5d8cd5 160px,#5578d3 170px,#4d64ce 180px,#4655c9 190px,#4048c3 200px,#383dba 210px,#3336b0 218px)"></i><i style="left:48px;background:linear-gradient(#2b2b95 0px,#2f339f 10px,#353ba8 20px,#3b45ae 30px,#4050b2 40px,#4760b7 50px,#4d6fba 60px,#5480bb 70px,#598dbc 80px,#5d94bc 90px,#5f97bc 100px,#6099bc 110px,#5f98bc 120px,#5e95bc 130px,#5b91bc 140px,#5584bb 150px,#4f74bb 160px,#4864b8 170px,#4254b3 180px,#3d49af 190px,#373eaa 200px,#3135a2 210px,#2d2f9a 218px)"></i><i style="left:49px;background:linear-gradient(#3839c5 0px,#3e43d2 10px,#464edd 20px,#4e59e5 30px,#5467ea 40px,#5b79f0 50px,#628cf5 60px,#6ba0f7 70px,#72b1f7 80px,#77bef8 90px,#7ac3f8 100px,#7bc4f8 110px,#7ac4f8 120px,#78c0f8 130px,#74b5f8 140px,#6da5f7 150px,#6591f6 160px,#5d7ff1 170px,#566bec 180px,#4f5ee7 190px,#4851df 200px,#4046d6 210px,#3b3ecb 218px)"></i><i style="left:50px;background:linear-gradient(#3839c5 0px,#3e43d2 10px,#464edd 20px,#4e5ae5 30px,#5468eb 40px,#5c7bf0 50px,#638ef5 60px,#6ca3f7 70px,#73b4f7 80px,#78c0f8 90px,#7bc4f8 100px,#7cc6f8 110px,#7bc5f8 120px,#79c2f8 130px,#75b8f8 140px,#6ea8f7 150px,#6694f6 160px,#5e81f2 170px,#566cec 180px,#505ee7 190px,#4851e0 200px,#4046d6 210px,#3b3ecb 218px)"></i><i style="left:51px;background:linear-gradient(#3839c5 0px,#3e43d2 10px,#464edd 20px,#4e5be6 30px,#5569eb 40px,#5c7df1 50px,#6490f6 60px,#6da5f7 70px,#74b7f8 80px,#79c2f8 90px,#7cc6f8 100px,#7dc8f8 110px,#7dc7f8 120px,#7ac3f8 130px,#76bbf8 140px,#6fabf7 150px,#6797f6 160px,#5f83f2 170px,#576eec 180px,#505fe7 190px,#4952e0 200px,#4046d6 210px,#3b3ecb 218px)"></i><i style="left:52px;background:linear-gradient(#3839c5 0px,#3e43d2 10px,#464fdd 20px,#4e5be6 30px,#556aeb 40px,#5d7ff1 50px,#6593f6 60px,#6ea9f7 70px,#76bbf8 80px,#7bc4f8 90px,#7dc8f8 100px,#7fcaf8 110px,#7ec9f8 120px,#7cc5f8 130px,#78bff8 140px,#71aff7 150px,#689af6 160px,#6085f3 170px,#5770ed 180px,#5060e8 190px,#4952e1 200px,#4046d6 210px,#3b3ecc 218px)"></i><i style="left:53px;background:linear-gradient(#3839c5 0px,#3f43d3 10px,#474fde 20px,#4f5de6 30px,#566cec 40px,#5e82f2 50px,#6798f6 60px,#71aef7 70px,#78c0f8 80px,#7dc7f8 90px,#80cbf8 100px,#81cdf8 110px,#80ccf8 120px,#7ec9f8 130px,#7ac3f8 140px,#73b4f8 150px,#6a9ff7 160px,#6188f4 170px,#5872ee 180px,#5161e8 190px,#4a53e1 200px,#4147d7 210px,#3b3ecc 218px)"></i><i style="left:54px;background:linear-gradient(#3839c5 0px,#3f44d3 10px,#4750df 20px,#505ee7 30px,#576eed 40px,#6085f3 50px,#699cf7 60px,#73b4f7 70px,#7ac3f8 80px,#7fcaf8 90px,#82cef8 100px,#83d0f8 110px,#82cff8 120px,#80ccf8 130px,#7cc5f8 140px,#75baf8 150px,#6ca4f7 160px,#628bf5 170px,#5a75ef 180px,#5263e9 190px,#4a53e2 200px,#4147d7 210px,#3b3ecc 218px)"></i><i style="left:55px;background:linear-gradient(#3839c5 0px,#3f44d3 10px,#4750df 20px,#505ee7 30px,#576eed 40px,#6085f3 50px,#699df7 60px,#73b4f7 70px,#7ac3f8 80px,#7fcaf8 90px,#82cff8 100px,#83d0f8 110px,#82cff8 120px,#80ccf8 130px,#7cc6f8 140px,#75baf8 150px,#6ca4f7 160px,#628cf5 170px,#5a75ef 180px,#5263e9 190px,#4a53e2 200px,#4147d7 210px,#3c3ecc 218px)"></i><i style="left:56px;background:linear-gradient(#3434b5 0px,#393ec2 10px,#4149cc 20px,#4955d4 30px,#4f63d9 40px,#5778df 50px,#5f8ce2 60px,#68a1e3 70px,#6fb1e4 80px,#73b7e4 90px,#76bbe4 100px,#77bde4 110px,#76bce4 120px,#74b9e4 130px,#70b3e4 140px,#6aa7e3 150px,#6293e3 160px,#597ee0 170px,#516adb 180px,#4b5ad5 190px,#444ccf 200px,#3b41c5 210px,#3739bb 218px)"></i><i style="left:57px;background:linear-gradient(#292990 0px,#2e319a 10px,#343aa2 20px,#3943a8 30px,#3e4eac 40px,#455eb0 50px,#4b6db4 60px,#517db4 70px,#578ab5 80px,#5a90b5 90px,#5c93b5 100px,#5d94b5 110px,#5d94b5 120px,#5b91b5 130px,#588db5 140px,#5381b5 150px,#4d72b4 160px,#4662b2 170px,#4052ad 180px,#3b46a9 190px,#353ca4 200px,#2f339d 210px,#2b2d95 218px)"></i><i style="left:58px;background:linear-gradient(#3737bf 0px,#3d41cd 10px,#444cd7 20px,#4c59e0 30px,#5367e5 40px,#5a7bea 50px,#628eef 60px,#6ba3f0 70px,#72b4f1 80px,#77bef1 90px,#7ac2f1 100px,#7bc4f1 110px,#7ac3f1 120px,#78bff1 130px,#74b9f1 140px,#6da9f1 150px,#6595f0 160px,#5d80ec 170px,#556ce6 180px,#4e5de1 190px,#4750da 200px,#3e44d0 210px,#3a3cc6 218px)"></i><i style="left:59px;background:linear-gradient(#3838c5 0px,#3d41cf 10px,#434ad9 20px,#4953e1 30px,#4f5de7 40px,#5468ea 50px,#5975ee 60px,#5e82f2 70px,#638df5 80px,#6696f6 90px,#699df7 100px,#6a9ff7 110px,#6a9ef7 120px,#6798f6 130px,#648ff6 140px,#6085f3 150px,#5b79f0 160px,#556bec 170px,#5160e8 180px,#4b55e3 190px,#454cdc 200px,#3f43d3 210px,#3b3dca 218px)"></i><i style="left:60px;background:linear-gradient(#3838c4 0px,#3c3ecc 10px,#3f44d4 20px,#444bda 30px,#4851e0 40px,#4c57e4 50px,#505ee7 60px,#5264e9 70px,#5469eb 80px,#566cec 90px,#5870ed 100px,#5871ed 110px,#5871ed 120px,#576eec 130px,#556aeb 140px,#5365ea 150px,#5060e8 160px,#4d59e5 170px,#4a53e1 180px,#454ddc 190px,#4046d6 200px,#3d40cf 210px,#3a3bc8 218px)"></i><i style="left:61px;background:linear-gradient(#3838c4 0px,#3c3fcd 10px,#3f45d5 20px,#444cdb 30px,#4952e1 40px,#4d59e5 50px,#5160e8 60px,#5366ea 70px,#566bec 80px,#5870ed 90px,#5974ee 100px,#5a76ef 110px,#5975ee 120px,#5872ee 130px,#566cec 140px,#5468ea 150px,#5162e8 160px,#4e5be6 170px,#4a54e2 180px,#464edd 190px,#4147d7 200px,#3d41cf 210px,#3a3cc9 218px)"></i><i style="left:62px;background:linear-gradient(#3434b5 0px,#383bbe 10px,#3c42c6 20px,#424acd 30px,#4752d3 40px,#4b5bd6 50px,#4f63d9 60px,#536fdc 70px,#5778df 80px,#5a7ee0 90px,#5b83e2 100px,#5c84e2 110px,#5c83e2 120px,#5a80e1 130px,#587adf 140px,#5572dd 150px,#5067da 160px,#4d5ed7 170px,#4955d4 180px,#444ccf 190px,#3e45c8 200px,#393dc1 210px,#3637b9 218px)"></i><i style="left:63px;background:linear-gradient(#292990 0px,#2d3199 10px,#3339a1 20px,#3942a8 30px,#3e4dac 40px,#445bb0 50px,#4969b4 60px,#5079b4 70px,#5586b5 80px,#598eb5 90px,#5b91b5 100px,#5b92b5 110px,#5b91b5 120px,#598fb5 130px,#5689b5 140px,#517db4 150px,#4b6eb4 160px,#4560b1 170px,#3f50ad 180px,#3b45a9 190px,#353ca4 200px,#2f339c 210px,#2b2d94 218px)"></i><i style="left:64px;background:linear-gradient(#3737c0 0px,#3e44d0 10px,#4952dc 20px,#5164e4 30px,#5c7eeb 40px,#689cf0 50px,#75bbf1 60px,#7ec8f1 70px,#85d3f1 80px,#89d8ef 90px,#8cdbee 100px,#8ddded 110px,#8ddcee 120px,#8ad9ef 130px,#86d4f0 140px,#80ccf1 150px,#78bff1 160px,#6ca6f0 170px,#5f86ee 180px,#546ae6 190px,#4b57df 200px,#4148d4 210px,#3a3dc8 218px)"></i><i style="left:65px;background:linear-gradient(#3839c5 0px,#4147d7 10px,#4d58e5 20px,#576fed 30px,#648ff6 40px,#74b7f8 50px,#81cdf8 60px,#8bdbf7 70px,#92e3f4 80px,#97e9f1 90px,#9becee 100px,#9deeed 110px,#9cedee 120px,#99eaf0 130px,#94e5f3 140px,#8ddef6 150px,#84d2f8 160px,#79c1f8 170px,#699cf6 180px,#5b79f0 190px,#505fe7 200px,#454cdc 210px,#3d40ce 218px)"></i><i style="left:66px;background:linear-gradient(#3839c5 0px,#4249d9 10px,#4f5de6 20px,#5b7af0 30px,#6ca2f7 40px,#7dc7f8 50px,#8adaf7 60px,#93e5f3 70px,#9cedee 80px,#a3f3e8 90px,#a7f6e5 100px,#a8f6e2 110px,#a8f6e4 120px,#a4f4e7 130px,#9eefec 140px,#96e8f2 150px,#8dddf6 160px,#81cdf8 170px,#71b0f7 180px,#6085f3 190px,#5264e9 200px,#464fdd 210px,#3d41cf 218px)"></i><i style="left:67px;background:linear-gradient(#3839c5 0px,#4249d9 10px,#4f5de7 20px,#5c7bf0 30px,#6ca4f7 40px,#7ec8f8 50px,#8adbf7 60px,#94e6f3 70px,#9deeed 80px,#a4f4e8 90px,#a8f6e3 100px,#a9f6e1 110px,#a9f6e2 120px,#a5f6e6 130px,#9ff0eb 140px,#97e9f1 150px,#8ddef6 160px,#82cff8 170px,#72b2f7 180px,#6086f3 190px,#5365e9 200px,#474fde 210px,#3d41cf 218px)"></i><i style="left:68px;background:linear-gradient(#3839c5 0px,#4349d9 10px,#505ee7 20px,#5c7cf0 30px,#6da6f7 40px,#7ecaf8 50px,#8bdcf7 60px,#95e7f2 70px,#9eefec 80px,#a5f5e7 90px,#a9f6e1 100px,#aaf6df 110px,#aaf6e0 120px,#a7f6e5 130px,#a0f1ea 140px,#98eaf1 150px,#8edff5 160px,#83d0f8 170px,#73b4f8 180px,#6187f4 190px,#5365e9 200px,#474fde 210px,#3d41d0 218px)"></i><i style="left:69px;background:linear-gradient(#3839c5 0px,#4249d9 10px,#4f5de6 20px,#5b79f0 30px,#6ba1f7 40px,#7cc6f8 50px,#89d9f8 60px,#93e4f3 70px,#9bedee 80px,#a2f3e9 90px,#a6f6e6 100px,#a8f6e3 110px,#a7f6e5 120px,#a4f4e8 130px,#9eefec 140px,#95e7f2 150px,#8cddf6 160px,#80cdf8 170px,#71aff7 180px,#5f84f3 190px,#5264e9 200px,#464edd 210px,#3d41cf 218px)"></i><i style="left:70px;background:linear-gradient(#3839c5 0px,#4148d8 10px,#4e5ae5 20px,#5872ee 30px,#6695f6 40px,#77bff8 50px,#84d2f8 60px,#8ddef6 70px,#95e6f3 80px,#9becee 90px,#9ff0eb 100px,#a0f1ea 110px,#a0f0eb 120px,#9ceded 130px,#97e9f2 140px,#90e1f5 150px,#87d7f8 160px,#7bc5f8 170px,#6ca2f7 180px,#5c7df1 190px,#5160e8 200px,#454ddc 210px,#3d40cf 218px)"></i><i style="left:71px;background:linear-gradient(#3131aa 0px,#373db9 10px,#414ac5 20px,#495bcb 30px,#5374d2 40px,#5f91d6 50px,#6aaad7 60px,#72b6d7 70px,#79bed5 80px,#7dc3d3 90px,#7fc6d2 100px,#81c7d2 110px,#80c7d2 120px,#7ec4d3 130px,#7ac0d5 140px,#75b9d7 150px,#6daed7 160px,#639ad6 170px,#567bd4 180px,#4c61cd 190px,#444fc7 200px,#3a41bd 210px,#3437b2 218px)"></i><i style="left:72px;background:linear-gradient(#2b2b95 0px,#3034a0 10px,#373da9 20px,#3d49af 30px,#4356b4 40px,#4a68b9 50px,#527cbb 60px,#5a8fbc 70px,#5f97bc 80px,#629dbc 90px,#65a0bc 100px,#66a2bc 110px,#65a1bc 120px,#639ebc 130px,#6099bc 140px,#5b92bc 150px,#5482bb 160px,#4c6eba 170px,#455cb5 180px,#3f4cb1 190px,#3940ac 200px,#3136a3 210px,#2d2f9b 218px)"></i><i style="left:73px;background:linear-gradient(#3838c5 0px,#3e42d1 10px,#454cdc 20px,#4d57e4 30px,#5365e9 40px,#5974ee 50px,#6086f3 60px,#6796f6 70px,#6da7f7 80px,#72b3f7 90px,#76baf8 100px,#77bdf8 110px,#76bcf8 120px,#74b5f8 130px,#6fabf7 140px,#699cf6 150px,#628af4 160px,#5b79f0 170px,#5468eb 180px,#4e5be6 190px,#4750de 200px,#3f45d5 210px,#3b3dcb 218px)"></i><i style="left:74px;background:linear-gradient(#3838c5 0px,#3d41cf 10px,#4249d8 20px,#4951e0 30px,#4e5be6 40px,#5365ea 50px,#5770ed 60px,#5c7cf1 70px,#6087f3 80px,#638ef6 90px,#6694f6 100px,#6797f6 110px,#6695f6 120px,#6490f6 130px,#6189f4 140px,#5e80f1 150px,#5974ee 160px,#5468eb 170px,#505ee7 180px,#4a54e2 190px,#444bdb 200px,#3e43d2 210px,#3b3cca 218px)"></i><i style="left:75px;background:linear-gradient(#3838c4 0px,#3c3fcd 10px,#4045d5 20px,#454cdb 30px,#4a53e1 40px,#4e5ae5 50px,#5161e8 60px,#5467ea 70px,#566cec 80px,#5973ee 90px,#5a76ef 100px,#5b78ef 110px,#5a77ef 120px,#5974ee 130px,#576fed 140px,#5569eb 150px,#5263e9 160px,#4f5ce6 170px,#4b55e3 180px,#464edd 190px,#4147d7 200px,#3d41cf 210px,#3a3cc9 218px)"></i><i style="left:76px;background:linear-gradient(#3838c4 0px,#3d40ce 10px,#4148d7 20px,#4750df 30px,#4d58e5 40px,#5162e8 50px,#556aeb 60px,#5975ee 70px,#5d7ff1 80px,#6086f3 90px,#628af4 100px,#628cf5 110px,#628bf5 120px,#6187f4 130px,#5e81f2 140px,#5b78ef 150px,#566dec 160px,#5364e9 170px,#4e5be6 180px,#4952e1 190px,#434ada 200px,#3e42d1 210px,#3a3cc9 218px)"></i><i style="left:77px;background:linear-gradient(#3838c5 0px,#3d41d0 10px,#434ada 20px,#4a53e2 30px,#505fe7 40px,#556aeb 50px,#5b78ef 60px,#6086f3 70px,#6491f6 80px,#699cf6 90px,#6ca3f7 100px,#6da5f7 110px,#6ca4f7 120px,#6a9ef7 130px,#6695f6 140px,#6189f4 150px,#5c7cf1 160px,#566dec 170px,#5162e8 180px,#4c56e4 190px,#454ddc 200px,#3f44d3 210px,#3b3dca 218px)"></i><i style="left:78px;background:linear-gradient(#3839c5 0px,#3e43d2 10px,#464edd 20px,#4e5be6 30px,#5569eb 40px,#5c7cf1 50px,#6490f6 60px,#6da5f7 70px,#74b7f8 80px,#79c2f8 90px,#7cc6f8 100px,#7dc8f8 110px,#7cc7f8 120px,#7ac3f8 130px,#76bbf8 140px,#6fabf7 150px,#6796f6 160px,#5f82f2 170px,#576eec 180px,#505fe7 190px,#4952e0 200px,#4046d6 210px,#3b3ecb 218px)"></i><i style="left:79px;background:linear-gradient(#3839c5 0px,#3f45d4 10px,#4952e0 20px,#5162e8 30px,#5a76ef 40px,#648ff6 50px,#6facf7 60px,#79c2f8 70px,#80ccf8 80px,#85d4f8 90px,#88d8f8 100px,#89daf7 110px,#89d9f8 120px,#86d5f8 130px,#82cff8 140px,#7cc6f8 150px,#73b4f7 160px,#6798f6 170px,#5d7ef1 180px,#5467ea 190px,#4c56e4 200px,#4248d8 210px,#3c3fcc 218px)"></i><i style="left:80px;background:linear-gradient(#292990 0px,#2f339c 10px,#373ea5 20px,#3d4bab 30px,#455eb1 40px,#4e75b4 50px,#588cb5 60px,#5e96b5 70px,#649eb5 80px,#67a2b3 90px,#69a4b2 100px,#6aa5b2 110px,#6aa5b2 120px,#68a3b3 130px,#659fb4 140px,#6099b5 150px,#5a8fb5 160px,#517cb4 170px,#4764b2 180px,#3f4fac 190px,#3941a7 200px,#31369f 210px,#2c2e96 218px)"></i><i style="left:81px;background:linear-gradient(#3233b0 0px,#3a3fc0 10px,#444ecc 20px,#4d60d3 30px,#587dda 40px,#669fdd 50px,#71b4dd 60px,#7ac1dd 70px,#80c8da 80px,#85ced8 90px,#88d1d6 100px,#89d2d5 110px,#88d1d6 120px,#86cfd8 130px,#82cada 140px,#7cc4dc 150px,#74b9dd 160px,#6aa8dd 170px,#5c87dc 180px,#5069d5 190px,#4753ce 200px,#3d44c3 210px,#3639b8 218px)"></i><i style="left:82px;background:linear-gradient(#3839c5 0px,#4046d6 10px,#4c56e4 20px,#556aeb 30px,#6187f4 40px,#6faaf7 50px,#7cc6f8 60px,#85d4f8 70px,#8cddf6 80px,#91e3f4 90px,#94e6f3 100px,#96e8f2 110px,#95e7f2 120px,#92e4f4 130px,#8edff5 140px,#88d8f8 150px,#7fcaf8 160px,#73b4f8 170px,#6490f6 180px,#5872ee 190px,#4f5ce6 200px,#444bda 210px,#3c40ce 218px)"></i><i style="left:83px;background:linear-gradient(#3839c5 0px,#3f44d4 10px,#4851df 20px,#5060e8 30px,#5872ee 40px,#628af4 50px,#6ca4f7 60px,#76bcf8 70px,#7dc8f8 80px,#82cff8 90px,#85d4f8 100px,#86d5f8 110px,#86d4f8 120px,#83d1f8 130px,#7fcaf8 140px,#79c1f8 150px,#70acf7 160px,#6491f6 170px,#5b7af0 180px,#5365e9 190px,#4b55e3 200px,#4148d8 210px,#3c3ecc 218px)"></i><i style="left:84px;background:linear-gradient(#3838c5 0px,#3d41d0 10px,#434ada 20px,#4a54e2 30px,#505fe7 40px,#556aeb 50px,#5b79f0 60px,#6087f3 70px,#6592f6 80px,#699df7 90px,#6ca4f7 100px,#6da7f7 110px,#6da5f7 120px,#6ba0f7 130px,#6696f6 140px,#628af4 150px,#5d7df1 160px,#576eed 170px,#5262e9 180px,#4c57e4 190px,#454ddc 200px,#3f44d3 210px,#3b3dca 218px)"></i><i style="left:85px;background:linear-gradient(#3838c4 0px,#3c3fcd 10px,#4045d5 20px,#454cdb 30px,#4a53e1 40px,#4e5ae5 50px,#5161e8 60px,#5467ea 70px,#566dec 80px,#5973ee 90px,#5a77ef 100px,#5b78ef 110px,#5a78ef 120px,#5974ee 130px,#576fed 140px,#5569eb 150px,#5263e9 160px,#4f5ce6 170px,#4b55e3 180px,#464edd 190px,#4147d7 200px,#3d41cf 210px,#3a3cc9 218px)"></i><i style="left:86px;background:linear-gradient(#2b2b95 0px,#2e319d 10px,#3338a5 20px,#383fab 30px,#3c47af 40px,#4050b2 50px,#445ab5 60px,#4865b8 70px,#4c6dba 80px,#4f75bb 90px,#517abb 100px,#527cbb 110px,#527bbb 120px,#5077bb 130px,#4d70ba 140px,#4a67b9 150px,#465eb6 160px,#4152b3 170px,#3e4ab0 180px,#3a41ad 190px,#343aa7 200px,#2f33a0 210px,#2c2e99 218px)"></i><i style="left:87px;background:linear-gradient(#3131aa 0px,#393ebb 10px,#434ec7 20px,#4d64ce 30px,#5983d5 40px,#68a6d7 50px,#73b6d7 60px,#7bc1d4 70px,#81c8d1 80px,#87cdcd 90px,#8ad0cb 100px,#8cd1ca 110px,#8bd1ca 120px,#88cecc 130px,#83cad0 140px,#7dc3d3 150px,#76bbd7 160px,#6bacd7 170px,#5e8ed6 180px,#506dd0 190px,#4654c9 200px,#3c43bf 210px,#3538b3 218px)"></i><i style="left:88px;background:linear-gradient(#3939c5 0px,#444bdb 10px,#5263e9 20px,#6188f4 30px,#76bbf8 40px,#87d6f8 50px,#93e5f3 60px,#a0f0eb 70px,#a9f6e1 80px,#b0f6d7 90px,#b4f6d0 100px,#b6f5cb 110px,#b5f6ce 120px,#b1f6d4 130px,#abf6dd 140px,#a3f3e8 150px,#97e9f1 160px,#8bdbf7 170px,#7bc5f8 180px,#6695f6 190px,#556bec 200px,#4951e0 210px,#3e42d1 218px)"></i><i style="left:89px;background:linear-gradient(#3939c5 0px,#454ddc 10px,#5366ea 20px,#6490f6 30px,#7bc4f8 40px,#8cdcf6 50px,#9aebef 60px,#a7f6e5 70px,#b0f6d6 80px,#b8f5c6 90px,#bef3b7 100px,#c1f2b1 110px,#c0f3b4 120px,#bbf4c0 130px,#b2f6d2 140px,#aaf6e0 150px,#9eefec 160px,#90e1f5 170px,#80ccf8 180px,#6ba1f7 190px,#5870ed 200px,#4a53e1 210px,#3e42d1 218px)"></i><i style="left:90px;background:linear-gradient(#3939c5 0px,#464edd 10px,#556bec 20px,#6a9ef7 30px,#81cef8 40px,#92e4f4 50px,#a3f3e8 60px,#b0f6d7 70px,#bcf4bd 80px,#c6f0a4 90px,#cef09c 100px,#d1f09a 110px,#d0f09b 120px,#c9f09f 130px,#bff3b5 140px,#b3f6d2 150px,#a7f6e4 160px,#97e9f1 170px,#87d7f8 180px,#72b1f7 190px,#5b79f0 200px,#4b55e3 210px,#3e43d2 218px)"></i><i style="left:91px;background:linear-gradient(#3939c5 0px,#4750df 10px,#5870ed 20px,#6fabf7 30px,#87d6f8 40px,#99eaf0 50px,#aaf6e0 60px,#b8f5c5 70px,#c8f0a1 80px,#d5f097 90px,#ddf092 100px,#e0f08f 110px,#dff091 120px,#d8f095 130px,#ccf09d 140px,#bdf3b9 150px,#aef6d9 160px,#9eefec 170px,#8cddf6 180px,#78bff8 190px,#5e80f2 200px,#4d58e5 210px,#3f44d3 218px)"></i><i style="left:92px;background:linear-gradient(#3939c5 0px,#4951e0 10px,#5a77ef 20px,#75b8f8 30px,#8cdcf6 40px,#a0f0eb 50px,#b1f6d5 60px,#c3f1ab 70px,#d6f097 80px,#e2ef8d 90px,#e6ee87 100px,#e8ed85 110px,#e7ee86 120px,#e4ef8b 130px,#daf094 140px,#c9f0a0 150px,#b6f5cc 160px,#a6f6e6 170px,#92e3f4 180px,#7dc7f8 190px,#6188f4 200px,#4e5ae6 210px,#3f45d4 218px)"></i><i style="left:93px;background:linear-gradient(#3939c5 0px,#4851df 10px,#5974ee 20px,#72b2f7 30px,#8adaf7 40px,#9deeed 50px,#aef6da 60px,#bef3b7 70px,#cff09b 80px,#ddf092 90px,#e3ef8c 100px,#e5ee8a 110px,#e4ef8b 120px,#e0f090 130px,#d4f098 140px,#c3f1ab 150px,#b2f6d3 160px,#a2f3e9 170px,#8fe0f5 180px,#7ac4f8 190px,#6085f3 200px,#4d59e5 210px,#3f44d4 218px)"></i><i style="left:94px;background:linear-gradient(#3939c5 0px,#4750de 10px,#576fed 20px,#6ea9f7 30px,#86d4f8 40px,#97e9f1 50px,#a9f6e2 60px,#b6f5cb 70px,#c5f1a7 80px,#d2f099 90px,#daf094 100px,#ddf092 110px,#dcf093 120px,#d5f097 130px,#c9f09f 140px,#bbf4bf 150px,#adf6dc 160px,#9deeed 170px,#8bdcf7 180px,#77bcf8 190px,#5d7ff1 200px,#4c57e4 210px,#3f44d3 218px)"></i><i style="left:95px;background:linear-gradient(#2b2b95 0px,#3338a5 10px,#3d48af 20px,#4761b7 30px,#5583bb 40px,#629cbc 50px,#6ba9ba 60px,#73b1b6 70px,#7bb8b0 80px,#80baab 90px,#83baa6 100px,#84baa4 110px,#83baa5 120px,#81baa9 130px,#7db9af 140px,#76b3b4 150px,#6eabb9 160px,#65a1bc 170px,#598ebc 180px,#4a6ab9 190px,#3f4eb1 200px,#363ca8 210px,#2e319d 218px)"></i><i style="left:96px;background:linear-gradient(#3131aa 0px,#373cb8 10px,#3f47c2 20px,#4756c9 30px,#4f69cf 40px,#587fd5 50px,#6299d6 60px,#6babd7 70px,#71b4d7 80px,#75bad7 90px,#78bdd6 100px,#79bed5 110px,#78bed5 120px,#76bbd6 130px,#72b6d7 140px,#6daed7 150px,#65a0d6 160px,#5b87d5 170px,#5170d1 180px,#495acb 190px,#424bc5 200px,#393fbb 210px,#3436b1 218px)"></i><i style="left:97px;background:linear-gradient(#3838c5 0px,#3e42d0 10px,#444bdb 20px,#4b55e3 30px,#5162e8 40px,#576eed 50px,#5e7ff1 60px,#638ef5 70px,#699df7 80px,#6ea8f7 90px,#71aff7 100px,#72b2f7 110px,#72b1f7 120px,#6fabf7 130px,#6ba1f7 140px,#6592f6 150px,#5f84f3 160px,#5974ee 170px,#5365ea 180px,#4d59e5 190px,#464edd 200px,#3f44d4 210px,#3b3dcb 218px)"></i><i style="left:98px;background:linear-gradient(#3838c4 0px,#3c3fcd 10px,#4046d6 20px,#464ddc 30px,#4b54e2 40px,#4f5ce6 50px,#5264e9 60px,#556bec 70px,#5973ee 80px,#5b79f0 90px,#5d7df1 100px,#5d7ff1 110px,#5d7ef1 120px,#5c7af0 130px,#5975ee 140px,#566dec 150px,#5366ea 160px,#505fe7 170px,#4c56e4 180px,#474fde 190px,#4248d8 200px,#3d41d0 210px,#3a3cc9 218px)"></i><i style="left:99px;background:linear-gradient(#3838c4 0px,#3c3ecc 10px,#3f44d4 20px,#444bda 30px,#4851e0 40px,#4c57e4 50px,#505ee7 60px,#5264e9 70px,#5469eb 80px,#566cec 90px,#5870ed 100px,#5871ed 110px,#5871ed 120px,#576eec 130px,#556aeb 140px,#5365ea 150px,#5060e8 160px,#4d59e5 170px,#4a53e1 180px,#454ddc 190px,#4046d6 200px,#3d40cf 210px,#3a3bc8 218px)"></i><i style="left:100px;background:linear-gradient(#3839c5 0px,#3e43d2 10px,#464edd 20px,#4e5be6 30px,#556aeb 40px,#5d7ef1 50px,#6591f6 60px,#6ea7f7 70px,#75b9f8 80px,#7ac3f8 90px,#7dc7f8 100px,#7ec9f8 110px,#7dc8f8 120px,#7bc5f8 130px,#77bdf8 140px,#70adf7 150px,#6898f6 160px,#5f84f3 170px,#576fed 180px,#505fe7 190px,#4952e0 200px,#4046d6 210px,#3b3ecb 218px)"></i><i style="left:101px;background:linear-gradient(#3839c5 0px,#4148d7 10px,#4d59e5 20px,#5870ed 30px,#6592f6 40px,#76bbf8 50px,#82d0f8 60px,#8cddf6 70px,#93e5f3 80px,#99ebf0 90px,#9deeed 100px,#9ff0ec 110px,#9eefec 120px,#9becef 130px,#95e7f2 140px,#8edff5 150px,#86d5f8 160px,#7ac3f8 170px,#6a9ff7 180px,#5c7bf0 190px,#5060e7 200px,#454ddc 210px,#3d40ce 218px)"></i><i style="left:102px;background:linear-gradient(#3939c5 0px,#454ddc 10px,#5366ea 20px,#6490f6 30px,#7bc4f8 40px,#8cdcf6 50px,#9aebef 60px,#a7f6e5 70px,#b0f6d6 80px,#b8f5c6 90px,#bef3b7 100px,#c1f2b1 110px,#c0f3b4 120px,#bbf4c0 130px,#b2f6d2 140px,#aaf6e0 150px,#9eefec 160px,#90e1f5 170px,#80ccf8 180px,#6ba1f7 190px,#5870ed 200px,#4a53e1 210px,#3e42d1 218px)"></i><i style="left:103px;background:linear-gradient(#3737c0 0px,#434bd6 10px,#5164e4 20px,#628eef 30px,#78c0f1 40px,#89d7ef 50px,#97e6e8 60px,#a4efdd 70px,#adefce 80px,#b5eebc 90px,#bbecad 100px,#beeba7 110px,#bcebaa 120px,#b7edb6 130px,#afefcb 140px,#a7efd8 150px,#9beae5 160px,#8ddcee 170px,#7ec8f1 180px,#699ff0 190px,#566ee7 200px,#4851dc 210px,#3c41cc 218px)"></i><i style="left:104px;background:linear-gradient(#292a90 0px,#3338a1 10px,#3d4bab 20px,#4a6cb4 30px,#5b91b5 40px,#67a2b3 50px,#72adad 60px,#7cb4a4 70px,#83b499 80px,#89b289 90px,#8eb07e 100px,#90b07a 110px,#8fb07c 120px,#8bb185 130px,#85b395 140px,#7eb4a1 150px,#75b0ab 160px,#6ba6b2 170px,#5f97b5 180px,#5079b4 190px,#4154ae 200px,#363da5 210px,#2d3199 218px)"></i><i style="left:105px;background:linear-gradient(#3434b5 0px,#4047cb 10px,#4d60d8 20px,#5e8ae2 30px,#73b8e4 40px,#83cde1 50px,#91dbd9 60px,#9de2cd 70px,#a6e2bf 80px,#afdfa8 90px,#b5dd9a 100px,#b7dd95 110px,#b6dd98 120px,#b1dfa3 130px,#a9e1b7 140px,#a0e2c8 150px,#95dfd6 160px,#87d2e0 170px,#79c0e4 180px,#659be3 190px,#526bdb 200px,#444dd0 210px,#393dc1 218px)"></i><i style="left:106px;background:linear-gradient(#3939c5 0px,#444bdb 10px,#5263e9 20px,#6188f4 30px,#76bcf8 40px,#87d7f8 50px,#94e6f3 60px,#a0f1ea 70px,#aaf6e0 80px,#b0f6d6 90px,#b5f6cf 100px,#b7f5c9 110px,#b6f6cc 120px,#b2f6d3 130px,#acf6dd 140px,#a4f4e8 150px,#98e9f1 160px,#8bdcf7 170px,#7cc6f8 180px,#6796f6 190px,#566bec 200px,#4951e0 210px,#3e42d1 218px)"></i><i style="left:107px;background:linear-gradient(#3839c5 0px,#4147d7 10px,#4d58e5 20px,#576eed 30px,#648ff6 40px,#74b7f8 50px,#81cdf8 60px,#8adbf7 70px,#91e3f4 80px,#97e9f1 90px,#9becee 100px,#9ceded 110px,#9bedee 120px,#98eaf0 130px,#93e5f3 140px,#8dddf6 150px,#84d2f8 160px,#79c1f8 170px,#699bf6 180px,#5b78ef 190px,#505fe7 200px,#454cdb 210px,#3d40ce 218px)"></i><i style="left:108px;background:linear-gradient(#3839c5 0px,#3e43d2 10px,#464ddc 20px,#4d59e5 30px,#5467ea 40px,#5b78ef 50px,#628bf5 60px,#6a9ef7 70px,#71aff7 80px,#76bcf8 90px,#79c2f8 100px,#7ac3f8 110px,#7ac3f8 120px,#77bff8 130px,#73b3f7 140px,#6ca4f7 150px,#6490f6 160px,#5d7ef1 170px,#556bec 180px,#4f5de7 190px,#4851df 200px,#4046d5 210px,#3b3ecb 218px)"></i><i style="left:109px;background:linear-gradient(#3838c4 0px,#3b3ecb 10px,#3e43d2 20px,#4248d8 30px,#464edd 40px,#4a53e1 50px,#4d58e5 60px,#4f5de7 70px,#5161e8 80px,#5364e9 90px,#5366ea 100px,#5467ea 110px,#5467ea 120px,#5365e9 130px,#5262e8 140px,#505ee7 150px,#4e5ae5 160px,#4b54e3 170px,#474fde 180px,#434ada 190px,#3f45d4 200px,#3c3fcd 210px,#3a3bc8 218px)"></i><i style="left:110px;background:linear-gradient(#2b2b95 0px,#3034a1 10px,#373eaa 20px,#3e4bb0 30px,#455bb5 40px,#4d6fba 50px,#5686bb 60px,#5d95bc 70px,#639dbc 80px,#66a3bc 90px,#69a5bb 100px,#69a6bb 110px,#69a6bb 120px,#67a4bc 130px,#649fbc 140px,#5f98bc 150px,#598cbc 160px,#5076bb 170px,#4761b7 180px,#404fb2 190px,#3a41ad 200px,#3237a4 210px,#2d2f9b 218px)"></i><i style="left:111px;background:linear-gradient(#3131ab 0px,#3c42be 10px,#4859ca 20px,#577ed5 30px,#6babd7 40px,#79bfd5 50px,#86ccce 60px,#91d5c5 70px,#99d5b8 80px,#a1d3a8 90px,#a6d29b 100px,#a8d196 110px,#a7d199 120px,#a3d3a3 130px,#9bd5b5 140px,#94d5c0 150px,#89cfcc 160px,#7dc3d3 170px,#70b2d7 180px,#5d8dd5 190px,#4c62cd 200px,#4048c3 210px,#3639b5 218px)"></i><i style="left:112px;background:linear-gradient(#3939c6 0px,#4952e1 10px,#5c7cf0 20px,#79c1f8 30px,#8fe0f5 40px,#a5f5e7 50px,#b6f5ca 60px,#ccf09e 70px,#e0f090 80px,#e7ee86 90px,#ecec80 100px,#ede77b 110px,#ecea7e 120px,#e9ed84 130px,#e2ef8d 140px,#d2f099 150px,#bdf3ba 160px,#aaf6e0 170px,#95e7f2 180px,#80ccf8 190px,#638df5 200px,#4f5ce6 210px,#3f45d5 218px)"></i><i style="left:113px;background:linear-gradient(#3939c6 0px,#4d57e4 10px,#648ff6 20px,#85d4f8 30px,#9ff0eb 40px,#b7f5c9 50px,#d5f097 60px,#e9ed84 70px,#efd36a 80px,#f0b459 90px,#f09f52 100px,#f0964f 110px,#f09b51 120px,#f0ac57 130px,#f0ca62 140px,#ecea7e 150px,#def091 160px,#c0f2b4 170px,#a7f6e5 180px,#8ddef6 190px,#6faaf7 200px,#5264e9 210px,#4147d7 218px)"></i><i style="left:114px;background:linear-gradient(#393ac6 0px,#4f5de6 10px,#6da6f7 20px,#8fe0f5 30px,#acf6dc 40px,#cdf09c 50px,#e9ed83 60px,#f0c25e 70px,#ee904d 80px,#e87040 90px,#e45d3c 100px,#e2553a 110px,#e3593b 120px,#e7693f 130px,#ec8548 140px,#f0b158 150px,#ede479 160px,#d9f095 170px,#b4f6d0 180px,#98e9f1 190px,#79c2f8 200px,#566bec 210px,#4349d9 218px)"></i><i style="left:115px;background:linear-gradient(#393ac6 0px,#5161e8 10px,#74b8f8 20px,#97e9f1 30px,#b7f5c8 40px,#e1f08f 50px,#efd067 60px,#ee8f4c 70px,#e5613d 80px,#de4536 90px,#da3b32 100px,#d73830 110px,#d93a31 120px,#dc4234 130px,#e2563a 140px,#eb8046 150px,#f0bc5c 160px,#e7ee86 170px,#c3f1ab 180px,#a1f2e9 190px,#80ccf8 200px,#5973ee 210px,#444bda 218px)"></i><i style="left:116px;background:linear-gradient(#393ac6 0px,#5365ea 10px,#7bc5f8 20px,#a0f1eb 30px,#c6f1a6 40px,#ebec81 50px,#f0a354 60px,#e5633d 70px,#db3f33 80px,#ce2f2b 90px,#c12424 100px,#bc2121 110px,#bf2323 120px,#c92b29 130px,#d93a31 140px,#e2543a 150px,#ee8d4c 160px,#eed96f 170px,#d5f098 180px,#aaf6df 190px,#87d6f8 200px,#5c7cf1 210px,#454ddc 218px)"></i><i style="left:117px;background:linear-gradient(#393ac6 0px,#5161e8 10px,#75b9f8 20px,#98eaf1 30px,#b9f5c5 40px,#e2ef8d 50px,#efcd64 60px,#ed8b4b 70px,#e45d3c 80px,#dd4335 90px,#d93931 100px,#d5352f 110px,#d73830 120px,#db4033 130px,#e2523a 140px,#ea7c45 150px,#f0b85b 160px,#e8ed85 170px,#c5f1a8 180px,#a2f3e9 190px,#81cdf8 200px,#5974ee 210px,#444bda 218px)"></i><i style="left:118px;background:linear-gradient(#393ac6 0px,#4f5de7 10px,#6ea9f7 20px,#90e2f4 30px,#aef6d9 40px,#d1f09a 50px,#ecec81 60px,#f0b95b 70px,#ed8749 80px,#e6673e 90px,#e2543a 100px,#e04c38 110px,#e15039 120px,#e5603d 130px,#ea7c45 140px,#f0a755 150px,#eede73 160px,#ddf092 170px,#b7f5c9 180px,#99ebef 190px,#7ac4f8 200px,#566cec 210px,#434ad9 218px)"></i><i style="left:119px;background:linear-gradient(#2b2b96 0px,#3940ac 10px,#4864b8 20px,#5f98bc 30px,#71afb7 40px,#82baa7 50px,#93b783 60px,#a6b66f 70px,#b0b464 80px,#b4a958 90px,#b59d4e 100px,#b6994a 110px,#b59b4c 120px,#b4a554 130px,#b2b362 140px,#abb56c 150px,#99b678 160px,#86baa0 170px,#77b4b3 180px,#65a1bc 190px,#4e74bb 200px,#3d48af 210px,#3035a2 218px)"></i><i style="left:120px;background:linear-gradient(#3131ab 0px,#3c43bf 10px,#495acb 20px,#5982d5 30px,#6dadd7 40px,#7bc1d4 50px,#88cecd 60px,#93d5c1 70px,#9cd5b4 80px,#a4d29f 90px,#aad192 100px,#acd08d 110px,#abd08f 120px,#a6d29a 130px,#9fd4ad 140px,#96d5bd 150px,#8cd2ca 160px,#7fc6d3 170px,#71b4d7 180px,#5f91d6 190px,#4d64ce 200px,#4049c4 210px,#363ab5 218px)"></i><i style="left:121px;background:linear-gradient(#3839c5 0px,#4148d8 10px,#4e5ae5 20px,#5872ee 30px,#6695f6 40px,#77bef8 50px,#84d1f8 60px,#8ddef6 70px,#95e6f3 80px,#9becef 90px,#9ff0ec 100px,#a0f1ea 110px,#9ff0eb 120px,#9ceded 130px,#96e8f2 140px,#90e1f5 150px,#87d6f8 160px,#7bc5f8 170px,#6ba2f7 180px,#5c7cf1 190px,#5160e8 200px,#454ddc 210px,#3d40cf 218px)"></i><i style="left:122px;background:linear-gradient(#3838c5 0px,#3d41d0 10px,#444bda 20px,#4b54e3 30px,#5160e8 40px,#566cec 50px,#5c7cf0 60px,#628af4 70px,#6797f6 80px,#6ca3f7 90px,#6faaf7 100px,#70adf7 110px,#6fabf7 120px,#6da5f7 130px,#699bf6 140px,#638ef5 150px,#5e81f2 160px,#5871ed 170px,#5264e9 180px,#4d58e5 190px,#464edd 200px,#3f44d4 210px,#3b3dca 218px)"></i><i style="left:123px;background:linear-gradient(#3838c4 0px,#3b3ecc 10px,#3f44d3 20px,#4349d9 30px,#474fde 40px,#4b55e3 50px,#4e5ae6 60px,#5060e8 70px,#5364e9 80px,#5468ea 90px,#556aeb 100px,#556aeb 110px,#556aeb 120px,#5468eb 130px,#5365ea 140px,#5161e8 150px,#4f5ce6 160px,#4c56e4 170px,#4851e0 180px,#444bdb 190px,#4045d5 200px,#3c40ce 210px,#3a3bc8 218px)"></i><i style="left:124px;background:linear-gradient(#3838c5 0px,#3d42d0 10px,#444bdb 20px,#4b55e3 30px,#5161e8 40px,#576eec 50px,#5d7ef1 60px,#638df5 70px,#699bf6 80px,#6da7f7 90px,#70aef7 100px,#72b1f7 110px,#71aff7 120px,#6ea9f7 130px,#6a9ff7 140px,#6491f6 150px,#5f83f2 160px,#5973ee 170px,#5365e9 180px,#4d59e5 190px,#464edd 200px,#3f44d4 210px,#3b3dca 218px)"></i><i style="left:125px;background:linear-gradient(#3839c5 0px,#4046d6 10px,#4b54e3 20px,#5467ea 30px,#5f82f2 40px,#6ba2f7 50px,#79c1f8 60px,#82cff8 70px,#89d9f8 80px,#8edff6 90px,#91e2f4 100px,#92e3f4 110px,#91e3f4 120px,#8fe0f5 130px,#8bdbf7 140px,#84d2f8 150px,#7cc5f8 160px,#70acf7 170px,#628af4 180px,#576dec 190px,#4e5ae5 200px,#434ada 210px,#3c3fcd 218px)"></i><i style="left:126px;background:linear-gradient(#2e2ea0 0px,#383eb2 10px,#4351bd 20px,#5071c7 30px,#629cc9 40px,#6fb0c9 50px,#7abcc4 60px,#84c6bc 70px,#8cc8b2 80px,#91c8aa 90px,#96c69f 100px,#98c69a 110px,#97c69d 120px,#93c7a6 130px,#8ec8af 140px,#87c8ba 150px,#7dbfc2 160px,#73b4c7 170px,#66a3c9 180px,#557ec8 190px,#4658c0 200px,#3b43b6 210px,#3236a9 218px)"></i><i style="left:127px;background:linear-gradient(#2e2ea0 0px,#3c44b7 10px,#4d6ac4 20px,#65a1c9 30px,#78bac5 40px,#8ac8b5 50px,#9bc592 60px,#afc379 70px,#bbc16e 80px,#c0ba63 90px,#c1ae58 100px,#c2a954 110px,#c2ac56 120px,#c0b65f 130px,#bdc06b 140px,#b5c375 150px,#a1c385 160px,#8fc8ae 170px,#7ec0c1 180px,#6babc9 190px,#537ac8 200px,#414dbb 210px,#3439ad 218px)"></i><i style="left:128px;background:linear-gradient(#393ac6 0px,#4f5ce6 10px,#6ba2f7 20px,#8edef6 30px,#aaf6df 40px,#c9f09f 50px,#e7ee87 60px,#f0cc63 70px,#f09a51 80px,#ea7a44 90px,#e6673e 100px,#e5603d 110px,#e5643d 120px,#e97341 130px,#ee8f4c 140px,#f0bc5c 150px,#ecec80 160px,#d5f098 170px,#b2f6d3 180px,#96e8f2 190px,#78c0f8 200px,#556aeb 210px,#4249d9 218px)"></i><i style="left:129px;background:linear-gradient(#393ac6 0px,#5162e8 10px,#76bcf8 20px,#99ebf0 30px,#bbf4bf 40px,#e4ef8b 50px,#f0c65f 60px,#ec8348 70px,#e2553a 80px,#db3f33 90px,#d5352e 100px,#d0312c 110px,#d3332d 120px,#da3c32 130px,#e04a38 140px,#e97441 150px,#f0af58 160px,#eaed82 170px,#c7f0a2 180px,#a4f4e7 190px,#82cff8 200px,#5a76ef 210px,#444bdb 218px)"></i><i style="left:130px;background:linear-gradient(#393ac6 0px,#5263e9 10px,#78c0f8 20px,#9cedee 30px,#bff3b6 40px,#e6ee87 50px,#f0ba5b 60px,#ea7843 70px,#e04a38 80px,#d93931 90px,#ce2f2b 100px,#ca2b29 110px,#cc2d2a 120px,#d5362f 130px,#dd4435 140px,#e6683e 150px,#f0a354 160px,#ece97d 170px,#ccf09d 180px,#a6f6e5 190px,#84d2f8 200px,#5b78ef 210px,#444cdb 218px)"></i><i style="left:131px;background:linear-gradient(#393ac6 0px,#505fe7 10px,#71b0f7 20px,#93e5f3 30px,#b2f6d3 40px,#d9f095 50px,#eddf75 60px,#f0a454 70px,#e97542 80px,#e2553a 90px,#de4636 100px,#dc4234 110px,#dd4435 120px,#e14e39 130px,#e76a3f 140px,#ef934e 150px,#efcf66 160px,#e3ef8c 170px,#bdf3bb 180px,#9deeed 190px,#7dc8f8 200px,#576fed 210px,#434ada 218px)"></i><i style="left:132px;background:linear-gradient(#3939c6 0px,#4e5ae6 10px,#699cf7 20px,#8bdcf7 30px,#a7f6e4 40px,#c4f1ab 50px,#e3ef8c 60px,#eed86e 70px,#f0ac57 80px,#ed8a4b 90px,#e97743 100px,#e86f40 110px,#e97441 120px,#ec8348 130px,#f0a053 140px,#f0cc64 150px,#e8ed85 160px,#cef09c 170px,#aff6d9 180px,#93e5f3 190px,#75b9f8 200px,#5468eb 210px,#4248d8 218px)"></i><i style="left:133px;background:linear-gradient(#3939c6 0px,#4b55e3 10px,#6086f3 20px,#7fcbf8 30px,#97e9f1 40px,#aef6da 50px,#c5f1a7 60px,#dff090 70px,#ebec82 80px,#eed86f 90px,#f0c961 100px,#f0c25e 110px,#f0c65f 120px,#efd36a 130px,#ece87d 140px,#e3ef8c 150px,#cdf09d 160px,#b3f6d1 170px,#9eefec 180px,#87d7f8 190px,#699cf6 200px,#5160e8 210px,#4046d6 218px)"></i><i style="left:134px;background:linear-gradient(#3738c0 0px,#454ed9 10px,#556de7 20px,#6ca6f0 30px,#83d0f1 40px,#94e4ea 50px,#a5efdb 60px,#b2eec2 70px,#c1ea9f 80px,#ceea94 90px,#d6ea8f 100px,#d9ea8d 110px,#d8ea8e 120px,#d1ea92 130px,#c5ea9a 140px,#b7edb7 150px,#a9efd4 160px,#99e8e6 170px,#88d6f0 180px,#74b9f1 190px,#5b7ceb 200px,#4b55de 210px,#3d42cd 218px)"></i><i style="left:135px;background:linear-gradient(#292990 0px,#30349d 10px,#3941a7 20px,#4052ad 30px,#4a6bb4 40px,#5689b5 50px,#5f98b5 60px,#66a1b4 70px,#6ca7b1 80px,#70acaf 90px,#73aead 100px,#74afac 110px,#74afac 120px,#71adae 130px,#6da9b1 140px,#68a3b3 150px,#629cb5 160px,#598fb5 170px,#4e75b4 180px,#435aaf 190px,#3b46a9 200px,#3238a1 210px,#2c2f97 218px)"></i><i style="left:136px;background:linear-gradient(#3434b5 0px,#383bbe 10px,#3c42c6 20px,#424acd 30px,#4752d3 40px,#4c5cd6 50px,#4f64d9 60px,#546fdc 70px,#5778df 80px,#5a7fe1 90px,#5c83e2 100px,#5c85e2 110px,#5c84e2 120px,#5a81e1 130px,#587bdf 140px,#5572dd 150px,#5167da 160px,#4d5ed7 170px,#4955d4 180px,#444ccf 190px,#3e45c9 200px,#393dc1 210px,#3637b9 218px)"></i><i style="left:137px;background:linear-gradient(#3838c4 0px,#3c40ce 10px,#4147d7 20px,#474fde 30px,#4c56e4 40px,#5060e7 50px,#5468ea 60px,#5870ed 70px,#5b7af0 80px,#5e81f2 90px,#6085f3 100px,#6087f3 110px,#6086f3 120px,#5f82f2 130px,#5c7cf0 140px,#5974ee 150px,#556aeb 160px,#5262e8 170px,#4d59e5 180px,#4851e0 190px,#4349d9 200px,#3e42d1 210px,#3a3cc9 218px)"></i><i style="left:138px;background:linear-gradient(#3839c5 0px,#3f45d4 10px,#4952e1 20px,#5262e9 30px,#5b78ef 40px,#6491f6 50px,#71aff7 60px,#7bc4f8 70px,#81cef8 80px,#86d6f8 90px,#89daf7 100px,#8bdbf7 110px,#8adaf7 120px,#88d7f8 130px,#83d1f8 140px,#7dc7f8 150px,#74b7f8 160px,#689af6 170px,#5e7ff1 180px,#5468ea 190px,#4c56e4 200px,#4249d8 210px,#3c3fcd 218px)"></i><i style="left:139px;background:linear-gradient(#3939c5 0px,#444bda 10px,#5162e8 20px,#6086f3 30px,#75b8f8 40px,#85d4f8 50px,#92e4f4 60px,#9eefec 70px,#a8f6e3 80px,#aef6d9 90px,#b2f6d3 100px,#b4f6d0 110px,#b3f6d1 120px,#b0f6d7 130px,#aaf6e0 140px,#a1f2e9 150px,#96e8f2 160px,#8adaf7 170px,#7ac3f8 180px,#6593f6 190px,#556aeb 200px,#4851e0 210px,#3e42d0 218px)"></i><i style="left:140px;background:linear-gradient(#3636bb 0px,#424ad1 10px,#5064df 20px,#6393e9 30px,#79c1eb 40px,#89d6e7 50px,#98e5dd 60px,#a5e9ce 70px,#afe7b8 80px,#b9e4a1 90px,#c0e395 100px,#c3e394 110px,#c1e395 120px,#bce49b 130px,#b3e6b0 140px,#a8e9c9 150px,#9de8da 160px,#8edbe5 170px,#7fc9eb 180px,#6ba5ea 190px,#5671e2 200px,#4750d7 210px,#3b3fc7 218px)"></i><i style="left:141px;background:linear-gradient(#292a90 0px,#3339a1 10px,#3e4cab 20px,#4b6eb4 30px,#5c93b5 40px,#68a3b3 50px,#73aeac 60px,#7db4a2 70px,#84b397 80px,#8bb185 90px,#90b07a 100px,#92af75 110px,#91b078 120px,#8db181 130px,#86b391 140px,#7fb49f 150px,#76b1aa 160px,#6ba7b2 170px,#6099b5 180px,#517bb4 190px,#4155ae 200px,#363da5 210px,#2d3199 218px)"></i><i style="left:142px;background:linear-gradient(#3536bb 0px,#4149d0 10px,#4f61dd 20px,#5f89e9 30px,#75bbeb 40px,#85d1e9 50px,#92dfe2 60px,#9fe9d7 70px,#a8e9c9 80px,#b0e7b8 90px,#b6e5a9 100px,#b8e5a4 110px,#b7e5a7 120px,#b2e6b2 130px,#aae9c6 140px,#a2e9d2 150px,#96e3df 160px,#89d6e7 170px,#7ac2eb 180px,#669ae9 190px,#536be1 200px,#464fd5 210px,#3b3fc6 218px)"></i><i style="left:143px;background:linear-gradient(#3839c5 0px,#434ada 10px,#505fe7 20px,#5e80f2 30px,#70adf7 40px,#81cef8 50px,#8edff5 60px,#98eaf0 70px,#a2f3e9 80px,#a9f6e2 90px,#adf6dc 100px,#aef6d9 110px,#adf6db 120px,#aaf6e0 130px,#a4f5e7 140px,#9cedee 150px,#91e3f4 160px,#85d4f8 170px,#76bbf8 180px,#628cf5 190px,#5467ea 200px,#4750df 210px,#3d41d0 218px)"></i><i style="left:144px;background:linear-gradient(#3839c5 0px,#4047d6 10px,#4c56e4 20px,#556aeb 30px,#6188f4 40px,#70acf7 50px,#7cc7f8 60px,#86d5f8 70px,#8ddef6 80px,#92e4f4 90px,#95e7f2 100px,#97e9f2 110px,#96e8f2 120px,#93e5f3 130px,#8fe0f5 140px,#89d9f8 150px,#80cbf8 160px,#74b6f8 170px,#6592f6 180px,#5973ee 190px,#4f5ce6 200px,#444bdb 210px,#3c40ce 218px)"></i><i style="left:145px;background:linear-gradient(#3838c5 0px,#3e42d1 10px,#454ddc 20px,#4d58e5 30px,#5365ea 40px,#5a75ef 50px,#6188f4 60px,#6899f6 70px,#6faaf7 80px,#74b6f8 90px,#77bef8 100px,#78c0f8 110px,#78bff8 120px,#75b9f8 130px,#70aef7 140px,#6a9ff7 150px,#638cf5 160px,#5c7bf0 170px,#5569eb 180px,#4f5ce6 190px,#4750df 200px,#4045d5 210px,#3b3dcb 218px)"></i><i style="left:146px;background:linear-gradient(#3838c4 0px,#3b3ecc 10px,#3f44d3 20px,#4249d9 30px,#474fde 40px,#4b54e3 50px,#4e5ae5 60px,#505fe7 70px,#5264e9 80px,#5467ea 90px,#5569eb 100px,#556aeb 110px,#556aeb 120px,#5468eb 130px,#5365e9 140px,#5161e8 150px,#4f5ce6 160px,#4c56e4 170px,#4851df 180px,#444bda 190px,#4045d5 200px,#3c40ce 210px,#3a3bc8 218px)"></i><i style="left:147px;background:linear-gradient(#3838c4 0px,#3b3ecc 10px,#3f43d3 20px,#4249d9 30px,#474fde 40px,#4b54e2 50px,#4e5ae5 60px,#505fe7 70px,#5264e9 80px,#5467ea 90px,#5569eb 100px,#556aeb 110px,#5569eb 120px,#5468ea 130px,#5365e9 140px,#5161e8 150px,#4e5be6 160px,#4c56e4 170px,#4851df 180px,#444bda 190px,#3f45d5 200px,#3c40ce 210px,#3a3bc8 218px)"></i><i style="left:148px;background:linear-gradient(#3838c5 0px,#3e42d1 10px,#454ddc 20px,#4d57e5 30px,#5365e9 40px,#5975ee 50px,#6086f3 60px,#6798f6 70px,#6ea8f7 80px,#73b4f8 90px,#76bcf8 100px,#78bff8 110px,#77bdf8 120px,#74b7f8 130px,#70acf7 140px,#699df7 150px,#628bf5 160px,#5c7af0 170px,#5569eb 180px,#4f5ce6 190px,#4750df 200px,#3f45d5 210px,#3b3dcb 218px)"></i><i style="left:149px;background:linear-gradient(#2e2ea0 0px,#3439ae 10px,#3d45b9 20px,#4556bf 30px,#4e6ec6 40px,#5a8ac8 50px,#64a0c9 60px,#6cacc9 70px,#72b3c8 80px,#76b8c6 90px,#78bbc5 100px,#79bcc4 110px,#79bbc5 120px,#77b9c5 130px,#73b5c7 140px,#6eafc9 150px,#67a4c9 160px,#5d92c9 170px,#5175c7 180px,#485cc1 190px,#404abb 200px,#373db1 210px,#3134a7 218px)"></i><i style="left:150px;background:linear-gradient(#2e2ea0 0px,#373db1 10px,#424fbc 20px,#4e6dc5 30px,#5f95c9 40px,#6cacc9 50px,#77b9c6 60px,#80c2bf 70px,#88c8b8 80px,#8dc8b0 90px,#91c8ab 100px,#92c8a9 110px,#91c8aa 120px,#8ec8ae 130px,#8ac8b5 140px,#83c4bd 150px,#79bcc4 160px,#70b1c9 170px,#639ec9 180px,#5277c8 190px,#4556bf 200px,#3b42b5 210px,#3235a9 218px)"></i><i style="left:151px;background:linear-gradient(#3939c5 0px,#474fde 10px,#566cec 20px,#6ba1f7 30px,#82d0f8 40px,#94e5f3 50px,#a4f5e7 60px,#b1f6d4 70px,#bef3b7 80px,#c9f09f 90px,#d1f09a 100px,#d5f098 110px,#d3f099 120px,#ccf09d 130px,#c2f2ae 140px,#b5f6ce 150px,#a9f6e2 160px,#99eaf0 170px,#88d8f8 180px,#73b4f8 190px,#5c7af0 200px,#4c56e4 210px,#3e43d3 218px)"></i><i style="left:152px;background:linear-gradient(#3939c5 0px,#4750df 10px,#5870ed 20px,#6faaf7 30px,#86d6f8 40px,#98eaf0 50px,#aaf6e0 60px,#b8f5c7 70px,#c7f0a3 80px,#d4f098 90px,#dcf092 100px,#e0f090 110px,#def091 120px,#d7f096 130px,#cbf09e 140px,#bdf3bb 150px,#aef6da 160px,#9eefec 170px,#8cddf6 180px,#77bef8 190px,#5e80f2 200px,#4d57e5 210px,#3f44d3 218px)"></i><i style="left:153px;background:linear-gradient(#3939c5 0px,#4851df 10px,#5975ee 20px,#73b4f7 30px,#8adaf7 40px,#9deeed 50px,#aef6d9 60px,#bff3b5 70px,#d1f09a 80px,#dff091 90px,#e4ef8b 100px,#e5ee89 110px,#e4ef8a 120px,#e1f08f 130px,#d5f097 140px,#c5f1a8 150px,#b3f6d2 160px,#a3f3e8 170px,#90e1f5 180px,#7bc4f8 190px,#6085f3 200px,#4e59e5 210px,#3f44d4 218px)"></i><i style="left:154px;background:linear-gradient(#3939c5 0px,#474fde 10px,#566dec 20px,#6da5f7 30px,#84d2f8 40px,#95e7f2 50px,#a7f6e5 60px,#b3f6d1 70px,#c2f2af 80px,#cdf09c 90px,#d6f097 100px,#d9f095 110px,#d7f096 120px,#d0f09a 130px,#c5f1a7 140px,#b8f5c7 150px,#abf6df 160px,#9becee 170px,#8adaf7 180px,#75b8f8 190px,#5c7df1 200px,#4c56e4 210px,#3f44d3 218px)"></i><i style="left:155px;background:linear-gradient(#3939c5 0px,#454ddc 10px,#5467ea 20px,#6593f6 30px,#7cc7f8 40px,#8ddef6 50px,#9cedee 60px,#a9f6e1 70px,#b2f6d3 80px,#bcf4be 90px,#c2f2af 100px,#c4f1a9 110px,#c3f1ac 120px,#bef3b8 130px,#b5f6ce 140px,#acf6dd 150px,#a0f1ea 160px,#92e3f4 170px,#82cff8 180px,#6da5f7 190px,#5872ee 200px,#4a54e2 210px,#3e43d2 218px)"></i><i style="left:156px;background:linear-gradient(#3939c5 0px,#444cdb 10px,#5264e9 20px,#628af4 30px,#78bff8 40px,#88d8f8 50px,#95e7f2 60px,#a2f2e9 70px,#abf6dd 80px,#b2f6d3 90px,#b7f5c8 100px,#baf4c3 110px,#b8f5c6 120px,#b4f6d1 130px,#aef6da 140px,#a5f5e6 150px,#99ebf0 160px,#8cddf6 170px,#7dc7f8 180px,#6899f6 190px,#566cec 200px,#4952e0 210px,#3e42d1 218px)"></i><i style="left:157px;background:linear-gradient(#3839c5 0px,#434ada 10px,#5160e8 20px,#5e81f2 30px,#71b0f7 40px,#82cff8 50px,#8fe0f5 60px,#9aebef 70px,#a4f4e8 80px,#aaf6e0 90px,#aef6da 100px,#aff6d7 110px,#aff6d8 120px,#abf6dd 130px,#a6f6e6 140px,#9deeed 150px,#92e4f4 160px,#86d6f8 170px,#77bef8 180px,#638df5 190px,#5468ea 200px,#4850df 210px,#3d41d0 218px)"></i><i style="left:158px;background:linear-gradient(#3737c0 0px,#3f46d2 10px,#4b57df 20px,#556de7 30px,#628eef 40px,#73b6f1 50px,#7fcaf1 60px,#88d7f0 70px,#8fdfed 80px,#95e4e9 90px,#99e8e6 100px,#9ae9e5 110px,#99e8e6 120px,#96e5e8 130px,#91e1ec 140px,#8ad9ef 150px,#82cff1 160px,#77bef1 170px,#679bf0 180px,#5977ea 190px,#4e5de1 200px,#434bd6 210px,#3b3ec9 218px)"></i><i style="left:159px;background:linear-gradient(#292990 0px,#2d3199 10px,#3338a1 20px,#3841a7 30px,#3d4bab 40px,#4258af 50px,#4765b3 60px,#4d73b4 70px,#5280b5 80px,#5689b5 90px,#588db5 100px,#598eb5 110px,#598eb5 120px,#578bb5 130px,#5483b5 140px,#4f77b4 150px,#4969b4 160px,#445cb0 170px,#3e4eac 180px,#3a44a8 190px,#353ba3 200px,#2f339c 210px,#2b2d94 218px)"></i><i style="left:160px;background:linear-gradient(#3434b4 0px,#3638ba 10px,#393dc0 20px,#3c42c6 30px,#3f46ca 40px,#434bce 50px,#454ed1 60px,#4753d3 70px,#4956d4 80px,#4a59d5 90px,#4b5bd6 100px,#4b5bd6 110px,#4b5bd6 120px,#4b5ad5 130px,#4a57d5 140px,#4854d3 150px,#4650d2 160px,#434ccf 170px,#4048cb 180px,#3d43c7 190px,#3a3ec2 200px,#373abc 210px,#3536b7 218px)"></i><i style="left:161px;background:linear-gradient(#3838c4 0px,#3c3fcd 10px,#3f45d4 20px,#444bdb 30px,#4952e0 40px,#4d58e5 50px,#505fe7 60px,#5365ea 70px,#556aeb 80px,#576fed 90px,#5973ee 100px,#5974ee 110px,#5973ee 120px,#5870ed 130px,#566bec 140px,#5467ea 150px,#5161e8 160px,#4e5ae6 170px,#4a54e2 180px,#464ddc 190px,#4147d7 200px,#3d40cf 210px,#3a3bc8 218px)"></i><i style="left:162px;background:linear-gradient(#3839c5 0px,#3e43d2 10px,#464edd 20px,#4e59e5 30px,#5467ea 40px,#5b79f0 50px,#628cf5 60px,#6ba0f7 70px,#72b1f7 80px,#77bef8 90px,#7ac3f8 100px,#7bc4f8 110px,#7ac4f8 120px,#78c0f8 130px,#74b5f8 140px,#6da5f7 150px,#6591f6 160px,#5d7ff1 170px,#566bec 180px,#4f5ee7 190px,#4851df 200px,#4046d6 210px,#3b3ecb 218px)"></i><i style="left:163px;background:linear-gradient(#3839c5 0px,#4046d6 10px,#4b54e3 20px,#5467ea 30px,#5f82f2 40px,#6ba2f7 50px,#79c1f8 60px,#82cff8 70px,#89d9f8 80px,#8edff6 90px,#91e2f4 100px,#92e3f4 110px,#91e3f4 120px,#8fe0f5 130px,#8bdbf7 140px,#84d2f8 150px,#7bc5f8 160px,#70acf7 170px,#628af4 180px,#576dec 190px,#4e5ae5 200px,#434ada 210px,#3c3fcd 218px)"></i><i style="left:164px;background:linear-gradient(#3536ba 0px,#3e44cc 10px,#4a56d9 20px,#546ee1 30px,#6290e9 40px,#72b7eb 50px,#7ec8eb 60px,#87d4e8 70px,#8edce5 80px,#94e1e0 90px,#98e4dd 100px,#9ae6dc 110px,#99e5dd 120px,#96e2df 130px,#90dde3 140px,#89d6e7 150px,#81cdea 160px,#76bceb 170px,#679cea 180px,#5878e4 190px,#4d5cdc 200px,#4249d1 210px,#393dc4 218px)"></i><i style="left:165px;background:linear-gradient(#292990 0px,#30359e 10px,#3942a7 20px,#4154ae 30px,#4b6eb4 40px,#588cb5 50px,#619ab5 60px,#68a3b3 70px,#6da9b1 80px,#72adae 90px,#74afab 100px,#76b0ab 110px,#75b0ab 120px,#73aead 130px,#6eaab0 140px,#69a5b2 150px,#639db5 160px,#5a90b5 170px,#4f77b4 180px,#445bb0 190px,#3b47a9 200px,#3338a1 210px,#2c2f97 218px)"></i><i style="left:166px;background:linear-gradient(#3536ba 0px,#3e44cc 10px,#4955d9 20px,#536ce1 30px,#608de9 40px,#71b3eb 50px,#7cc6eb 60px,#85d2e9 70px,#8cdae6 80px,#92dfe2 90px,#96e2df 100px,#97e4de 110px,#97e3de 120px,#93e0e1 130px,#8edce5 140px,#88d4e8 150px,#7fcbeb 160px,#74baeb 170px,#6599e9 180px,#5775e3 190px,#4c5bdb 200px,#4149d0 210px,#393dc3 218px)"></i><i style="left:167px;background:linear-gradient(#3839c5 0px,#4046d6 10px,#4b55e3 20px,#5468eb 30px,#5f84f3 40px,#6ca4f7 50px,#7ac2f8 60px,#83d0f8 70px,#8adaf7 80px,#8fe0f5 90px,#92e3f4 100px,#93e5f3 110px,#92e4f4 120px,#90e1f5 130px,#8cdcf6 140px,#85d4f8 150px,#7cc7f8 160px,#71aef7 170px,#628cf5 180px,#576fed 190px,#4e5ae6 200px,#434ada 210px,#3c3fcd 218px)"></i><i style="left:168px;background:linear-gradient(#3839c5 0px,#3f44d3 10px,#4750de 20px,#4f5ee7 30px,#576dec 40px,#5f84f3 50px,#699bf6 60px,#72b2f7 70px,#7ac2f8 80px,#7ec9f8 90px,#81cef8 100px,#82cff8 110px,#82cef8 120px,#7fcbf8 130px,#7bc5f8 140px,#75b8f8 150px,#6ca3f7 160px,#628bf4 170px,#5974ee 180px,#5262e8 190px,#4a53e2 200px,#4147d7 210px,#3b3ecc 218px)"></i><i style="left:169px;background:linear-gradient(#3838c5 0px,#3d41cf 10px,#4249d9 20px,#4952e0 30px,#4e5be6 40px,#5366ea 50px,#5871ed 60px,#5d7ef1 70px,#6188f4 80px,#6490f6 90px,#6796f6 100px,#6899f6 110px,#6797f6 120px,#6592f6 130px,#628bf5 140px,#5e81f2 150px,#5975ee 160px,#5569eb 170px,#505fe7 180px,#4b54e2 190px,#444cdb 200px,#3e43d2 210px,#3b3dca 218px)"></i><i style="left:170px;background:linear-gradient(#3838c4 0px,#3b3dcb 10px,#3e42d1 20px,#4047d7 30px,#444cdb 40px,#4850df 50px,#4b54e2 60px,#4d58e5 70px,#4f5ce6 80px,#505fe7 90px,#5160e8 100px,#5161e8 110px,#5161e8 120px,#505fe7 130px,#4f5de6 140px,#4d59e5 150px,#4b55e3 160px,#4851e0 170px,#454ddc 180px,#4248d8 190px,#3e43d3 200px,#3c3fcc 210px,#3a3bc7 218px)"></i><i style="left:171px;background:linear-gradient(#3838c4 0px,#3a3cc9 10px,#3d40ce 20px,#3f44d3 30px,#4147d7 40px,#444bda 50px,#464edd 60px,#4851e0 70px,#4a53e2 80px,#4b55e3 90px,#4c56e4 100px,#4c57e4 110px,#4c56e4 120px,#4c55e3 130px,#4a54e2 140px,#4952e0 150px,#474fde 160px,#454cdb 170px,#4249d8 180px,#3f45d5 190px,#3d41d0 200px,#3b3dcb 210px,#393ac7 218px)"></i><i style="left:172px;background:linear-gradient(#3838c4 0px,#3b3ecb 10px,#3e43d2 20px,#4248d8 30px,#464edd 40px,#4953e1 50px,#4d57e5 60px,#4f5de6 70px,#5161e8 80px,#5264e9 90px,#5366ea 100px,#5467ea 110px,#5366ea 120px,#5365e9 130px,#5162e8 140px,#505ee7 150px,#4d59e5 160px,#4b54e2 170px,#474fde 180px,#434ad9 190px,#3f44d4 200px,#3c3fcd 210px,#3a3bc8 218px)"></i><i style="left:173px;background:linear-gradient(#3535ba 0px,#393cc3 10px,#3d43cb 20px,#424ad1 30px,#4751d7 40px,#4b59db 50px,#4f61dd 60px,#5268e0 70px,#5570e2 80px,#5877e4 90px,#597be5 100px,#5a7ce5 110px,#5a7be5 120px,#5878e4 130px,#5672e3 140px,#536ae0 150px,#5063de 160px,#4c5bdb 170px,#4953d8 180px,#444cd3 190px,#3f45cd 200px,#3a3ec5 210px,#3739be 218px)"></i><i style="left:174px;background:linear-gradient(#292990 0px,#2d3199 10px,#3339a1 20px,#3941a7 30px,#3d4cab 40px,#4359af 50px,#4867b3 60px,#4e75b4 70px,#5382b5 80px,#578bb5 90px,#598fb5 100px,#5a90b5 110px,#5a8fb5 120px,#588db5 130px,#5585b5 140px,#5079b4 150px,#4a6bb4 160px,#445db0 170px,#3f4fac 180px,#3a45a9 190px,#353ba3 200px,#2f339c 210px,#2b2d94 218px)"></i><i style="left:175px;background:linear-gradient(#3536ba 0px,#3c42ca 10px,#4750d7 20px,#5062de 30px,#5a7ce5 40px,#669be9 50px,#73b7eb 60px,#7bc5eb 70px,#82ceea 80px,#87d3e8 90px,#8ad7e7 100px,#8bd8e6 110px,#8ad7e7 120px,#88d5e8 130px,#84d0e9 140px,#7ec8eb 150px,#76bceb 160px,#6aa4ea 170px,#5d84e8 180px,#5268e0 190px,#4a55d9 200px,#4046ce 210px,#393cc2 218px)"></i><i style="left:176px;background:linear-gradient(#3839c5 0px,#434ad9 10px,#505ee7 20px,#5c7cf1 30px,#6ea7f7 40px,#7fcaf8 50px,#8cdcf6 60px,#95e7f2 70px,#9ff0eb 80px,#a6f6e6 90px,#a9f6e1 100px,#abf6de 110px,#aaf6e0 120px,#a7f6e4 130px,#a1f2ea 140px,#98eaf0 150px,#8fe0f5 160px,#83d0f8 170px,#73b5f8 180px,#6188f4 190px,#5365ea 200px,#474fde 210px,#3d41d0 218px)"></i><i style="left:177px;background:linear-gradient(#3839c5 0px,#4349d9 10px,#4f5ee7 20px,#5c7bf0 30px,#6da5f7 40px,#7ec9f8 50px,#8bdbf7 60px,#95e6f3 70px,#9eefec 80px,#a4f5e7 90px,#a8f6e2 100px,#aaf6e0 110px,#a9f6e1 120px,#a6f6e6 130px,#a0f1eb 140px,#97e9f1 150px,#8edff5 160px,#82cff8 170px,#73b3f7 180px,#6087f3 190px,#5365e9 200px,#474fde 210px,#3d41cf 218px)"></i><i style="left:178px;background:linear-gradient(#3839c5 0px,#4249d9 10px,#4f5de7 20px,#5c7af0 30px,#6ca3f7 40px,#7dc8f8 50px,#8adaf7 60px,#94e5f3 70px,#9ceeed 80px,#a3f4e8 90px,#a7f6e4 100px,#a9f6e2 110px,#a8f6e3 120px,#a5f5e7 130px,#9ff0eb 140px,#96e8f2 150px,#8ddef6 160px,#81cef8 170px,#72b1f7 180px,#6085f3 190px,#5264e9 200px,#464fde 210px,#3d41cf 218px)"></i><i style="left:179px;background:linear-gradient(#3839c5 0px,#4148d8 10px,#4d59e5 20px,#5871ed 30px,#6593f6 40px,#76bcf8 50px,#83d0f8 60px,#8cddf6 70px,#94e5f3 80px,#9aebef 90px,#9eefec 100px,#9ff0eb 110px,#9eefec 120px,#9becee 130px,#96e7f2 140px,#8fe0f5 150px,#86d5f8 160px,#7bc4f8 170px,#6ba0f7 180px,#5c7bf0 190px,#5060e8 200px,#454ddc 210px,#3d40ce 218px)"></i><i style="left:180px;background:linear-gradient(#3839c5 0px,#4046d5 10px,#4a54e2 20px,#5366ea 30px,#5e80f1 40px,#6a9ef7 50px,#77bdf8 60px,#80ccf8 70px,#87d7f8 80px,#8cddf6 90px,#8fe0f5 100px,#90e1f4 110px,#90e1f5 120px,#8ddef6 130px,#89d9f8 140px,#82d0f8 150px,#7ac3f8 160px,#6ea8f7 170px,#6188f4 180px,#566cec 190px,#4d59e5 200px,#434ad9 210px,#3c3fcd 218px)"></i><i style="left:181px;background:linear-gradient(#3839c5 0px,#3e43d2 10px,#464edd 20px,#4e5be6 30px,#556aeb 40px,#5d7ef1 50px,#6592f6 60px,#6ea8f7 70px,#75baf8 80px,#7ac3f8 90px,#7dc7f8 100px,#7ec9f8 110px,#7dc8f8 120px,#7bc5f8 130px,#77bef8 140px,#70aef7 150px,#6899f6 160px,#5f84f3 170px,#576fed 180px,#5060e7 190px,#4952e0 200px,#4046d6 210px,#3b3ecb 218px)"></i><i style="left:182px;background:linear-gradient(#3535ba 0px,#3a3dc4 10px,#3e45cd 20px,#444dd4 30px,#4a55d9 40px,#4e5fdd 50px,#5268e0 60px,#5774e3 70px,#5a7de6 80px,#5d84e8 90px,#5f89e9 100px,#608ce9 110px,#5f8ae9 120px,#5e86e8 130px,#5b80e6 140px,#5877e4 150px,#546ce1 160px,#4f62de 170px,#4b58da 180px,#464fd6 190px,#4047cf 200px,#3b3fc6 210px,#3739bf 218px)"></i><i style="left:183px;background:linear-gradient(#29298f 0px,#2c2e95 10px,#2e329b 20px,#31379f 30px,#353ba3 40px,#3840a7 50px,#3a45a9 60px,#3c49aa 70px,#3e4cab 80px,#3f4fac 90px,#4052ad 100px,#4053ad 110px,#4052ad 120px,#3f50ad 130px,#3e4dac 140px,#3d4aab 150px,#3b46a9 160px,#3941a7 170px,#363ca4 180px,#3238a1 190px,#2f339c 200px,#2c2f97 210px,#2a2b92 218px)"></i><i style="left:184px;background:linear-gradient(#3535ba 0px,#3739bf 10px,#3a3dc4 20px,#3c41c9 30px,#3f45cd 40px,#4249d0 50px,#444cd3 60px,#464fd6 70px,#4852d8 80px,#4954d9 90px,#4a55d9 100px,#4a56d9 110px,#4a56d9 120px,#4954d9 130px,#4852d8 140px,#4750d6 150px,#454dd4 160px,#424ad1 170px,#4046ce 180px,#3d42cb 190px,#3a3fc6 200px,#383bc1 210px,#3637bc 218px)"></i><i style="left:185px;background:linear-gradient(#3838c4 0px,#3b3dca 10px,#3d41d0 20px,#4046d6 30px,#434ada 40px,#464fde 50px,#4952e1 60px,#4c56e4 70px,#4d59e5 80px,#4f5ce6 90px,#4f5de7 100px,#505ee7 110px,#505ee7 120px,#4f5ce6 130px,#4e5ae5 140px,#4c57e4 150px,#4a53e2 160px,#4750df 170px,#444cdb 180px,#4147d7 190px,#3e43d2 200px,#3c3ecc 210px,#393bc7 218px)"></i><i style="left:186px;background:linear-gradient(#3838c5 0px,#3d40cf 10px,#4249d8 20px,#4951e0 30px,#4e5be6 40px,#5365e9 50px,#576fed 60px,#5c7cf0 70px,#6086f3 80px,#638ef5 90px,#6593f6 100px,#6696f6 110px,#6694f6 120px,#648ff6 130px,#6189f4 140px,#5e7ff1 150px,#5973ee 160px,#5468ea 170px,#505ee7 180px,#4a54e2 190px,#444bdb 200px,#3e43d2 210px,#3b3cca 218px)"></i><i style="left:187px;background:linear-gradient(#3839c5 0px,#3e43d2 10px,#464ddd 20px,#4d59e5 30px,#5467ea 40px,#5b79f0 50px,#628cf5 60px,#6a9ff7 70px,#72b0f7 80px,#77bdf8 90px,#7ac3f8 100px,#7bc4f8 110px,#7ac3f8 120px,#78c0f8 130px,#73b5f8 140px,#6da5f7 150px,#6491f6 160px,#5d7ff1 170px,#566bec 180px,#4f5ee7 190px,#4851df 200px,#4046d6 210px,#3b3ecb 218px)"></i><i style="left:188px;background:linear-gradient(#3737bf 0px,#3d42cd 10px,#454dd8 20px,#4d5ae0 30px,#5368e5 40px,#5c7eeb 50px,#6493f0 60px,#6da9f1 70px,#75baf1 80px,#79c1f1 90px,#7cc5f1 100px,#7dc7f1 110px,#7cc6f1 120px,#7ac3f1 130px,#76bdf1 140px,#70aef1 150px,#679af0 160px,#5e84ed 170px,#566fe7 180px,#4f5ee2 190px,#4750db 200px,#3f45d1 210px,#3a3cc6 218px)"></i><i style="left:189px;background:linear-gradient(#292990 0px,#2d3199 10px,#3339a1 20px,#3942a8 30px,#3e4dab 40px,#435bb0 50px,#4969b3 60px,#4f78b4 70px,#5585b5 80px,#588db5 90px,#5a90b5 100px,#5b92b5 110px,#5b91b5 120px,#598eb5 130px,#5688b5 140px,#517db4 150px,#4b6eb4 160px,#455fb1 170px,#3f50ad 180px,#3a45a9 190px,#353ba4 200px,#2f339c 210px,#2b2d94 218px)"></i><i style="left:190px;background:linear-gradient(#3434b5 0px,#393dc0 10px,#4047ca 20px,#4751d2 30px,#4c5dd7 40px,#536cdb 50px,#597de0 60px,#608de2 70px,#669de3 80px,#6ba8e4 90px,#6eafe4 100px,#6fb1e4 110px,#6eb0e4 120px,#6cabe4 130px,#68a0e3 140px,#6292e3 150px,#5b81e1 160px,#5572dd 170px,#4e61d8 180px,#4855d4 190px,#424acd 200px,#3a40c4 210px,#3638bb 218px)"></i><i style="left:191px;background:linear-gradient(#3838c5 0px,#3d41d0 10px,#434bda 20px,#4b54e2 30px,#5060e8 40px,#566bec 50px,#5c7bf0 60px,#6189f4 70px,#6696f6 80px,#6ba1f7 90px,#6ea8f7 100px,#6fabf7 110px,#6ea9f7 120px,#6ca3f7 130px,#6899f6 140px,#638df5 150px,#5e7ff1 160px,#5770ed 170px,#5263e9 180px,#4d57e4 190px,#464edd 200px,#3f44d3 210px,#3b3dca 218px)"></i><i style="left:192px;background:linear-gradient(#3838c4 0px,#3c3fcd 10px,#3f45d5 20px,#444cdb 30px,#4952e0 40px,#4d58e5 50px,#5060e7 60px,#5366ea 70px,#556beb 80px,#5770ed 90px,#5973ee 100px,#5975ee 110px,#5974ee 120px,#5871ed 130px,#566cec 140px,#5467ea 150px,#5162e8 160px,#4e5be6 170px,#4a54e2 180px,#464edd 190px,#4147d7 200px,#3d41cf 210px,#3a3cc9 218px)"></i><i style="left:193px;background:linear-gradient(#3838c4 0px,#3b3dca 10px,#3d42d0 20px,#4046d6 30px,#434bda 40px,#474fde 50px,#4a53e1 60px,#4c56e4 70px,#4e5ae5 80px,#4f5ce6 90px,#505ee7 100px,#505fe7 110px,#505ee7 120px,#4f5de7 130px,#4e5be6 140px,#4d57e4 150px,#4a54e2 160px,#4850df 170px,#444cdb 180px,#4147d7 190px,#3e43d2 200px,#3c3ecc 210px,#393bc7 218px)"></i><i style="left:194px;background:linear-gradient(#3838c4 0px,#3a3cc9 10px,#3d40ce 20px,#3f44d3 30px,#4147d7 40px,#444bda 50px,#464edd 60px,#4851e0 70px,#4a53e1 80px,#4b55e3 90px,#4c56e4 100px,#4c56e4 110px,#4c56e4 120px,#4b55e3 130px,#4a54e2 140px,#4952e0 150px,#474fde 160px,#444cdb 170px,#4248d8 180px,#3f45d4 190px,#3d41d0 200px,#3b3dcb 210px,#393ac7 218px)"></i><i style="left:195px;background:linear-gradient(#3838c4 0px,#3a3bc8 10px,#3c3fcd 20px,#3e42d1 30px,#3f45d4 40px,#4148d7 50px,#434ada 60px,#454ddc 70px,#464fdd 80px,#4750df 90px,#4851df 100px,#4851e0 110px,#4851e0 120px,#4850df 130px,#474fde 140px,#454ddc 150px,#444bda 160px,#4249d8 170px,#4046d6 180px,#3e43d2 190px,#3c40ce 200px,#3b3cca 210px,#393ac6 218px)"></i><i style="left:196px;background:linear-gradient(#3838c4 0px,#3a3cc9 10px,#3d40ce 20px,#3f44d3 30px,#4147d7 40px,#444bda 50px,#464edd 60px,#4851df 70px,#4a53e1 80px,#4b55e3 90px,#4c56e4 100px,#4c56e4 110px,#4c56e4 120px,#4b55e3 130px,#4a54e2 140px,#4952e0 150px,#474fde 160px,#444cdb 170px,#4248d8 180px,#3f45d4 190px,#3d41d0 200px,#3b3dcb 210px,#393ac7 218px)"></i><i style="left:197px;background:linear-gradient(#2f2fa5 0px,#3133aa 10px,#3437af 20px,#363bb4 30px,#393fb7 40px,#3c43bb 50px,#3e46bd 60px,#4049c0 70px,#424dc1 80px,#434fc2 90px,#4350c2 100px,#4451c2 110px,#4451c2 120px,#4350c2 130px,#424dc1 140px,#414bc0 150px,#3f47be 160px,#3d44bb 170px,#3a40b8 180px,#373cb5 190px,#3438b0 200px,#3234ab 210px,#3031a7 218px)"></i><i style="left:198px;background:linear-gradient(#2c2c9a 0px,#2f31a1 10px,#3236a7 20px,#363cac 30px,#3a41b1 40px,#3d47b4 50px,#404db6 60px,#4251b8 70px,#4456b9 80px,#465bbb 90px,#475ebc 100px,#475fbc 110px,#475ebc 120px,#465cbb 130px,#4558ba 140px,#4353b8 150px,#404eb7 160px,#3e49b5 170px,#3b43b2 180px,#373dae 190px,#3338a9 200px,#3033a3 210px,#2e2f9d 218px)"></i><i style="left:199px;background:linear-gradient(#3838c5 0px,#3d41cf 10px,#4249d9 20px,#4952e1 30px,#4f5ce6 40px,#5467ea 50px,#5973ee 60px,#5e80f2 70px,#628af4 80px,#6593f6 90px,#6899f6 100px,#699cf6 110px,#689bf6 120px,#6695f6 130px,#638df5 140px,#5f83f2 150px,#5a77ef 160px,#556aeb 170px,#5060e7 180px,#4b55e3 190px,#454cdb 200px,#3e43d2 210px,#3b3dca 218px)"></i><i style="left:200px;background:linear-gradient(#3839c5 0px,#3e43d2 10px,#454ddc 20px,#4d59e5 30px,#5467ea 40px,#5b78ef 50px,#628bf5 60px,#6a9ef7 70px,#71aff7 80px,#76bbf8 90px,#79c2f8 100px,#7ac3f8 110px,#7ac2f8 120px,#77bef8 130px,#73b3f7 140px,#6ca3f7 150px,#6490f6 160px,#5d7ef1 170px,#556bec 180px,#4f5de7 190px,#4851df 200px,#4046d5 210px,#3b3ecb 218px)"></i><i style="left:201px;background:linear-gradient(#3839c5 0px,#3f44d4 10px,#4851df 20px,#5060e8 30px,#5872ee 40px,#628af4 50px,#6ca4f7 60px,#76bcf8 70px,#7dc7f8 80px,#82cff8 90px,#85d3f8 100px,#86d5f8 110px,#85d4f8 120px,#83d0f8 130px,#7fcaf8 140px,#79c1f8 150px,#6fabf7 160px,#6490f6 170px,#5b79f0 180px,#5365e9 190px,#4b54e3 200px,#4148d7 210px,#3c3ecc 218px)"></i><i style="left:202px;background:linear-gradient(#3839c5 0px,#3e43d2 10px,#464edd 20px,#4e5be6 30px,#556aeb 40px,#5d7ef1 50px,#6592f6 60px,#6ea8f7 70px,#75b9f8 80px,#7ac3f8 90px,#7dc7f8 100px,#7ec9f8 110px,#7dc8f8 120px,#7bc5f8 130px,#77bef8 140px,#70adf7 150px,#6899f6 160px,#5f84f3 170px,#576fed 180px,#5060e7 190px,#4952e0 200px,#4046d6 210px,#3b3ecb 218px)"></i><i style="left:203px;background:linear-gradient(#3838c5 0px,#3e42d1 10px,#454cdb 20px,#4c56e4 30px,#5264e9 40px,#5872ee 50px,#5f84f3 60px,#6593f6 70px,#6ca4f7 80px,#71aff7 90px,#74b7f8 100px,#75baf8 110px,#75b8f8 120px,#72b2f7 130px,#6ea8f7 140px,#6899f6 150px,#6188f4 160px,#5b78ef 170px,#5467ea 180px,#4e5be6 190px,#474fde 200px,#3f45d5 210px,#3b3dcb 218px)"></i><i style="left:204px;background:linear-gradient(#3838c5 0px,#3d41d0 10px,#434ad9 20px,#4a53e1 30px,#505ee7 40px,#5469eb 50px,#5a76ef 60px,#5f84f3 70px,#638ef6 80px,#6898f6 90px,#6a9ff7 100px,#6ba2f7 110px,#6ba0f7 120px,#699bf6 130px,#6591f6 140px,#6187f4 150px,#5c7af0 160px,#566cec 170px,#5161e8 180px,#4c56e4 190px,#454ddc 200px,#3f44d3 210px,#3b3dca 218px)"></i><i style="left:205px;background:linear-gradient(#3838c4 0px,#3d40ce 10px,#4148d7 20px,#4750df 30px,#4d58e5 40px,#5161e8 50px,#556aeb 60px,#5975ee 70px,#5d7ef1 80px,#6085f3 90px,#628af4 100px,#628bf5 110px,#628bf4 120px,#6087f3 130px,#5e81f2 140px,#5b78ef 150px,#566cec 160px,#5264e9 170px,#4e5be6 180px,#4952e1 190px,#434ada 200px,#3e42d1 210px,#3a3cc9 218px)"></i><i style="left:206px;background:linear-gradient(#2e2e9f 0px,#3133a6 10px,#3438ad 20px,#383eb2 30px,#3c43b7 40px,#3f49ba 50px,#424fbc 60px,#4454be 70px,#4659c0 80px,#485ec1 90px,#4a61c2 100px,#4a63c2 110px,#4a62c2 120px,#495fc2 130px,#475bc0 140px,#4556bf 150px,#4351bd 160px,#404bbb 170px,#3d45b8 180px,#3940b4 190px,#353aaf 200px,#3235a8 210px,#2f30a3 218px)"></i><i style="left:207px;background:linear-gradient(#2e2e9f 0px,#3032a5 10px,#3337ab 20px,#363bb0 30px,#3940b4 40px,#3c44b7 50px,#3f49ba 60px,#414dbc 70px,#4351bd 80px,#4453be 90px,#4455be 100px,#4555bf 110px,#4555be 120px,#4454be 130px,#4351bd 140px,#414ebc 150px,#404aba 160px,#3d45b9 170px,#3a41b5 180px,#373db1 190px,#3338ad 200px,#3134a7 210px,#2f30a2 218px)"></i><i style="left:208px;background:linear-gradient(#3838c4 0px,#3b3dca 10px,#3d41d0 20px,#4046d6 30px,#434bda 40px,#474fde 50px,#4953e1 60px,#4c56e4 70px,#4e59e5 80px,#4f5ce6 90px,#505ee7 100px,#505ee7 110px,#505ee7 120px,#4f5de6 130px,#4e5ae6 140px,#4c57e4 150px,#4a54e2 160px,#4850df 170px,#444cdb 180px,#4147d7 190px,#3e43d2 200px,#3c3ecc 210px,#393bc7 218px)"></i><i style="left:209px;background:linear-gradient(#3838c4 0px,#3b3dca 10px,#3d41cf 20px,#3f45d5 30px,#4249d9 40px,#464ddc 50px,#4851e0 60px,#4b54e2 70px,#4c57e4 80px,#4d59e5 90px,#4e5be6 100px,#4e5be6 110px,#4e5be6 120px,#4e5ae5 130px,#4d58e5 140px,#4b55e3 150px,#4952e0 160px,#464edd 170px,#434bda 180px,#4046d6 190px,#3e42d1 200px,#3b3ecc 210px,#393ac7 218px)"></i><i style="left:210px;background:linear-gradient(#3838c4 0px,#3b3ecc 10px,#3f44d3 20px,#434ad9 30px,#474fde 40px,#4b55e3 50px,#4e5be6 60px,#5160e8 70px,#5364e9 80px,#5468ea 90px,#556aeb 100px,#556bec 110px,#556aeb 120px,#5469eb 130px,#5366ea 140px,#5161e8 150px,#4f5ce6 160px,#4c56e4 170px,#4851e0 180px,#444bdb 190px,#4045d5 200px,#3c40ce 210px,#3a3bc8 218px)"></i><i style="left:211px;background:linear-gradient(#3838c4 0px,#3c3fce 10px,#4046d6 20px,#464edd 30px,#4b55e3 40px,#505ee7 50px,#5366ea 60px,#576dec 70px,#5a76ef 80px,#5d7df1 90px,#5e81f2 100px,#5f83f2 110px,#5f82f2 120px,#5d7ef1 130px,#5b79ef 140px,#5870ed 150px,#5468eb 160px,#5161e8 170px,#4d58e5 180px,#4850df 190px,#4249d8 200px,#3d42d0 210px,#3a3cc9 218px)"></i><i style="left:212px;background:linear-gradient(#3131aa 0px,#3437b2 10px,#373db9 20px,#3c43bf 30px,#4149c4 40px,#4450c7 50px,#4757ca 60px,#4a5dcc 70px,#4d64ce 80px,#4f69cf 90px,#506dd0 100px,#516ed1 110px,#516ed1 120px,#506bd0 130px,#4e66ce 140px,#4b5fcd 150px,#4859ca 160px,#4552c8 170px,#424bc5 180px,#3e45c0 190px,#393fbb 200px,#3539b4 210px,#3234ae 218px)"></i><i style="left:213px;background:linear-gradient(#2b2b95 0px,#2d309b 10px,#3035a1 20px,#343aa6 30px,#383fab 40px,#3b44ae 50px,#3e4ab0 60px,#404fb2 70px,#4253b3 80px,#4358b4 90px,#455bb5 100px,#455cb5 110px,#455bb5 120px,#4459b5 130px,#4255b3 140px,#4050b2 150px,#3e4bb0 160px,#3c46ae 170px,#3940ac 180px,#353ba8 190px,#3136a3 200px,#2e319d 210px,#2c2d98 218px)"></i><i style="left:214px;background:linear-gradient(#3838c4 0px,#3c3fcc 10px,#3f45d4 20px,#444bdb 30px,#4952e0 40px,#4d58e5 50px,#505fe7 60px,#5365e9 70px,#556aeb 80px,#576eed 90px,#5872ee 100px,#5973ee 110px,#5872ee 120px,#576fed 130px,#556bec 140px,#5366ea 150px,#5161e8 160px,#4e5ae5 170px,#4a53e2 180px,#454ddc 190px,#4047d7 200px,#3d40cf 210px,#3a3bc8 218px)"></i><i style="left:215px;background:linear-gradient(#3838c4 0px,#3b3ecc 10px,#3f43d3 20px,#4249d9 30px,#474fde 40px,#4b54e2 50px,#4e5ae5 60px,#505fe7 70px,#5263e9 80px,#5467ea 90px,#5569eb 100px,#556aeb 110px,#5569eb 120px,#5467ea 130px,#5365e9 140px,#5161e8 150px,#4e5be6 160px,#4c56e4 170px,#4850df 180px,#444bda 190px,#3f45d5 200px,#3c40ce 210px,#3a3bc8 218px)"></i><i style="left:216px;background:linear-gradient(#3838c4 0px,#3b3dcb 10px,#3e42d1 20px,#4147d7 30px,#444cdb 40px,#4850df 50px,#4b54e2 60px,#4d58e5 70px,#4f5ce6 80px,#505fe7 90px,#5161e8 100px,#5161e8 110px,#5161e8 120px,#5060e7 130px,#4f5de7 140px,#4e5ae5 150px,#4b55e3 160px,#4951e0 170px,#454ddc 180px,#4248d8 190px,#3f43d3 200px,#3c3fcd 210px,#3a3bc7 218px)"></i><i style="left:217px;background:linear-gradient(#3838c4 0px,#3b3dca 10px,#3d41d0 20px,#4046d6 30px,#434ada 40px,#464fde 50px,#4952e1 60px,#4c56e4 70px,#4d59e5 80px,#4f5ce6 90px,#4f5de7 100px,#505ee7 110px,#505ee7 120px,#4f5ce6 130px,#4e5ae5 140px,#4c57e4 150px,#4a53e2 160px,#4750df 170px,#444cdb 180px,#4147d7 190px,#3e43d2 200px,#3c3ecc 210px,#393bc7 218px)"></i><i style="left:218px;background:linear-gradient(#3838c4 0px,#3b3dca 10px,#3d41d0 20px,#4045d5 30px,#434ad9 40px,#464edd 50px,#4952e0 60px,#4b55e3 70px,#4d58e5 80px,#4e5be6 90px,#4f5ce6 100px,#4f5de6 110px,#4f5ce6 120px,#4e5be6 130px,#4d59e5 140px,#4c56e4 150px,#4a53e1 160px,#474fde 170px,#444bdb 180px,#4147d7 190px,#3e42d1 200px,#3b3ecc 210px,#393ac7 218px)"></i><i style="left:219px;background:linear-gradient(#3838c4 0px,#3b3dca 10px,#3d41cf 20px,#3f45d5 30px,#4349d9 40px,#464ddd 50px,#4851e0 60px,#4b54e2 70px,#4c57e4 80px,#4d59e5 90px,#4e5be6 100px,#4f5ce6 110px,#4e5be6 120px,#4e5ae5 130px,#4d58e5 140px,#4b55e3 150px,#4952e1 160px,#464fdd 170px,#434bda 180px,#4046d6 190px,#3e42d1 200px,#3b3ecc 210px,#393ac7 218px)"></i><i style="left:220px;background:linear-gradient(#3838c4 0px,#3b3dca 10px,#3d41d0 20px,#4046d6 30px,#434bda 40px,#474fde 50px,#4953e1 60px,#4c56e4 70px,#4e59e5 80px,#4f5ce6 90px,#505ee7 100px,#505ee7 110px,#505ee7 120px,#4f5de6 130px,#4e5ae6 140px,#4c57e4 150px,#4a54e2 160px,#4850df 170px,#444cdb 180px,#4147d7 190px,#3e43d2 200px,#3c3ecc 210px,#393bc7 218px)"></i><i style="left:221px;background:linear-gradient(#2e2e9f 0px,#3032a5 10px,#3236aa 20px,#353aaf 30px,#383fb3 40px,#3b43b6 50px,#3e46b9 60px,#404abb 70px,#414ebc 80px,#4250bd 90px,#4352bd 100px,#4352be 110px,#4352bd 120px,#4351bd 130px,#424fbc 140px,#404cbb 150px,#3f48ba 160px,#3c44b7 170px,#3940b4 180px,#363cb0 190px,#3337ac 200px,#3133a6 210px,#2f30a2 218px)"></i><i style="left:222px;background:linear-gradient(#2e2e9f 0px,#3032a5 10px,#3337ac 20px,#363cb1 30px,#3a41b5 40px,#3d45b9 50px,#404bbb 60px,#424fbc 70px,#4453be 80px,#4556bf 90px,#4658bf 100px,#4659c0 110px,#4658c0 120px,#4556bf 130px,#4454be 140px,#4351bd 150px,#414cbb 160px,#3e47b9 170px,#3b42b6 180px,#383eb2 190px,#3439ad 200px,#3134a7 210px,#2f30a2 218px)"></i><i style="left:223px;background:linear-gradient(#3838c4 0px,#3c3fcd 10px,#4045d5 20px,#454cdc 30px,#4a53e1 40px,#4e5ae6 50px,#5162e8 60px,#5468ea 70px,#576eec 80px,#5974ee 90px,#5b78ef 100px,#5b79f0 110px,#5b78ef 120px,#5a75ef 130px,#5770ed 140px,#556aeb 150px,#5264e9 160px,#4f5ce6 170px,#4b55e3 180px,#464edd 190px,#4147d7 200px,#3d41cf 210px,#3a3cc9 218px)"></i><i style="left:224px;background:linear-gradient(#3838c4 0px,#3c40ce 10px,#4147d7 20px,#464fdd 30px,#4c56e4 40px,#505fe7 50px,#5467ea 60px,#576fed 70px,#5b78ef 80px,#5d7ff1 90px,#5f83f2 100px,#6085f3 110px,#5f84f3 120px,#5e80f2 130px,#5c7af0 140px,#5872ee 150px,#5569eb 160px,#5161e8 170px,#4d59e5 180px,#4851df 190px,#4249d9 200px,#3e42d1 210px,#3a3cc9 218px)"></i><i style="left:225px;background:linear-gradient(#3838c5 0px,#3d40cf 10px,#4248d8 20px,#4851df 30px,#4e5ae5 40px,#5264e9 50px,#566dec 60px,#5b79f0 70px,#5f83f2 80px,#628af4 90px,#648ff6 100px,#6491f6 110px,#6490f6 120px,#628cf5 130px,#6085f3 140px,#5c7cf0 150px,#5871ed 160px,#5366ea 170px,#4f5de6 180px,#4a53e1 190px,#444bda 200px,#3e43d2 210px,#3a3cca 218px)"></i><i style="left:226px;background:linear-gradient(#3838c5 0px,#3d41cf 10px,#434ad9 20px,#4a53e1 30px,#4f5de7 40px,#5468eb 50px,#5a75ef 60px,#5f83f2 70px,#638df5 80px,#6797f6 90px,#6a9ef7 100px,#6ba1f7 110px,#6a9ff7 120px,#689af6 130px,#6490f6 140px,#6086f3 150px,#5b7af0 160px,#566bec 170px,#5161e8 180px,#4c55e4 190px,#454ddc 200px,#3f43d3 210px,#3b3dca 218px)"></i><i style="left:227px;background:linear-gradient(#3838c5 0px,#3d41cf 10px,#4249d9 20px,#4952e1 30px,#4f5ce6 40px,#5467ea 50px,#5973ee 60px,#5e80f1 70px,#628af4 80px,#6592f6 90px,#6899f6 100px,#699cf6 110px,#689af6 120px,#6695f6 130px,#638df5 140px,#5f83f2 150px,#5a77ef 160px,#556aeb 170px,#505fe7 180px,#4b55e3 190px,#444cdb 200px,#3e43d2 210px,#3b3dca 218px)"></i><i style="left:228px;background:linear-gradient(#3838c4 0px,#3d40ce 10px,#4148d8 20px,#4850df 30px,#4d59e5 40px,#5263e9 50px,#566bec 60px,#5a77ef 70px,#5e81f2 80px,#6188f4 90px,#638cf5 100px,#638ef6 110px,#638df5 120px,#628af4 130px,#5f83f2 140px,#5b7af0 150px,#576fed 160px,#5365ea 170px,#4f5ce6 180px,#4953e1 190px,#434ada 200px,#3e42d1 210px,#3a3cc9 218px)"></i><i style="left:229px;background:linear-gradient(#3838c4 0px,#3c40ce 10px,#4047d7 20px,#464edd 30px,#4c56e4 40px,#505ee7 50px,#5467ea 60px,#576eed 70px,#5a77ef 80px,#5d7ef1 90px,#5f82f2 100px,#5f84f3 110px,#5f83f2 120px,#5e80f1 130px,#5b7af0 140px,#5871ed 150px,#5469eb 160px,#5161e8 170px,#4d58e5 180px,#4851df 190px,#4249d9 200px,#3e42d0 210px,#3a3cc9 218px)"></i><i style="left:230px;background:linear-gradient(#3131aa 0px,#3436b1 10px,#373cb8 20px,#3c42be 30px,#4048c3 40px,#434ec7 50px,#4655c9 60px,#495acb 70px,#4b5fcd 80px,#4d64ce 90px,#4e68cf 100px,#4f69cf 110px,#4f68cf 120px,#4e66ce 130px,#4c61cd 140px,#495bcb 150px,#4756ca 160px,#4450c7 170px,#4149c4 180px,#3d44c0 190px,#383eba 200px,#3538b3 210px,#3234ae 218px)"></i><i style="left:231px;background:linear-gradient(#2b2b95 0px,#2d2f9b 10px,#3034a0 20px,#3338a5 30px,#363da9 40px,#3a41ad 50px,#3c46af 60px,#3e4bb0 70px,#404eb1 80px,#4151b2 90px,#4253b3 100px,#4254b3 110px,#4254b3 120px,#4152b3 130px,#404fb2 140px,#3e4cb1 150px,#3d48af 160px,#3a43ad 170px,#373eaa 180px,#343aa6 190px,#3035a2 200px,#2e319c 210px,#2c2d98 218px)"></i><i style="left:232px;background:linear-gradient(#3838c4 0px,#3b3ecb 10px,#3e43d2 20px,#4249d8 30px,#464edd 40px,#4a53e1 50px,#4d58e5 60px,#4f5de7 70px,#5162e8 80px,#5365e9 90px,#5467ea 100px,#5468ea 110px,#5467ea 120px,#5366ea 130px,#5263e9 140px,#505fe7 150px,#4e5ae5 160px,#4b55e3 170px,#4750de 180px,#434ada 190px,#3f45d4 200px,#3c3fcd 210px,#3a3bc8 218px)"></i><i style="left:233px;background:linear-gradient(#3838c4 0px,#3b3dcb 10px,#3e42d1 20px,#4047d7 30px,#444cdb 40px,#4850df 50px,#4b54e2 60px,#4d58e5 70px,#4f5ce6 80px,#505fe7 90px,#5161e8 100px,#5161e8 110px,#5161e8 120px,#505fe7 130px,#4f5de7 140px,#4e59e5 150px,#4b55e3 160px,#4951e0 170px,#454ddc 180px,#4248d8 190px,#3f43d3 200px,#3c3fcd 210px,#3a3bc7 218px)"></i><i style="left:234px;background:linear-gradient(#3838c4 0px,#3b3dca 10px,#3d41cf 20px,#3f45d5 30px,#4249d9 40px,#454ddc 50px,#4851df 60px,#4a54e2 70px,#4c56e4 80px,#4d59e5 90px,#4e5ae6 100px,#4e5be6 110px,#4e5be6 120px,#4d59e5 130px,#4c57e4 140px,#4b54e3 150px,#4952e0 160px,#464edd 170px,#434ada 180px,#4046d6 190px,#3e42d1 200px,#3b3ecc 210px,#393ac7 218px)"></i><i style="left:235px;background:linear-gradient(#3838c4 0px,#3b3dca 10px,#3d41d0 20px,#4045d5 30px,#434ad9 40px,#464edd 50px,#4851e0 60px,#4b54e3 70px,#4d57e4 80px,#4e5ae5 90px,#4e5be6 100px,#4f5ce6 110px,#4f5ce6 120px,#4e5ae6 130px,#4d58e5 140px,#4b55e3 150px,#4952e1 160px,#474fde 170px,#444bda 180px,#4046d6 190px,#3e42d1 200px,#3b3ecc 210px,#393ac7 218px)"></i><i style="left:236px;background:linear-gradient(#2f2fa4 0px,#3133a9 10px,#3337ae 20px,#353ab3 30px,#383eb6 40px,#3b41b9 50px,#3d45bc 60px,#3f47be 70px,#414ac0 80px,#424cc1 90px,#424dc1 100px,#424ec1 110px,#424ec1 120px,#424dc1 130px,#414bc0 140px,#4048bf 150px,#3e45bd 160px,#3b42ba 170px,#393fb7 180px,#363bb4 190px,#3438b0 200px,#3234ab 210px,#3031a7 218px)"></i><i style="left:237px;background:linear-gradient(#2c2c9a 0px,#2e309f 10px,#3033a3 20px,#3237a8 30px,#353aab 40px,#373eae 50px,#3941b0 60px,#3b43b3 70px,#3d46b4 80px,#3e48b4 90px,#3e49b5 100px,#3e4ab5 110px,#3e4ab5 120px,#3e48b5 130px,#3d47b4 140px,#3c44b3 150px,#3a41b1 160px,#383faf 170px,#363bac 180px,#3338a9 190px,#3134a4 200px,#2f31a0 210px,#2d2e9c 218px)"></i><i style="left:238px;background:linear-gradient(#3838c4 0px,#3b3dca 10px,#3d42d0 20px,#4046d6 30px,#444bda 40px,#474fde 50px,#4a53e1 60px,#4c56e4 70px,#4e5ae5 80px,#4f5de6 90px,#505fe7 100px,#505fe7 110px,#505fe7 120px,#4f5de7 130px,#4e5be6 140px,#4d58e5 150px,#4b54e2 160px,#4850df 170px,#454cdb 180px,#4148d7 190px,#3e43d2 200px,#3c3ecc 210px,#393bc7 218px)"></i><i style="left:239px;background:linear-gradient(#3838c4 0px,#3b3dcb 10px,#3e42d1 20px,#4046d6 30px,#444bdb 40px,#4750de 50px,#4a54e2 60px,#4d57e5 70px,#4e5be6 80px,#505ee7 90px,#5060e7 100px,#5160e8 110px,#5160e8 120px,#505fe7 130px,#4f5ce6 140px,#4d59e5 150px,#4b55e3 160px,#4851e0 170px,#454ddc 180px,#4148d8 190px,#3e43d2 200px,#3c3fcc 210px,#3a3bc7 218px)"></i><i style="left:240px;background:linear-gradient(#3838c4 0px,#3b3dcb 10px,#3e42d1 20px,#4147d7 30px,#444cdb 40px,#4850df 50px,#4b54e2 60px,#4d58e5 70px,#4f5ce6 80px,#505fe7 90px,#5161e8 100px,#5161e8 110px,#5161e8 120px,#5060e7 130px,#4f5de7 140px,#4e5ae5 150px,#4b55e3 160px,#4951e0 170px,#454ddc 180px,#4248d8 190px,#3f43d3 200px,#3c3fcd 210px,#3a3bc7 218px)"></i><i style="left:241px;background:linear-gradient(#3838c4 0px,#3b3dcb 10px,#3e42d1 20px,#4147d7 30px,#454cdb 40px,#4851df 50px,#4b55e3 60px,#4d59e5 70px,#4f5de7 80px,#5160e8 90px,#5162e8 100px,#5262e9 110px,#5162e8 120px,#5161e8 130px,#505ee7 140px,#4e5ae6 150px,#4c56e4 160px,#4952e1 170px,#464edd 180px,#4249d8 190px,#3f44d3 200px,#3c3fcd 210px,#3a3bc8 218px)"></i><i style="left:242px;background:linear-gradient(#3838c4 0px,#3b3dcb 10px,#3e42d1 20px,#4147d7 30px,#454cdc 40px,#4851e0 50px,#4b55e3 60px,#4e5ae5 70px,#4f5ee7 80px,#5160e8 90px,#5262e8 100px,#5263e9 110px,#5263e9 120px,#5161e8 130px,#505fe7 140px,#4e5be6 150px,#4c56e4 160px,#4952e1 170px,#464edd 180px,#4249d8 190px,#3f44d3 200px,#3c3fcd 210px,#3a3bc8 218px)"></i><i style="left:243px;background:linear-gradient(#3838c4 0px,#3b3dcb 10px,#3e42d1 20px,#4147d7 30px,#454cdc 40px,#4851e0 50px,#4b55e3 60px,#4e5ae5 70px,#4f5ee7 80px,#5160e8 90px,#5262e8 100px,#5263e9 110px,#5263e9 120px,#5161e8 130px,#505fe7 140px,#4e5be6 150px,#4c56e4 160px,#4952e1 170px,#464edd 180px,#4249d8 190px,#3f44d3 200px,#3c3fcd 210px,#3a3bc8 218px)"></i><i style="left:244px;background:linear-gradient(#3838c4 0px,#3b3dcb 10px,#3e42d1 20px,#4147d7 30px,#454cdc 40px,#4851e0 50px,#4b55e3 60px,#4e5ae5 70px,#4f5ee7 80px,#5160e8 90px,#5262e8 100px,#5263e9 110px,#5263e9 120px,#5161e8 130px,#505fe7 140px,#4e5be6 150px,#4c56e4 160px,#4952e1 170px,#464edd 180px,#4249d8 190px,#3f44d3 200px,#3c3fcd 210px,#3a3bc8 218px)"></i><i style="left:245px;background:linear-gradient(#3838c4 0px,#3b3dcb 10px,#3e42d1 20px,#4147d7 30px,#454cdc 40px,#4851e0 50px,#4b55e3 60px,#4e5ae5 70px,#4f5ee7 80px,#5160e8 90px,#5262e8 100px,#5263e9 110px,#5263e9 120px,#5161e8 130px,#505fe7 140px,#4e5be6 150px,#4c56e4 160px,#4952e1 170px,#464edd 180px,#4249d8 190px,#3f44d3 200px,#3c3fcd 210px,#3a3bc8 218px)"></i><i style="left:246px;background:linear-gradient(#2e2e9f 0px,#3032a5 10px,#3236aa 20px,#353aae 30px,#383eb2 40px,#3b42b5 50px,#3d45b8 60px,#3f49ba 70px,#404cbb 80px,#414ebc 90px,#4250bd 100px,#4250bd 110px,#4250bd 120px,#424fbc 130px,#414dbb 140px,#3f4aba 150px,#3e46b9 160px,#3b43b6 170px,#393fb3 180px,#363bb0 190px,#3337ab 200px,#3133a6 210px,#2f30a2 218px)"></i></div><div class="edge" style="left:360px;top:30px;width:247px;height:218px"></div><div class="lb" style="left:360.3px;top:260px">0</div><div class="lb" style="left:434.9px;top:260px">1000</div><div class="lb" style="left:509.5px;top:260px">2000</div><div class="lb" style="left:584.1px;top:260px">3000</div><div class="cl" style="left:612.0px;top:257px;font-size:10.8px;color:#333">&micro;m</div><div class="cb" style="left:637px;top:46px;width:6px;height:204px;background:linear-gradient(to top,#3838c4 0.0%,#4046d6 5.4%,#4c56e4 10.8%,#566cec 16.2%,#6490f6 21.6%,#78c0f8 27.0%,#88d8f8 32.4%,#96e8f2 37.8%,#a6f6e6 43.1%,#b4f6d0 48.5%,#c8f0a0 53.9%,#e0f090 59.3%,#ecec80 64.7%,#f0c860 70.1%,#f09850 75.5%,#e87040 80.9%,#e04a38 86.3%,#d83830 91.7%,#c42626 97.1%,#b81e1e 100.0%)"></div><div class="cl" style="left:646px;top:244.6px">0</div><div class="cl" style="left:646px;top:216.3px">0.2</div><div class="ct" style="left:637px;top:221px"></div><div class="ct" style="left:642px;top:221px"></div><div class="cl" style="left:646px;top:187.9px">0.4</div><div class="ct" style="left:637px;top:192px"></div><div class="ct" style="left:642px;top:192px"></div><div class="cl" style="left:646px;top:159.6px">0.6</div><div class="ct" style="left:637px;top:164px"></div><div class="ct" style="left:642px;top:164px"></div><div class="cl" style="left:646px;top:131.3px">0.8</div><div class="ct" style="left:637px;top:136px"></div><div class="ct" style="left:642px;top:136px"></div><div class="cl" style="left:646px;top:103.0px">1</div><div class="ct" style="left:637px;top:107px"></div><div class="ct" style="left:642px;top:107px"></div><div class="cl" style="left:646px;top:74.6px">1.2</div><div class="ct" style="left:637px;top:79px"></div><div class="ct" style="left:642px;top:79px"></div><div class="cl" style="left:646px;top:46.3px">1.4</div><div class="ct" style="left:637px;top:51px"></div><div class="ct" style="left:642px;top:51px"></div><div class="cl" style="left:643px;top:29px"><span style="font-size:13px">&times;</span><span style="margin-left:0.5px">10</span><span style="font-size:9.5px;position:relative;top:-5.5px">3</span></div><div class="tp" style="left:75.0px;top:5px">(a)</div><div class="tm it" style="left:94.0px;top:4.5px;font-size:15px;transform:scaleX(1.35)">f</div><div class="tm" style="left:105.6px;top:6.5px;transform:scaleX(1.5)">=</div><div class="tm" style="left:120.6px;top:5.5px">0.</div><div class="tm" style="left:134.7px;top:5.5px">39075</div><div class="tm it" style="left:180.8px;top:5.5px;transform:scaleX(1.17);letter-spacing:0.3px">THz</div><div class="tp" style="left:423.5px;top:5px">(b)</div><div class="tm it" style="left:442.5px;top:4.5px;font-size:15px;transform:scaleX(1.35)">f</div><div class="tm" style="left:454.1px;top:6.5px;transform:scaleX(1.5)">=</div><div class="tm" style="left:469.1px;top:5.5px">0.</div><div class="tm" style="left:483.2px;top:5.5px">39075</div><div class="tm it" style="left:529.3px;top:5.5px;transform:scaleX(1.17);letter-spacing:0.3px">THz</div><svg class="a" style="left:0;top:0" width="685" height="271" viewBox="0 0 685 271"><rect x="3.50" y="22.75" width="278.00" height="232.15" fill="none" stroke="#a8a8a8" stroke-width="1.1"/><path d="M12.40 22.75v2.6M12.40 254.90v-2.6" stroke="#858585" stroke-width="1"/><path d="M86.73 22.75v2.6M86.73 254.90v-2.6" stroke="#858585" stroke-width="1"/><path d="M161.06 22.75v2.6M161.06 254.90v-2.6" stroke="#858585" stroke-width="1"/><path d="M235.39 22.75v2.6M235.39 254.90v-2.6" stroke="#858585" stroke-width="1"/><path d="M3.50 30.80h2.6M281.50 30.80h-2.6" stroke="#858585" stroke-width="1"/><path d="M3.50 45.24h2.6M281.50 45.24h-2.6" stroke="#858585" stroke-width="1"/><path d="M3.50 59.68h2.6M281.50 59.68h-2.6" stroke="#858585" stroke-width="1"/><path d="M3.50 74.12h2.6M281.50 74.12h-2.6" stroke="#858585" stroke-width="1"/><path d="M3.50 88.56h2.6M281.50 88.56h-2.6" stroke="#858585" stroke-width="1"/><path d="M3.50 103.00h2.6M281.50 103.00h-2.6" stroke="#858585" stroke-width="1"/><path d="M3.50 117.44h2.6M281.50 117.44h-2.6" stroke="#858585" stroke-width="1"/><path d="M3.50 131.88h2.6M281.50 131.88h-2.6" stroke="#858585" stroke-width="1"/><path d="M3.50 146.32h2.6M281.50 146.32h-2.6" stroke="#858585" stroke-width="1"/><path d="M3.50 160.76h2.6M281.50 160.76h-2.6" stroke="#858585" stroke-width="1"/><path d="M3.50 175.20h2.6M281.50 175.20h-2.6" stroke="#858585" stroke-width="1"/><path d="M3.50 189.64h2.6M281.50 189.64h-2.6" stroke="#858585" stroke-width="1"/><path d="M3.50 204.08h2.6M281.50 204.08h-2.6" stroke="#858585" stroke-width="1"/><path d="M3.50 218.52h2.6M281.50 218.52h-2.6" stroke="#858585" stroke-width="1"/><path d="M3.50 232.96h2.6M281.50 232.96h-2.6" stroke="#858585" stroke-width="1"/><path d="M3.50 247.40h2.6M281.50 247.40h-2.6" stroke="#858585" stroke-width="1"/><rect x="350.50" y="22.75" width="279.00" height="232.35" fill="none" stroke="#a8a8a8" stroke-width="1.1"/><path d="M360.30 22.75v2.6M360.30 255.10v-2.6" stroke="#858585" stroke-width="1"/><path d="M434.90 22.75v2.6M434.90 255.10v-2.6" stroke="#858585" stroke-width="1"/><path d="M509.50 22.75v2.6M509.50 255.10v-2.6" stroke="#858585" stroke-width="1"/><path d="M584.10 22.75v2.6M584.10 255.10v-2.6" stroke="#858585" stroke-width="1"/><path d="M350.50 30.80h2.6M629.50 30.80h-2.6" stroke="#858585" stroke-width="1"/><path d="M350.50 45.24h2.6M629.50 45.24h-2.6" stroke="#858585" stroke-width="1"/><path d="M350.50 59.68h2.6M629.50 59.68h-2.6" stroke="#858585" stroke-width="1"/><path d="M350.50 74.12h2.6M629.50 74.12h-2.6" stroke="#858585" stroke-width="1"/><path d="M350.50 88.56h2.6M629.50 88.56h-2.6" stroke="#858585" stroke-width="1"/><path d="M350.50 103.00h2.6M629.50 103.00h-2.6" stroke="#858585" stroke-width="1"/><path d="M350.50 117.44h2.6M629.50 117.44h-2.6" stroke="#858585" stroke-width="1"/><path d="M350.50 131.88h2.6M629.50 131.88h-2.6" stroke="#858585" stroke-width="1"/><path d="M350.50 146.32h2.6M629.50 146.32h-2.6" stroke="#858585" stroke-width="1"/><path d="M350.50 160.76h2.6M629.50 160.76h-2.6" stroke="#858585" stroke-width="1"/><path d="M350.50 175.20h2.6M629.50 175.20h-2.6" stroke="#858585" stroke-width="1"/><path d="M350.50 189.64h2.6M629.50 189.64h-2.6" stroke="#858585" stroke-width="1"/><path d="M350.50 204.08h2.6M629.50 204.08h-2.6" stroke="#858585" stroke-width="1"/><path d="M350.50 218.52h2.6M629.50 218.52h-2.6" stroke="#858585" stroke-width="1"/><path d="M350.50 232.96h2.6M629.50 232.96h-2.6" stroke="#858585" stroke-width="1"/><path d="M350.50 247.40h2.6M629.50 247.40h-2.6" stroke="#858585" stroke-width="1"/></svg><div class="ico" style="left:328px;top:5px"></div><div class="ico" style="left:677px;top:5px;width:5.5px;height:4.5px"></div></body></html>
